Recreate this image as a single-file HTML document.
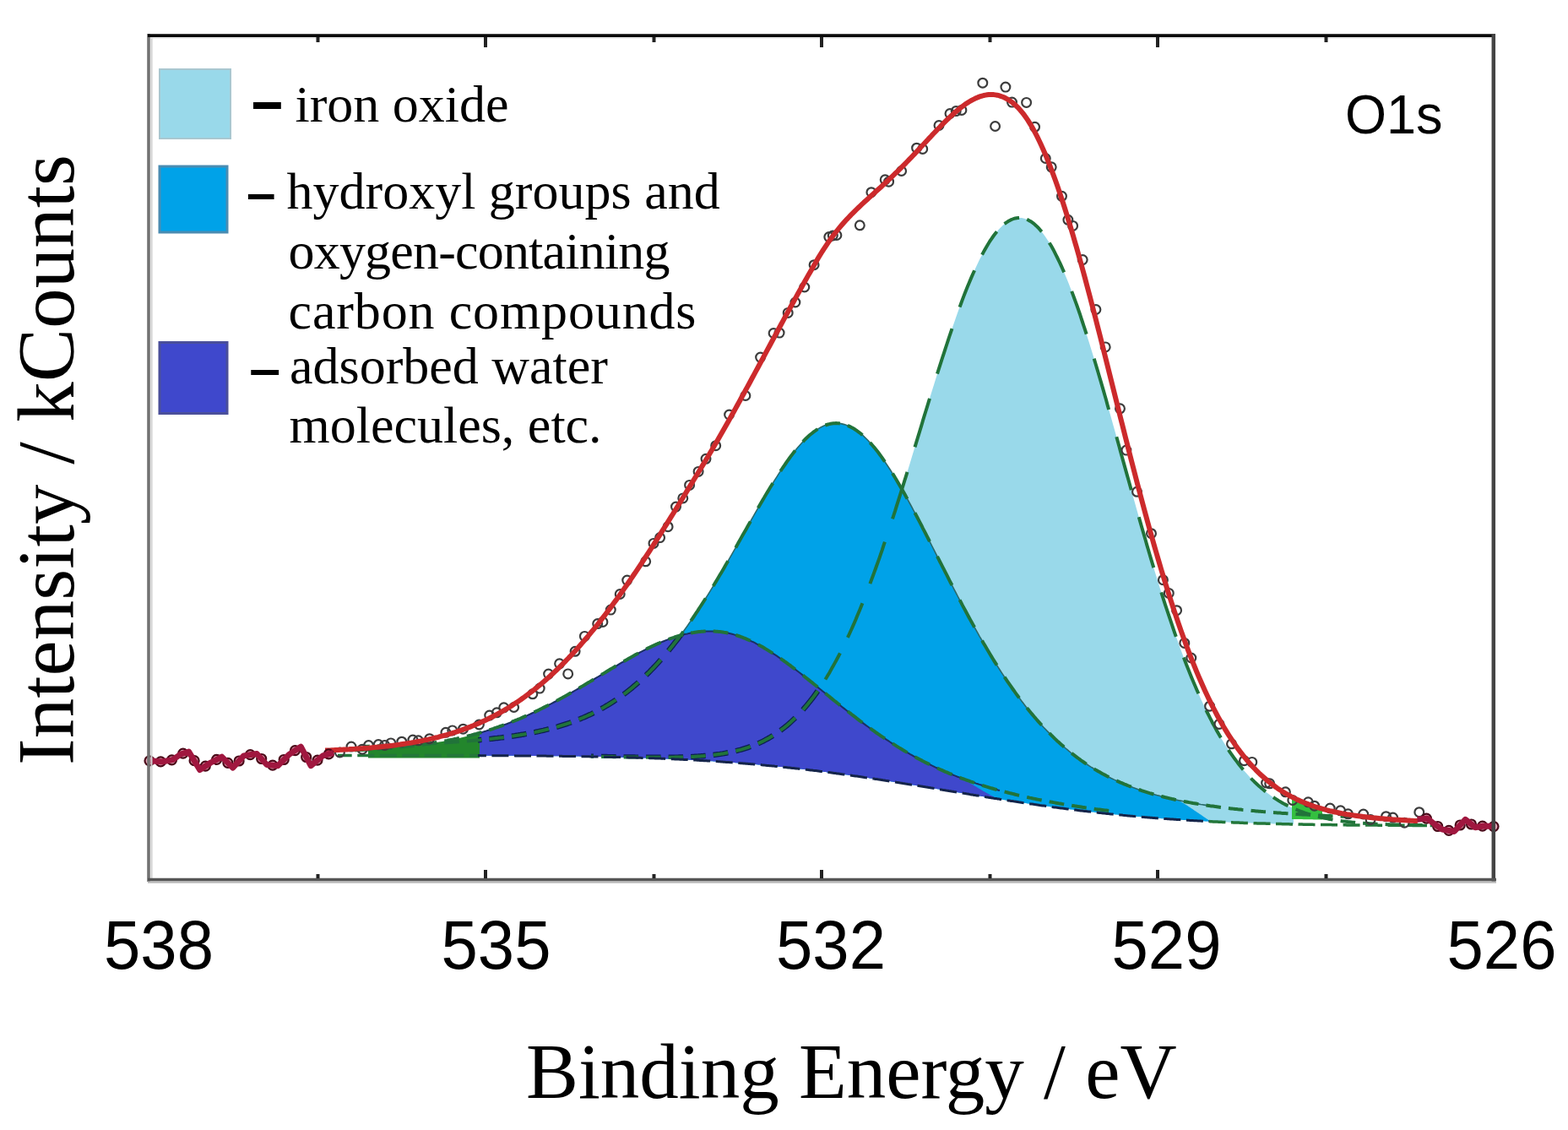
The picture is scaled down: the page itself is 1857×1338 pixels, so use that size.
<!DOCTYPE html>
<html><head><meta charset="utf-8"><title>O1s XPS spectrum</title>
<style>html,body{margin:0;padding:0;background:#fff;overflow:hidden}svg{display:block}</style>
</head><body>
<svg width="1857" height="1338" viewBox="0 0 1857 1338">
<rect width="1857" height="1338" fill="#fff"/>
<path d="M700.0,895.8 L702.0,895.8 L704.0,895.8 L706.0,895.9 L708.0,895.9 L710.0,895.9 L712.0,896.0 L714.0,896.0 L716.0,896.0 L718.0,896.0 L720.0,896.1 L722.0,896.1 L724.0,896.1 L726.0,896.2 L728.0,896.2 L730.0,896.2 L732.0,896.3 L734.0,896.3 L736.0,896.3 L738.0,896.4 L740.0,896.4 L742.0,896.4 L744.0,896.4 L746.0,896.5 L748.0,896.5 L750.0,896.5 L752.0,896.5 L754.0,896.6 L756.0,896.6 L758.0,896.6 L760.0,896.6 L762.0,896.7 L764.0,896.7 L766.0,896.7 L768.0,896.7 L770.0,896.7 L772.0,896.7 L774.0,896.8 L776.0,896.8 L778.0,896.8 L780.0,896.8 L782.0,896.8 L784.0,896.8 L786.0,896.8 L788.0,896.8 L790.0,896.7 L792.0,896.7 L794.0,896.7 L796.0,896.7 L798.0,896.7 L800.0,896.6 L802.0,896.6 L804.0,896.5 L806.0,896.5 L808.0,896.4 L810.0,896.4 L812.0,896.3 L814.0,896.2 L816.0,896.2 L818.0,896.1 L820.0,896.0 L822.0,895.9 L824.0,895.8 L826.0,895.6 L828.0,895.5 L830.0,895.4 L832.0,895.2 L834.0,895.0 L836.0,894.9 L838.0,894.7 L840.0,894.5 L842.0,894.3 L844.0,894.0 L846.0,893.8 L848.0,893.5 L850.0,893.3 L852.0,893.0 L854.0,892.7 L856.0,892.3 L858.0,892.0 L860.0,891.6 L862.0,891.3 L864.0,890.9 L866.0,890.5 L868.0,890.0 L870.0,889.5 L872.0,889.1 L874.0,888.5 L876.0,888.0 L878.0,887.4 L880.0,886.9 L882.0,886.2 L884.0,885.6 L886.0,884.9 L888.0,884.2 L890.0,883.5 L892.0,882.7 L894.0,881.9 L896.0,881.1 L898.0,880.2 L900.0,879.3 L902.0,878.3 L904.0,877.4 L906.0,876.3 L908.0,875.3 L910.0,874.2 L912.0,873.0 L914.0,871.8 L916.0,870.6 L918.0,869.3 L920.0,868.0 L922.0,866.6 L924.0,865.1 L926.0,863.7 L928.0,862.1 L930.0,860.5 L932.0,858.9 L934.0,857.2 L936.0,855.4 L938.0,853.6 L940.0,851.8 L942.0,849.8 L944.0,847.8 L946.0,845.8 L948.0,843.7 L950.0,841.5 L952.0,839.2 L954.0,836.9 L956.0,834.5 L958.0,832.1 L960.0,829.5 L962.0,826.9 L964.0,824.3 L966.0,821.5 L968.0,818.7 L970.0,815.8 L972.0,812.9 L974.0,809.8 L976.0,806.7 L978.0,803.5 L980.0,800.3 L982.0,796.9 L984.0,793.5 L986.0,790.0 L988.0,786.4 L990.0,782.7 L992.0,779.0 L994.0,775.1 L996.0,771.2 L998.0,767.2 L1000.0,763.1 L1002.0,759.0 L1004.0,754.7 L1006.0,750.4 L1008.0,746.0 L1010.0,741.5 L1012.0,736.9 L1014.0,732.3 L1016.0,727.5 L1018.0,722.7 L1020.0,717.8 L1022.0,712.9 L1024.0,707.8 L1026.0,702.7 L1028.0,697.5 L1030.0,692.2 L1032.0,686.9 L1034.0,681.4 L1036.0,676.0 L1038.0,670.4 L1040.0,664.8 L1042.0,659.1 L1044.0,653.3 L1046.0,647.5 L1048.0,641.6 L1050.0,635.6 L1052.0,629.6 L1054.0,623.5 L1056.0,617.4 L1058.0,611.3 L1060.0,605.1 L1062.0,598.8 L1064.0,592.5 L1066.0,586.1 L1068.0,579.8 L1070.0,573.3 L1072.0,566.9 L1074.0,560.4 L1076.0,553.9 L1078.0,547.4 L1080.0,540.8 L1082.0,534.3 L1084.0,527.7 L1086.0,521.1 L1088.0,514.5 L1090.0,508.0 L1092.0,501.4 L1094.0,494.8 L1096.0,488.2 L1098.0,481.7 L1100.0,475.1 L1102.0,468.6 L1104.0,462.1 L1106.0,455.7 L1108.0,449.2 L1110.0,442.8 L1112.0,436.5 L1114.0,430.2 L1116.0,423.9 L1118.0,417.7 L1120.0,411.6 L1122.0,405.5 L1124.0,399.5 L1126.0,393.6 L1128.0,387.7 L1130.0,381.9 L1132.0,376.2 L1134.0,370.6 L1136.0,365.1 L1138.0,359.7 L1140.0,354.4 L1142.0,349.2 L1144.0,344.1 L1146.0,339.1 L1148.0,334.2 L1150.0,329.5 L1152.0,324.8 L1154.0,320.3 L1156.0,316.0 L1158.0,311.7 L1160.0,307.6 L1162.0,303.7 L1164.0,299.9 L1166.0,296.2 L1168.0,292.7 L1170.0,289.3 L1172.0,286.1 L1174.0,283.1 L1176.0,280.2 L1178.0,277.5 L1180.0,275.0 L1182.0,272.6 L1184.0,270.4 L1186.0,268.4 L1188.0,266.5 L1190.0,264.8 L1192.0,263.3 L1194.0,262.0 L1196.0,260.9 L1198.0,259.9 L1200.0,259.2 L1202.0,258.6 L1204.0,258.2 L1206.0,258.0 L1208.0,258.0 L1210.0,258.1 L1212.0,258.5 L1214.0,259.0 L1216.0,259.7 L1218.0,260.7 L1220.0,261.8 L1222.0,263.1 L1224.0,264.6 L1226.0,266.2 L1228.0,268.1 L1230.0,270.2 L1232.0,272.4 L1234.0,274.8 L1236.0,277.4 L1238.0,280.2 L1240.0,283.2 L1242.0,286.3 L1244.0,289.6 L1246.0,293.1 L1248.0,296.7 L1250.0,300.5 L1252.0,304.5 L1254.0,308.6 L1256.0,312.9 L1258.0,317.4 L1260.0,321.9 L1262.0,326.7 L1264.0,331.5 L1266.0,336.6 L1268.0,341.7 L1270.0,347.0 L1272.0,352.4 L1274.0,357.9 L1276.0,363.6 L1278.0,369.3 L1280.0,375.2 L1282.0,381.2 L1284.0,387.2 L1286.0,393.4 L1288.0,399.7 L1290.0,406.0 L1292.0,412.5 L1294.0,419.0 L1296.0,425.6 L1298.0,432.3 L1300.0,439.0 L1302.0,445.8 L1304.0,452.7 L1306.0,459.6 L1308.0,466.5 L1310.0,473.6 L1312.0,480.6 L1314.0,487.7 L1316.0,494.8 L1318.0,501.9 L1320.0,509.1 L1322.0,516.3 L1324.0,523.5 L1326.0,530.7 L1328.0,537.9 L1330.0,545.1 L1332.0,552.3 L1334.0,559.5 L1336.0,566.7 L1338.0,573.9 L1340.0,581.1 L1342.0,588.2 L1344.0,595.3 L1346.0,602.4 L1348.0,609.5 L1350.0,616.5 L1352.0,623.5 L1354.0,630.5 L1356.0,637.4 L1358.0,644.2 L1360.0,651.1 L1362.0,657.8 L1364.0,664.5 L1366.0,671.2 L1368.0,677.8 L1370.0,684.3 L1372.0,690.8 L1374.0,697.2 L1376.0,703.5 L1378.0,709.7 L1380.0,715.9 L1382.0,722.1 L1384.0,728.1 L1386.0,734.1 L1388.0,739.9 L1390.0,745.8 L1392.0,751.5 L1394.0,757.1 L1396.0,762.7 L1398.0,768.2 L1400.0,773.6 L1402.0,778.9 L1404.0,784.1 L1406.0,789.2 L1408.0,794.3 L1410.0,799.3 L1412.0,804.1 L1414.0,808.9 L1416.0,813.6 L1418.0,818.2 L1420.0,822.8 L1422.0,827.2 L1424.0,831.5 L1426.0,835.8 L1428.0,840.0 L1430.0,844.1 L1432.0,848.1 L1434.0,852.0 L1436.0,855.8 L1438.0,859.5 L1440.0,863.2 L1442.0,866.8 L1444.0,870.3 L1446.0,873.7 L1448.0,877.0 L1450.0,880.3 L1452.0,883.4 L1454.0,886.5 L1456.0,889.5 L1458.0,892.5 L1460.0,895.3 L1462.0,898.1 L1464.0,900.8 L1466.0,903.4 L1468.0,906.0 L1470.0,908.5 L1472.0,910.9 L1474.0,913.3 L1476.0,915.6 L1478.0,917.8 L1480.0,919.9 L1482.0,922.0 L1484.0,924.1 L1486.0,926.0 L1488.0,927.9 L1490.0,929.8 L1492.0,931.6 L1494.0,933.3 L1496.0,935.0 L1498.0,936.6 L1500.0,938.2 L1502.0,939.7 L1504.0,941.2 L1506.0,942.7 L1508.0,944.0 L1510.0,945.4 L1512.0,946.7 L1514.0,947.9 L1516.0,949.1 L1518.0,950.3 L1520.0,951.4 L1522.0,952.4 L1524.0,953.5 L1526.0,954.5 L1528.0,955.5 L1530.0,956.4 L1532.0,957.3 L1532.0,975.9 L1530.0,975.9 L1528.0,975.9 L1526.0,975.8 L1524.0,975.8 L1522.0,975.7 L1520.0,975.7 L1518.0,975.6 L1516.0,975.6 L1514.0,975.5 L1512.0,975.5 L1510.0,975.4 L1508.0,975.4 L1506.0,975.3 L1504.0,975.3 L1502.0,975.2 L1500.0,975.2 L1498.0,975.1 L1496.0,975.1 L1494.0,975.0 L1492.0,975.0 L1490.0,974.9 L1488.0,974.8 L1486.0,974.8 L1484.0,974.7 L1482.0,974.6 L1480.0,974.6 L1478.0,974.5 L1476.0,974.4 L1474.0,974.4 L1472.0,974.3 L1470.0,974.2 L1468.0,974.2 L1466.0,974.1 L1464.0,974.0 L1462.0,973.9 L1460.0,973.9 L1458.0,973.8 L1456.0,973.7 L1454.0,973.6 L1452.0,973.5 L1450.0,973.4 L1448.0,973.4 L1446.0,973.3 L1444.0,973.2 L1442.0,973.1 L1440.0,973.0 L1438.0,972.9 L1436.0,972.8 L1434.0,972.7 L1432.0,972.6 L1430.0,972.5 L1428.0,972.4 L1426.0,972.3 L1424.0,972.2 L1422.0,972.1 L1420.0,972.0 L1418.0,971.9 L1416.0,971.8 L1414.0,971.7 L1412.0,971.6 L1410.0,971.4 L1408.0,971.3 L1406.0,971.2 L1404.0,971.1 L1402.0,971.0 L1400.0,970.8 L1398.0,970.7 L1396.0,970.6 L1394.0,970.4 L1392.0,970.3 L1390.0,970.2 L1388.0,970.0 L1386.0,969.9 L1384.0,969.8 L1382.0,969.6 L1380.0,969.5 L1378.0,969.3 L1376.0,969.2 L1374.0,969.1 L1372.0,968.9 L1370.0,968.8 L1368.0,968.6 L1366.0,968.4 L1364.0,968.3 L1362.0,968.1 L1360.0,968.0 L1358.0,967.8 L1356.0,967.6 L1354.0,967.5 L1352.0,967.3 L1350.0,967.1 L1348.0,967.0 L1346.0,966.8 L1344.0,966.6 L1342.0,966.4 L1340.0,966.2 L1338.0,966.1 L1336.0,965.9 L1334.0,965.7 L1332.0,965.5 L1330.0,965.3 L1328.0,965.1 L1326.0,964.9 L1324.0,964.7 L1322.0,964.5 L1320.0,964.3 L1318.0,964.1 L1316.0,963.9 L1314.0,963.7 L1312.0,963.5 L1310.0,963.3 L1308.0,963.1 L1306.0,962.9 L1304.0,962.6 L1302.0,962.4 L1300.0,962.2 L1298.0,962.0 L1296.0,961.7 L1294.0,961.5 L1292.0,961.3 L1290.0,961.1 L1288.0,960.8 L1286.0,960.6 L1284.0,960.4 L1282.0,960.1 L1280.0,959.9 L1278.0,959.6 L1276.0,959.4 L1274.0,959.1 L1272.0,958.9 L1270.0,958.6 L1268.0,958.4 L1266.0,958.1 L1264.0,957.9 L1262.0,957.6 L1260.0,957.4 L1258.0,957.1 L1256.0,956.8 L1254.0,956.6 L1252.0,956.3 L1250.0,956.0 L1248.0,955.8 L1246.0,955.5 L1244.0,955.2 L1242.0,954.9 L1240.0,954.7 L1238.0,954.4 L1236.0,954.1 L1234.0,953.8 L1232.0,953.5 L1230.0,953.2 L1228.0,953.0 L1226.0,952.7 L1224.0,952.4 L1222.0,952.1 L1220.0,951.8 L1218.0,951.5 L1216.0,951.2 L1214.0,950.9 L1212.0,950.6 L1210.0,950.3 L1208.0,950.0 L1206.0,949.7 L1204.0,949.4 L1202.0,949.1 L1200.0,948.8 L1198.0,948.5 L1196.0,948.2 L1194.0,947.9 L1192.0,947.6 L1190.0,947.2 L1188.0,946.9 L1186.0,946.6 L1184.0,946.3 L1182.0,946.0 L1180.0,945.7 L1178.0,945.3 L1176.0,945.0 L1174.0,944.7 L1172.0,944.4 L1170.0,944.1 L1168.0,943.7 L1166.0,943.4 L1164.0,943.1 L1162.0,942.8 L1160.0,942.4 L1158.0,942.1 L1156.0,941.8 L1154.0,941.5 L1152.0,941.1 L1150.0,940.8 L1148.0,940.5 L1146.0,940.1 L1144.0,939.8 L1142.0,939.5 L1140.0,939.1 L1138.0,938.8 L1136.0,938.5 L1134.0,938.2 L1132.0,937.8 L1130.0,937.5 L1128.0,937.2 L1126.0,936.8 L1124.0,936.5 L1122.0,936.2 L1120.0,935.8 L1118.0,935.5 L1116.0,935.2 L1114.0,934.8 L1112.0,934.5 L1110.0,934.2 L1108.0,933.8 L1106.0,933.5 L1104.0,933.2 L1102.0,932.8 L1100.0,932.5 L1098.0,932.2 L1096.0,931.9 L1094.0,931.5 L1092.0,931.2 L1090.0,930.9 L1088.0,930.5 L1086.0,930.2 L1084.0,929.9 L1082.0,929.6 L1080.0,929.2 L1078.0,928.9 L1076.0,928.6 L1074.0,928.3 L1072.0,927.9 L1070.0,927.6 L1068.0,927.3 L1066.0,927.0 L1064.0,926.7 L1062.0,926.3 L1060.0,926.0 L1058.0,925.7 L1056.0,925.4 L1054.0,925.1 L1052.0,924.8 L1050.0,924.4 L1048.0,924.1 L1046.0,923.8 L1044.0,923.5 L1042.0,923.2 L1040.0,922.9 L1038.0,922.6 L1036.0,922.3 L1034.0,922.0 L1032.0,921.7 L1030.0,921.4 L1028.0,921.1 L1026.0,920.8 L1024.0,920.5 L1022.0,920.2 L1020.0,919.9 L1018.0,919.6 L1016.0,919.3 L1014.0,919.0 L1012.0,918.7 L1010.0,918.5 L1008.0,918.2 L1006.0,917.9 L1004.0,917.6 L1002.0,917.3 L1000.0,917.1 L998.0,916.8 L996.0,916.5 L994.0,916.2 L992.0,916.0 L990.0,915.7 L988.0,915.4 L986.0,915.2 L984.0,914.9 L982.0,914.6 L980.0,914.4 L978.0,914.1 L976.0,913.9 L974.0,913.6 L972.0,913.4 L970.0,913.1 L968.0,912.9 L966.0,912.6 L964.0,912.4 L962.0,912.1 L960.0,911.9 L958.0,911.6 L956.0,911.4 L954.0,911.2 L952.0,910.9 L950.0,910.7 L948.0,910.5 L946.0,910.3 L944.0,910.0 L942.0,909.8 L940.0,909.6 L938.0,909.4 L936.0,909.1 L934.0,908.9 L932.0,908.7 L930.0,908.5 L928.0,908.3 L926.0,908.1 L924.0,907.9 L922.0,907.7 L920.0,907.5 L918.0,907.3 L916.0,907.1 L914.0,906.9 L912.0,906.7 L910.0,906.5 L908.0,906.3 L906.0,906.1 L904.0,905.9 L902.0,905.8 L900.0,905.6 L898.0,905.4 L896.0,905.2 L894.0,905.0 L892.0,904.9 L890.0,904.7 L888.0,904.5 L886.0,904.4 L884.0,904.2 L882.0,904.0 L880.0,903.9 L878.0,903.7 L876.0,903.6 L874.0,903.4 L872.0,903.2 L870.0,903.1 L868.0,902.9 L866.0,902.8 L864.0,902.7 L862.0,902.5 L860.0,902.4 L858.0,902.2 L856.0,902.1 L854.0,901.9 L852.0,901.8 L850.0,901.7 L848.0,901.6 L846.0,901.4 L844.0,901.3 L842.0,901.2 L840.0,901.0 L838.0,900.9 L836.0,900.8 L834.0,900.7 L832.0,900.6 L830.0,900.4 L828.0,900.3 L826.0,900.2 L824.0,900.1 L822.0,900.0 L820.0,899.9 L818.0,899.8 L816.0,899.7 L814.0,899.6 L812.0,899.5 L810.0,899.4 L808.0,899.3 L806.0,899.2 L804.0,899.1 L802.0,899.0 L800.0,898.9 L798.0,898.8 L796.0,898.7 L794.0,898.6 L792.0,898.6 L790.0,898.5 L788.0,898.4 L786.0,898.3 L784.0,898.2 L782.0,898.1 L780.0,898.1 L778.0,898.0 L776.0,897.9 L774.0,897.8 L772.0,897.8 L770.0,897.7 L768.0,897.6 L766.0,897.6 L764.0,897.5 L762.0,897.4 L760.0,897.4 L758.0,897.3 L756.0,897.2 L754.0,897.2 L752.0,897.1 L750.0,897.0 L748.0,897.0 L746.0,896.9 L744.0,896.9 L742.0,896.8 L740.0,896.8 L738.0,896.7 L736.0,896.7 L734.0,896.6 L732.0,896.6 L730.0,896.5 L728.0,896.5 L726.0,896.4 L724.0,896.4 L722.0,896.3 L720.0,896.3 L718.0,896.2 L716.0,896.2 L714.0,896.1 L712.0,896.1 L710.0,896.1 L708.0,896.0 L706.0,896.0 L704.0,895.9 L702.0,895.9 L700.0,895.9 Z" fill="#99d9ea"/>
<path d="M560.0,876.9 L561.0,876.8 L562.0,876.7 L563.0,876.6 L564.0,876.5 L565.0,876.4 L566.0,876.4 L567.0,876.3 L568.0,876.2 L569.0,876.1 L570.0,876.0 L571.0,875.9 L572.0,875.8 L573.0,875.7 L574.0,875.6 L575.0,875.5 L576.0,875.4 L577.0,875.3 L578.0,875.2 L579.0,875.1 L580.0,875.0 L581.0,874.9 L582.0,874.7 L583.0,874.6 L584.0,874.5 L585.0,874.4 L586.0,874.3 L587.0,874.2 L588.0,874.1 L589.0,873.9 L590.0,873.8 L591.0,873.7 L592.0,873.6 L593.0,873.5 L594.0,873.3 L595.0,873.2 L596.0,873.1 L597.0,873.0 L598.0,872.8 L599.0,872.7 L600.0,872.6 L601.0,872.4 L602.0,872.3 L603.0,872.1 L604.0,872.0 L605.0,871.9 L606.0,871.7 L607.0,871.6 L608.0,871.4 L609.0,871.3 L610.0,871.1 L611.0,871.0 L612.0,870.8 L613.0,870.7 L614.0,870.5 L615.0,870.3 L616.0,870.2 L617.0,870.0 L618.0,869.9 L619.0,869.7 L620.0,869.5 L621.0,869.3 L622.0,869.2 L623.0,869.0 L624.0,868.8 L625.0,868.6 L626.0,868.4 L627.0,868.3 L628.0,868.1 L629.0,867.9 L630.0,867.7 L631.0,867.5 L632.0,867.3 L633.0,867.1 L634.0,866.9 L635.0,866.7 L636.0,866.5 L637.0,866.2 L638.0,866.0 L639.0,865.8 L640.0,865.6 L641.0,865.4 L642.0,865.1 L643.0,864.9 L644.0,864.7 L645.0,864.4 L646.0,864.2 L647.0,864.0 L648.0,863.7 L649.0,863.5 L650.0,863.2 L651.0,863.0 L652.0,862.7 L653.0,862.5 L654.0,862.2 L655.0,861.9 L656.0,861.6 L657.0,861.4 L658.0,861.1 L659.0,860.8 L660.0,860.5 L661.0,860.2 L662.0,859.9 L663.0,859.6 L664.0,859.3 L665.0,859.0 L666.0,858.7 L667.0,858.4 L668.0,858.1 L669.0,857.8 L670.0,857.5 L671.0,857.1 L672.0,856.8 L673.0,856.5 L674.0,856.1 L675.0,855.8 L676.0,855.4 L677.0,855.1 L678.0,854.7 L679.0,854.3 L680.0,854.0 L681.0,853.6 L682.0,853.2 L683.0,852.8 L684.0,852.4 L685.0,852.0 L686.0,851.6 L687.0,851.2 L688.0,850.8 L689.0,850.4 L690.0,850.0 L691.0,849.6 L692.0,849.1 L693.0,848.7 L694.0,848.3 L695.0,847.8 L696.0,847.4 L697.0,846.9 L698.0,846.4 L699.0,846.0 L700.0,845.5 L701.0,845.0 L702.0,844.5 L703.0,844.0 L704.0,843.5 L705.0,843.0 L706.0,842.5 L707.0,842.0 L708.0,841.5 L709.0,841.0 L710.0,840.4 L711.0,839.9 L712.0,839.3 L713.0,838.8 L714.0,838.2 L715.0,837.6 L716.0,837.1 L717.0,836.5 L718.0,835.9 L719.0,835.3 L720.0,834.7 L721.0,834.1 L722.0,833.5 L723.0,832.9 L724.0,832.2 L725.0,831.6 L726.0,830.9 L727.0,830.3 L728.0,829.6 L729.0,829.0 L730.0,828.3 L731.0,827.6 L732.0,826.9 L733.0,826.2 L734.0,825.5 L735.0,824.8 L736.0,824.1 L737.0,823.4 L738.0,822.6 L739.0,821.9 L740.0,821.1 L741.0,820.4 L742.0,819.6 L743.0,818.8 L744.0,818.0 L745.0,817.2 L746.0,816.4 L747.0,815.6 L748.0,814.8 L749.0,814.0 L750.0,813.2 L751.0,812.3 L752.0,811.5 L753.0,810.6 L754.0,809.7 L755.0,808.9 L756.0,808.0 L757.0,807.1 L758.0,806.2 L759.0,805.3 L760.0,804.4 L761.0,803.4 L762.0,802.5 L763.0,801.6 L764.0,800.6 L765.0,799.6 L766.0,798.7 L767.0,797.7 L768.0,796.7 L769.0,795.7 L770.0,794.7 L771.0,793.7 L772.0,792.6 L773.0,791.6 L774.0,790.6 L775.0,789.5 L776.0,788.4 L777.0,787.4 L778.0,786.3 L779.0,785.2 L780.0,784.1 L781.0,783.0 L782.0,781.9 L783.0,780.7 L784.0,779.6 L785.0,778.4 L786.0,777.3 L787.0,776.1 L788.0,774.9 L789.0,773.8 L790.0,772.6 L791.0,771.4 L792.0,770.2 L793.0,768.9 L794.0,767.7 L795.0,766.5 L796.0,765.2 L797.0,764.0 L798.0,762.7 L799.0,761.4 L800.0,760.1 L801.0,758.8 L802.0,757.5 L803.0,756.2 L804.0,754.9 L805.0,753.6 L806.0,752.2 L807.0,750.9 L808.0,749.5 L809.0,748.1 L810.0,746.8 L811.0,745.4 L812.0,744.0 L813.0,742.6 L814.0,741.2 L815.0,739.8 L816.0,738.3 L817.0,736.9 L818.0,735.4 L819.0,734.0 L820.0,732.5 L821.0,731.1 L822.0,729.6 L823.0,728.1 L824.0,726.6 L825.0,725.1 L826.0,723.6 L827.0,722.1 L828.0,720.5 L829.0,719.0 L830.0,717.4 L831.0,715.9 L832.0,714.3 L833.0,712.8 L834.0,711.2 L835.0,709.6 L836.0,708.0 L837.0,706.4 L838.0,704.8 L839.0,703.2 L840.0,701.6 L841.0,700.0 L842.0,698.4 L843.0,696.7 L844.0,695.1 L845.0,693.4 L846.0,691.8 L847.0,690.1 L848.0,688.5 L849.0,686.8 L850.0,685.1 L851.0,683.4 L852.0,681.7 L853.0,680.0 L854.0,678.3 L855.0,676.6 L856.0,674.9 L857.0,673.2 L858.0,671.5 L859.0,669.8 L860.0,668.1 L861.0,666.3 L862.0,664.6 L863.0,662.9 L864.0,661.1 L865.0,659.4 L866.0,657.6 L867.0,655.9 L868.0,654.1 L869.0,652.4 L870.0,650.6 L871.0,648.8 L872.0,647.1 L873.0,645.3 L874.0,643.6 L875.0,641.8 L876.0,640.0 L877.0,638.2 L878.0,636.5 L879.0,634.7 L880.0,632.9 L881.0,631.2 L882.0,629.4 L883.0,627.6 L884.0,625.8 L885.0,624.1 L886.0,622.3 L887.0,620.5 L888.0,618.8 L889.0,617.0 L890.0,615.2 L891.0,613.5 L892.0,611.7 L893.0,610.0 L894.0,608.2 L895.0,606.5 L896.0,604.7 L897.0,603.0 L898.0,601.2 L899.0,599.5 L900.0,597.8 L901.0,596.0 L902.0,594.3 L903.0,592.6 L904.0,590.9 L905.0,589.2 L906.0,587.5 L907.0,585.8 L908.0,584.1 L909.0,582.4 L910.0,580.8 L911.0,579.1 L912.0,577.4 L913.0,575.8 L914.0,574.2 L915.0,572.5 L916.0,570.9 L917.0,569.3 L918.0,567.7 L919.0,566.1 L920.0,564.6 L921.0,563.0 L922.0,561.4 L923.0,559.9 L924.0,558.4 L925.0,556.8 L926.0,555.3 L927.0,553.8 L928.0,552.4 L929.0,550.9 L930.0,549.5 L931.0,548.0 L932.0,546.6 L933.0,545.2 L934.0,543.8 L935.0,542.4 L936.0,541.1 L937.0,539.7 L938.0,538.4 L939.0,537.1 L940.0,535.8 L941.0,534.5 L942.0,533.3 L943.0,532.1 L944.0,530.8 L945.0,529.7 L946.0,528.5 L947.0,527.3 L948.0,526.2 L949.0,525.1 L950.0,524.0 L951.0,522.9 L952.0,521.9 L953.0,520.8 L954.0,519.8 L955.0,518.9 L956.0,517.9 L957.0,517.0 L958.0,516.1 L959.0,515.2 L960.0,514.3 L961.0,513.5 L962.0,512.7 L963.0,511.9 L964.0,511.1 L965.0,510.4 L966.0,509.7 L967.0,509.0 L968.0,508.3 L969.0,507.7 L970.0,507.1 L971.0,506.5 L972.0,506.0 L973.0,505.5 L974.0,505.0 L975.0,504.5 L976.0,504.1 L977.0,503.7 L978.0,503.3 L979.0,503.0 L980.0,502.7 L981.0,502.4 L982.0,502.1 L983.0,501.9 L984.0,501.7 L985.0,501.5 L986.0,501.4 L987.0,501.3 L988.0,501.2 L989.0,501.1 L990.0,501.1 L991.0,501.1 L992.0,501.2 L993.0,501.2 L994.0,501.3 L995.0,501.5 L996.0,501.6 L997.0,501.8 L998.0,502.1 L999.0,502.3 L1000.0,502.6 L1001.0,502.9 L1002.0,503.2 L1003.0,503.6 L1004.0,504.0 L1005.0,504.4 L1006.0,504.8 L1007.0,505.3 L1008.0,505.8 L1009.0,506.4 L1010.0,506.9 L1011.0,507.5 L1012.0,508.1 L1013.0,508.8 L1014.0,509.4 L1015.0,510.1 L1016.0,510.8 L1017.0,511.6 L1018.0,512.4 L1019.0,513.2 L1020.0,514.0 L1021.0,514.9 L1022.0,515.7 L1023.0,516.6 L1024.0,517.6 L1025.0,518.5 L1026.0,519.5 L1027.0,520.5 L1028.0,521.5 L1029.0,522.6 L1030.0,523.7 L1031.0,524.8 L1032.0,525.9 L1033.0,527.0 L1034.0,528.2 L1035.0,529.4 L1036.0,530.6 L1037.0,531.8 L1038.0,533.1 L1039.0,534.4 L1040.0,535.6 L1041.0,537.0 L1042.0,538.3 L1043.0,539.7 L1044.0,541.0 L1045.0,542.4 L1046.0,543.8 L1047.0,545.3 L1048.0,546.7 L1049.0,548.2 L1050.0,549.7 L1051.0,551.2 L1052.0,552.7 L1053.0,554.2 L1054.0,555.8 L1055.0,557.4 L1056.0,558.9 L1057.0,560.5 L1058.0,562.1 L1059.0,563.8 L1060.0,565.4 L1061.0,567.1 L1062.0,568.7 L1063.0,570.4 L1064.0,572.1 L1065.0,573.8 L1066.0,575.5 L1067.0,577.3 L1068.0,579.0 L1069.0,580.8 L1070.0,582.5 L1071.0,584.3 L1072.0,586.1 L1073.0,587.9 L1074.0,589.7 L1075.0,591.5 L1076.0,593.4 L1077.0,595.2 L1078.0,597.0 L1079.0,598.9 L1080.0,600.7 L1081.0,602.6 L1082.0,604.5 L1083.0,606.4 L1084.0,608.2 L1085.0,610.1 L1086.0,612.0 L1087.0,613.9 L1088.0,615.9 L1089.0,617.8 L1090.0,619.7 L1091.0,621.6 L1092.0,623.5 L1093.0,625.5 L1094.0,627.4 L1095.0,629.4 L1096.0,631.3 L1097.0,633.3 L1098.0,635.2 L1099.0,637.2 L1100.0,639.1 L1101.0,641.1 L1102.0,643.0 L1103.0,645.0 L1104.0,647.0 L1105.0,648.9 L1106.0,650.9 L1107.0,652.9 L1108.0,654.8 L1109.0,656.8 L1110.0,658.8 L1111.0,660.7 L1112.0,662.7 L1113.0,664.7 L1114.0,666.6 L1115.0,668.6 L1116.0,670.6 L1117.0,672.5 L1118.0,674.5 L1119.0,676.4 L1120.0,678.4 L1121.0,680.3 L1122.0,682.3 L1123.0,684.2 L1124.0,686.2 L1125.0,688.1 L1126.0,690.1 L1127.0,692.0 L1128.0,694.0 L1129.0,695.9 L1130.0,697.8 L1131.0,699.7 L1132.0,701.7 L1133.0,703.6 L1134.0,705.5 L1135.0,707.4 L1136.0,709.3 L1137.0,711.2 L1138.0,713.1 L1139.0,715.0 L1140.0,716.9 L1141.0,718.7 L1142.0,720.6 L1143.0,722.5 L1144.0,724.3 L1145.0,726.2 L1146.0,728.0 L1147.0,729.9 L1148.0,731.7 L1149.0,733.6 L1150.0,735.4 L1151.0,737.2 L1152.0,739.0 L1153.0,740.8 L1154.0,742.6 L1155.0,744.4 L1156.0,746.2 L1157.0,748.0 L1158.0,749.7 L1159.0,751.5 L1160.0,753.3 L1161.0,755.0 L1162.0,756.7 L1163.0,758.5 L1164.0,760.2 L1165.0,761.9 L1166.0,763.6 L1167.0,765.3 L1168.0,767.0 L1169.0,768.7 L1170.0,770.4 L1171.0,772.1 L1172.0,773.7 L1173.0,775.4 L1174.0,777.0 L1175.0,778.7 L1176.0,780.3 L1177.0,781.9 L1178.0,783.5 L1179.0,785.1 L1180.0,786.7 L1181.0,788.3 L1182.0,789.9 L1183.0,791.4 L1184.0,793.0 L1185.0,794.5 L1186.0,796.1 L1187.0,797.6 L1188.0,799.1 L1189.0,800.6 L1190.0,802.1 L1191.0,803.6 L1192.0,805.1 L1193.0,806.6 L1194.0,808.1 L1195.0,809.5 L1196.0,811.0 L1197.0,812.4 L1198.0,813.8 L1199.0,815.2 L1200.0,816.7 L1201.0,818.1 L1202.0,819.4 L1203.0,820.8 L1204.0,822.2 L1205.0,823.6 L1206.0,824.9 L1207.0,826.3 L1208.0,827.6 L1209.0,828.9 L1210.0,830.2 L1211.0,831.5 L1212.0,832.8 L1213.0,834.1 L1214.0,835.4 L1215.0,836.7 L1216.0,837.9 L1217.0,839.2 L1218.0,840.4 L1219.0,841.6 L1220.0,842.9 L1221.0,844.1 L1222.0,845.3 L1223.0,846.5 L1224.0,847.7 L1225.0,848.8 L1226.0,850.0 L1227.0,851.2 L1228.0,852.3 L1229.0,853.4 L1230.0,854.6 L1231.0,855.7 L1232.0,856.8 L1233.0,857.9 L1234.0,859.0 L1235.0,860.1 L1236.0,861.2 L1237.0,862.2 L1238.0,863.3 L1239.0,864.3 L1240.0,865.4 L1241.0,866.4 L1242.0,867.4 L1243.0,868.4 L1244.0,869.4 L1245.0,870.4 L1246.0,871.4 L1247.0,872.4 L1248.0,873.4 L1249.0,874.3 L1250.0,875.3 L1251.0,876.2 L1252.0,877.1 L1253.0,878.1 L1254.0,879.0 L1255.0,879.9 L1256.0,880.8 L1257.0,881.7 L1258.0,882.6 L1259.0,883.4 L1260.0,884.3 L1261.0,885.2 L1262.0,886.0 L1263.0,886.9 L1264.0,887.7 L1265.0,888.5 L1266.0,889.4 L1267.0,890.2 L1268.0,891.0 L1269.0,891.8 L1270.0,892.6 L1271.0,893.3 L1272.0,894.1 L1273.0,894.9 L1274.0,895.6 L1275.0,896.4 L1276.0,897.1 L1277.0,897.9 L1278.0,898.6 L1279.0,899.3 L1280.0,900.0 L1281.0,900.7 L1282.0,901.5 L1283.0,902.1 L1284.0,902.8 L1285.0,903.5 L1286.0,904.2 L1287.0,904.9 L1288.0,905.5 L1289.0,906.2 L1290.0,906.8 L1291.0,907.5 L1292.0,908.1 L1293.0,908.7 L1294.0,909.3 L1295.0,909.9 L1296.0,910.6 L1297.0,911.2 L1298.0,911.8 L1299.0,912.3 L1300.0,912.9 L1301.0,913.5 L1302.0,914.1 L1303.0,914.6 L1304.0,915.2 L1305.0,915.7 L1306.0,916.3 L1307.0,916.8 L1308.0,917.4 L1309.0,917.9 L1310.0,918.4 L1311.0,918.9 L1312.0,919.5 L1313.0,920.0 L1314.0,920.5 L1315.0,921.0 L1316.0,921.5 L1317.0,921.9 L1318.0,922.4 L1319.0,922.9 L1320.0,923.4 L1321.0,923.8 L1322.0,924.3 L1323.0,924.8 L1324.0,925.2 L1325.0,925.7 L1326.0,926.1 L1327.0,926.5 L1328.0,927.0 L1329.0,927.4 L1330.0,927.8 L1331.0,928.2 L1332.0,928.7 L1333.0,929.1 L1334.0,929.5 L1335.0,929.9 L1336.0,930.3 L1337.0,930.7 L1338.0,931.1 L1339.0,931.4 L1340.0,931.8 L1341.0,932.2 L1342.0,932.6 L1343.0,932.9 L1344.0,933.3 L1345.0,933.7 L1346.0,934.0 L1347.0,934.4 L1348.0,934.7 L1349.0,935.1 L1350.0,935.4 L1351.0,935.7 L1352.0,936.1 L1353.0,936.4 L1354.0,936.7 L1355.0,937.0 L1356.0,937.4 L1357.0,937.7 L1358.0,938.0 L1359.0,938.3 L1360.0,938.6 L1361.0,938.9 L1362.0,939.2 L1363.0,939.5 L1364.0,939.8 L1365.0,940.1 L1366.0,940.4 L1367.0,940.7 L1368.0,940.9 L1369.0,941.2 L1370.0,941.5 L1371.0,941.8 L1372.0,942.0 L1373.0,942.3 L1374.0,942.6 L1375.0,942.8 L1376.0,943.1 L1377.0,943.3 L1378.0,943.6 L1379.0,943.8 L1380.0,944.1 L1381.0,944.3 L1382.0,944.6 L1383.0,944.8 L1384.0,945.0 L1385.0,945.3 L1386.0,945.5 L1387.0,945.7 L1388.0,946.0 L1389.0,946.2 L1390.0,946.4 L1391.0,946.6 L1392.0,946.9 L1393.0,947.1 L1394.0,947.3 L1395.0,947.5 L1396.0,947.9 L1397.0,948.4 L1398.0,948.9 L1399.0,949.5 L1400.0,950.1 L1401.0,950.7 L1402.0,951.3 L1403.0,951.9 L1404.0,952.5 L1405.0,953.2 L1406.0,953.8 L1407.0,954.5 L1408.0,955.2 L1409.0,955.8 L1410.0,956.5 L1411.0,957.2 L1412.0,957.8 L1413.0,958.5 L1414.0,959.2 L1415.0,959.9 L1416.0,960.6 L1417.0,961.2 L1418.0,961.9 L1419.0,962.6 L1420.0,963.3 L1421.0,964.0 L1422.0,964.6 L1423.0,965.3 L1424.0,966.0 L1425.0,966.7 L1426.0,967.4 L1427.0,968.0 L1428.0,968.7 L1429.0,969.4 L1430.0,970.1 L1431.0,970.7 L1432.0,971.4 L1433.0,972.1 L1434.0,972.7 L1434.0,972.7 L1433.0,972.7 L1432.0,972.6 L1431.0,972.6 L1430.0,972.5 L1429.0,972.5 L1428.0,972.4 L1427.0,972.4 L1426.0,972.3 L1425.0,972.3 L1424.0,972.2 L1423.0,972.2 L1422.0,972.1 L1421.0,972.1 L1420.0,972.0 L1419.0,971.9 L1418.0,971.9 L1417.0,971.8 L1416.0,971.8 L1415.0,971.7 L1414.0,971.7 L1413.0,971.6 L1412.0,971.6 L1411.0,971.5 L1410.0,971.4 L1409.0,971.4 L1408.0,971.3 L1407.0,971.3 L1406.0,971.2 L1405.0,971.1 L1404.0,971.1 L1403.0,971.0 L1402.0,971.0 L1401.0,970.9 L1400.0,970.8 L1399.0,970.8 L1398.0,970.7 L1397.0,970.6 L1396.0,970.6 L1395.0,970.5 L1394.0,970.4 L1393.0,970.4 L1392.0,970.3 L1391.0,970.3 L1390.0,970.2 L1389.0,970.1 L1388.0,970.0 L1387.0,970.0 L1386.0,969.9 L1385.0,969.8 L1384.0,969.8 L1383.0,969.7 L1382.0,969.6 L1381.0,969.6 L1380.0,969.5 L1379.0,969.4 L1378.0,969.3 L1377.0,969.3 L1376.0,969.2 L1375.0,969.1 L1374.0,969.1 L1373.0,969.0 L1372.0,968.9 L1371.0,968.8 L1370.0,968.8 L1369.0,968.7 L1368.0,968.6 L1367.0,968.5 L1366.0,968.4 L1365.0,968.4 L1364.0,968.3 L1363.0,968.2 L1362.0,968.1 L1361.0,968.0 L1360.0,968.0 L1359.0,967.9 L1358.0,967.8 L1357.0,967.7 L1356.0,967.6 L1355.0,967.6 L1354.0,967.5 L1353.0,967.4 L1352.0,967.3 L1351.0,967.2 L1350.0,967.1 L1349.0,967.0 L1348.0,967.0 L1347.0,966.9 L1346.0,966.8 L1345.0,966.7 L1344.0,966.6 L1343.0,966.5 L1342.0,966.4 L1341.0,966.3 L1340.0,966.2 L1339.0,966.1 L1338.0,966.1 L1337.0,966.0 L1336.0,965.9 L1335.0,965.8 L1334.0,965.7 L1333.0,965.6 L1332.0,965.5 L1331.0,965.4 L1330.0,965.3 L1329.0,965.2 L1328.0,965.1 L1327.0,965.0 L1326.0,964.9 L1325.0,964.8 L1324.0,964.7 L1323.0,964.6 L1322.0,964.5 L1321.0,964.4 L1320.0,964.3 L1319.0,964.2 L1318.0,964.1 L1317.0,964.0 L1316.0,963.9 L1315.0,963.8 L1314.0,963.7 L1313.0,963.6 L1312.0,963.5 L1311.0,963.4 L1310.0,963.3 L1309.0,963.2 L1308.0,963.1 L1307.0,963.0 L1306.0,962.9 L1305.0,962.7 L1304.0,962.6 L1303.0,962.5 L1302.0,962.4 L1301.0,962.3 L1300.0,962.2 L1299.0,962.1 L1298.0,962.0 L1297.0,961.9 L1296.0,961.7 L1295.0,961.6 L1294.0,961.5 L1293.0,961.4 L1292.0,961.3 L1291.0,961.2 L1290.0,961.1 L1289.0,960.9 L1288.0,960.8 L1287.0,960.7 L1286.0,960.6 L1285.0,960.5 L1284.0,960.4 L1283.0,960.2 L1282.0,960.1 L1281.0,960.0 L1280.0,959.9 L1279.0,959.8 L1278.0,959.6 L1277.0,959.5 L1276.0,959.4 L1275.0,959.3 L1274.0,959.1 L1273.0,959.0 L1272.0,958.9 L1271.0,958.8 L1270.0,958.6 L1269.0,958.5 L1268.0,958.4 L1267.0,958.3 L1266.0,958.1 L1265.0,958.0 L1264.0,957.9 L1263.0,957.7 L1262.0,957.6 L1261.0,957.5 L1260.0,957.4 L1259.0,957.2 L1258.0,957.1 L1257.0,957.0 L1256.0,956.8 L1255.0,956.7 L1254.0,956.6 L1253.0,956.4 L1252.0,956.3 L1251.0,956.2 L1250.0,956.0 L1249.0,955.9 L1248.0,955.8 L1247.0,955.6 L1246.0,955.5 L1245.0,955.4 L1244.0,955.2 L1243.0,955.1 L1242.0,954.9 L1241.0,954.8 L1240.0,954.7 L1239.0,954.5 L1238.0,954.4 L1237.0,954.2 L1236.0,954.1 L1235.0,954.0 L1234.0,953.8 L1233.0,953.7 L1232.0,953.5 L1231.0,953.4 L1230.0,953.2 L1229.0,953.1 L1228.0,953.0 L1227.0,952.8 L1226.0,952.7 L1225.0,952.5 L1224.0,952.4 L1223.0,952.2 L1222.0,952.1 L1221.0,951.9 L1220.0,951.8 L1219.0,951.7 L1218.0,951.5 L1217.0,951.4 L1216.0,951.2 L1215.0,951.1 L1214.0,950.9 L1213.0,950.8 L1212.0,950.6 L1211.0,950.5 L1210.0,950.3 L1209.0,950.2 L1208.0,950.0 L1207.0,949.9 L1206.0,949.7 L1205.0,949.6 L1204.0,949.4 L1203.0,949.2 L1202.0,949.1 L1201.0,948.9 L1200.0,948.8 L1199.0,948.6 L1198.0,948.5 L1197.0,948.3 L1196.0,948.2 L1195.0,948.0 L1194.0,947.9 L1193.0,947.7 L1192.0,947.6 L1191.0,947.4 L1190.0,947.2 L1189.0,947.1 L1188.0,946.9 L1187.0,946.8 L1186.0,946.6 L1185.0,946.5 L1184.0,946.3 L1183.0,946.1 L1182.0,946.0 L1181.0,945.8 L1180.0,945.7 L1179.0,945.5 L1178.0,945.3 L1177.0,945.2 L1176.0,945.0 L1175.0,944.9 L1174.0,944.7 L1173.0,944.5 L1172.0,944.4 L1171.0,944.2 L1170.0,944.1 L1169.0,943.9 L1168.0,943.7 L1167.0,943.6 L1166.0,943.4 L1165.0,943.2 L1164.0,943.1 L1163.0,942.9 L1162.0,942.8 L1161.0,942.6 L1160.0,942.4 L1159.0,942.3 L1158.0,942.1 L1157.0,941.9 L1156.0,941.8 L1155.0,941.6 L1154.0,941.5 L1153.0,941.3 L1152.0,941.1 L1151.0,941.0 L1150.0,940.8 L1149.0,940.6 L1148.0,940.5 L1147.0,940.3 L1146.0,940.1 L1145.0,940.0 L1144.0,939.8 L1143.0,939.6 L1142.0,939.5 L1141.0,939.3 L1140.0,939.1 L1139.0,939.0 L1138.0,938.8 L1137.0,938.7 L1136.0,938.5 L1135.0,938.3 L1134.0,938.2 L1133.0,938.0 L1132.0,937.8 L1131.0,937.7 L1130.0,937.5 L1129.0,937.3 L1128.0,937.2 L1127.0,937.0 L1126.0,936.8 L1125.0,936.7 L1124.0,936.5 L1123.0,936.3 L1122.0,936.2 L1121.0,936.0 L1120.0,935.8 L1119.0,935.7 L1118.0,935.5 L1117.0,935.3 L1116.0,935.2 L1115.0,935.0 L1114.0,934.8 L1113.0,934.7 L1112.0,934.5 L1111.0,934.3 L1110.0,934.2 L1109.0,934.0 L1108.0,933.8 L1107.0,933.7 L1106.0,933.5 L1105.0,933.3 L1104.0,933.2 L1103.0,933.0 L1102.0,932.8 L1101.0,932.7 L1100.0,932.5 L1099.0,932.3 L1098.0,932.2 L1097.0,932.0 L1096.0,931.9 L1095.0,931.7 L1094.0,931.5 L1093.0,931.4 L1092.0,931.2 L1091.0,931.0 L1090.0,930.9 L1089.0,930.7 L1088.0,930.5 L1087.0,930.4 L1086.0,930.2 L1085.0,930.0 L1084.0,929.9 L1083.0,929.7 L1082.0,929.6 L1081.0,929.4 L1080.0,929.2 L1079.0,929.1 L1078.0,928.9 L1077.0,928.7 L1076.0,928.6 L1075.0,928.4 L1074.0,928.3 L1073.0,928.1 L1072.0,927.9 L1071.0,927.8 L1070.0,927.6 L1069.0,927.5 L1068.0,927.3 L1067.0,927.1 L1066.0,927.0 L1065.0,926.8 L1064.0,926.7 L1063.0,926.5 L1062.0,926.3 L1061.0,926.2 L1060.0,926.0 L1059.0,925.9 L1058.0,925.7 L1057.0,925.5 L1056.0,925.4 L1055.0,925.2 L1054.0,925.1 L1053.0,924.9 L1052.0,924.8 L1051.0,924.6 L1050.0,924.4 L1049.0,924.3 L1048.0,924.1 L1047.0,924.0 L1046.0,923.8 L1045.0,923.7 L1044.0,923.5 L1043.0,923.4 L1042.0,923.2 L1041.0,923.1 L1040.0,922.9 L1039.0,922.7 L1038.0,922.6 L1037.0,922.4 L1036.0,922.3 L1035.0,922.1 L1034.0,922.0 L1033.0,921.8 L1032.0,921.7 L1031.0,921.5 L1030.0,921.4 L1029.0,921.2 L1028.0,921.1 L1027.0,920.9 L1026.0,920.8 L1025.0,920.6 L1024.0,920.5 L1023.0,920.3 L1022.0,920.2 L1021.0,920.1 L1020.0,919.9 L1019.0,919.8 L1018.0,919.6 L1017.0,919.5 L1016.0,919.3 L1015.0,919.2 L1014.0,919.0 L1013.0,918.9 L1012.0,918.7 L1011.0,918.6 L1010.0,918.5 L1009.0,918.3 L1008.0,918.2 L1007.0,918.0 L1006.0,917.9 L1005.0,917.8 L1004.0,917.6 L1003.0,917.5 L1002.0,917.3 L1001.0,917.2 L1000.0,917.1 L999.0,916.9 L998.0,916.8 L997.0,916.6 L996.0,916.5 L995.0,916.4 L994.0,916.2 L993.0,916.1 L992.0,916.0 L991.0,915.8 L990.0,915.7 L989.0,915.6 L988.0,915.4 L987.0,915.3 L986.0,915.2 L985.0,915.0 L984.0,914.9 L983.0,914.8 L982.0,914.6 L981.0,914.5 L980.0,914.4 L979.0,914.3 L978.0,914.1 L977.0,914.0 L976.0,913.9 L975.0,913.7 L974.0,913.6 L973.0,913.5 L972.0,913.4 L971.0,913.2 L970.0,913.1 L969.0,913.0 L968.0,912.9 L967.0,912.7 L966.0,912.6 L965.0,912.5 L964.0,912.4 L963.0,912.2 L962.0,912.1 L961.0,912.0 L960.0,911.9 L959.0,911.8 L958.0,911.6 L957.0,911.5 L956.0,911.4 L955.0,911.3 L954.0,911.2 L953.0,911.1 L952.0,910.9 L951.0,910.8 L950.0,910.7 L949.0,910.6 L948.0,910.5 L947.0,910.4 L946.0,910.3 L945.0,910.1 L944.0,910.0 L943.0,909.9 L942.0,909.8 L941.0,909.7 L940.0,909.6 L939.0,909.5 L938.0,909.4 L937.0,909.3 L936.0,909.1 L935.0,909.0 L934.0,908.9 L933.0,908.8 L932.0,908.7 L931.0,908.6 L930.0,908.5 L929.0,908.4 L928.0,908.3 L927.0,908.2 L926.0,908.1 L925.0,908.0 L924.0,907.9 L923.0,907.8 L922.0,907.7 L921.0,907.6 L920.0,907.5 L919.0,907.4 L918.0,907.3 L917.0,907.2 L916.0,907.1 L915.0,907.0 L914.0,906.9 L913.0,906.8 L912.0,906.7 L911.0,906.6 L910.0,906.5 L909.0,906.4 L908.0,906.3 L907.0,906.2 L906.0,906.1 L905.0,906.0 L904.0,905.9 L903.0,905.8 L902.0,905.8 L901.0,905.7 L900.0,905.6 L899.0,905.5 L898.0,905.4 L897.0,905.3 L896.0,905.2 L895.0,905.1 L894.0,905.0 L893.0,905.0 L892.0,904.9 L891.0,904.8 L890.0,904.7 L889.0,904.6 L888.0,904.5 L887.0,904.4 L886.0,904.4 L885.0,904.3 L884.0,904.2 L883.0,904.1 L882.0,904.0 L881.0,904.0 L880.0,903.9 L879.0,903.8 L878.0,903.7 L877.0,903.6 L876.0,903.6 L875.0,903.5 L874.0,903.4 L873.0,903.3 L872.0,903.2 L871.0,903.2 L870.0,903.1 L869.0,903.0 L868.0,902.9 L867.0,902.9 L866.0,902.8 L865.0,902.7 L864.0,902.7 L863.0,902.6 L862.0,902.5 L861.0,902.4 L860.0,902.4 L859.0,902.3 L858.0,902.2 L857.0,902.2 L856.0,902.1 L855.0,902.0 L854.0,901.9 L853.0,901.9 L852.0,901.8 L851.0,901.7 L850.0,901.7 L849.0,901.6 L848.0,901.6 L847.0,901.5 L846.0,901.4 L845.0,901.4 L844.0,901.3 L843.0,901.2 L842.0,901.2 L841.0,901.1 L840.0,901.0 L839.0,901.0 L838.0,900.9 L837.0,900.9 L836.0,900.8 L835.0,900.7 L834.0,900.7 L833.0,900.6 L832.0,900.6 L831.0,900.5 L830.0,900.4 L829.0,900.4 L828.0,900.3 L827.0,900.3 L826.0,900.2 L825.0,900.2 L824.0,900.1 L823.0,900.1 L822.0,900.0 L821.0,899.9 L820.0,899.9 L819.0,899.8 L818.0,899.8 L817.0,899.7 L816.0,899.7 L815.0,899.6 L814.0,899.6 L813.0,899.5 L812.0,899.5 L811.0,899.4 L810.0,899.4 L809.0,899.3 L808.0,899.3 L807.0,899.2 L806.0,899.2 L805.0,899.1 L804.0,899.1 L803.0,899.0 L802.0,899.0 L801.0,898.9 L800.0,898.9 L799.0,898.9 L798.0,898.8 L797.0,898.8 L796.0,898.7 L795.0,898.7 L794.0,898.6 L793.0,898.6 L792.0,898.6 L791.0,898.5 L790.0,898.5 L789.0,898.4 L788.0,898.4 L787.0,898.3 L786.0,898.3 L785.0,898.3 L784.0,898.2 L783.0,898.2 L782.0,898.1 L781.0,898.1 L780.0,898.1 L779.0,898.0 L778.0,898.0 L777.0,897.9 L776.0,897.9 L775.0,897.9 L774.0,897.8 L773.0,897.8 L772.0,897.8 L771.0,897.7 L770.0,897.7 L769.0,897.7 L768.0,897.6 L767.0,897.6 L766.0,897.6 L765.0,897.5 L764.0,897.5 L763.0,897.5 L762.0,897.4 L761.0,897.4 L760.0,897.4 L759.0,897.3 L758.0,897.3 L757.0,897.3 L756.0,897.2 L755.0,897.2 L754.0,897.2 L753.0,897.1 L752.0,897.1 L751.0,897.1 L750.0,897.0 L749.0,897.0 L748.0,897.0 L747.0,897.0 L746.0,896.9 L745.0,896.9 L744.0,896.9 L743.0,896.8 L742.0,896.8 L741.0,896.8 L740.0,896.8 L739.0,896.7 L738.0,896.7 L737.0,896.7 L736.0,896.7 L735.0,896.6 L734.0,896.6 L733.0,896.6 L732.0,896.6 L731.0,896.5 L730.0,896.5 L729.0,896.5 L728.0,896.5 L727.0,896.4 L726.0,896.4 L725.0,896.4 L724.0,896.4 L723.0,896.3 L722.0,896.3 L721.0,896.3 L720.0,896.3 L719.0,896.2 L718.0,896.2 L717.0,896.2 L716.0,896.2 L715.0,896.2 L714.0,896.1 L713.0,896.1 L712.0,896.1 L711.0,896.1 L710.0,896.1 L709.0,896.0 L708.0,896.0 L707.0,896.0 L706.0,896.0 L705.0,896.0 L704.0,895.9 L703.0,895.9 L702.0,895.9 L701.0,895.9 L700.0,895.9 L699.0,895.9 L698.0,895.8 L697.0,895.8 L696.0,895.8 L695.0,895.8 L694.0,895.8 L693.0,895.7 L692.0,895.7 L691.0,895.7 L690.0,895.7 L689.0,895.7 L688.0,895.7 L687.0,895.7 L686.0,895.6 L685.0,895.6 L684.0,895.6 L683.0,895.6 L682.0,895.6 L681.0,895.6 L680.0,895.5 L679.0,895.5 L678.0,895.5 L677.0,895.5 L676.0,895.5 L675.0,895.5 L674.0,895.5 L673.0,895.4 L672.0,895.4 L671.0,895.4 L670.0,895.4 L669.0,895.4 L668.0,895.4 L667.0,895.4 L666.0,895.4 L665.0,895.3 L664.0,895.3 L663.0,895.3 L662.0,895.3 L661.0,895.3 L660.0,895.3 L659.0,895.3 L658.0,895.3 L657.0,895.3 L656.0,895.2 L655.0,895.2 L654.0,895.2 L653.0,895.2 L652.0,895.2 L651.0,895.2 L650.0,895.2 L649.0,895.2 L648.0,895.2 L647.0,895.1 L646.0,895.1 L645.0,895.1 L644.0,895.1 L643.0,895.1 L642.0,895.1 L641.0,895.1 L640.0,895.1 L639.0,895.1 L638.0,895.1 L637.0,895.1 L636.0,895.0 L635.0,895.0 L634.0,895.0 L633.0,895.0 L632.0,895.0 L631.0,895.0 L630.0,895.0 L629.0,895.0 L628.0,895.0 L627.0,895.0 L626.0,895.0 L625.0,895.0 L624.0,894.9 L623.0,894.9 L622.0,894.9 L621.0,894.9 L620.0,894.9 L619.0,894.9 L618.0,894.9 L617.0,894.9 L616.0,894.9 L615.0,894.9 L614.0,894.9 L613.0,894.9 L612.0,894.9 L611.0,894.9 L610.0,894.9 L609.0,894.8 L608.0,894.8 L607.0,894.8 L606.0,894.8 L605.0,894.8 L604.0,894.8 L603.0,894.8 L602.0,894.8 L601.0,894.8 L600.0,894.8 L599.0,894.8 L598.0,894.8 L597.0,894.8 L596.0,894.8 L595.0,894.8 L594.0,894.8 L593.0,894.8 L592.0,894.8 L591.0,894.7 L590.0,894.7 L589.0,894.7 L588.0,894.7 L587.0,894.7 L586.0,894.7 L585.0,894.7 L584.0,894.7 L583.0,894.7 L582.0,894.7 L581.0,894.7 L580.0,894.7 L579.0,894.7 L578.0,894.7 L577.0,894.7 L576.0,894.7 L575.0,894.7 L574.0,894.7 L573.0,894.7 L572.0,894.7 L571.0,894.7 L570.0,894.7 L569.0,894.7 L568.0,894.6 L567.0,894.6 L566.0,894.6 L565.0,894.6 L564.0,894.6 L563.0,894.6 L562.0,894.6 L561.0,894.6 L560.0,894.6 Z" fill="#00a2e8"/>
<path d="M566.0,868.3 L567.0,868.0 L568.0,867.7 L569.0,867.5 L570.0,867.2 L571.0,866.9 L572.0,866.6 L573.0,866.3 L574.0,866.0 L575.0,865.7 L576.0,865.4 L577.0,865.1 L578.0,864.7 L579.0,864.4 L580.0,864.1 L581.0,863.8 L582.0,863.5 L583.0,863.1 L584.0,862.8 L585.0,862.5 L586.0,862.2 L587.0,861.8 L588.0,861.5 L589.0,861.1 L590.0,860.8 L591.0,860.4 L592.0,860.1 L593.0,859.7 L594.0,859.4 L595.0,859.0 L596.0,858.6 L597.0,858.3 L598.0,857.9 L599.0,857.5 L600.0,857.2 L601.0,856.8 L602.0,856.4 L603.0,856.0 L604.0,855.6 L605.0,855.2 L606.0,854.8 L607.0,854.4 L608.0,854.0 L609.0,853.6 L610.0,853.2 L611.0,852.8 L612.0,852.4 L613.0,852.0 L614.0,851.6 L615.0,851.2 L616.0,850.7 L617.0,850.3 L618.0,849.9 L619.0,849.5 L620.0,849.0 L621.0,848.6 L622.0,848.2 L623.0,847.7 L624.0,847.3 L625.0,846.8 L626.0,846.4 L627.0,845.9 L628.0,845.5 L629.0,845.0 L630.0,844.5 L631.0,844.1 L632.0,843.6 L633.0,843.1 L634.0,842.6 L635.0,842.2 L636.0,841.7 L637.0,841.2 L638.0,840.7 L639.0,840.2 L640.0,839.7 L641.0,839.3 L642.0,838.8 L643.0,838.3 L644.0,837.8 L645.0,837.3 L646.0,836.7 L647.0,836.2 L648.0,835.7 L649.0,835.2 L650.0,834.7 L651.0,834.2 L652.0,833.7 L653.0,833.1 L654.0,832.6 L655.0,832.1 L656.0,831.5 L657.0,831.0 L658.0,830.5 L659.0,829.9 L660.0,829.4 L661.0,828.9 L662.0,828.3 L663.0,827.8 L664.0,827.2 L665.0,826.7 L666.0,826.1 L667.0,825.6 L668.0,825.0 L669.0,824.4 L670.0,823.9 L671.0,823.3 L672.0,822.8 L673.0,822.2 L674.0,821.6 L675.0,821.0 L676.0,820.5 L677.0,819.9 L678.0,819.3 L679.0,818.7 L680.0,818.2 L681.0,817.6 L682.0,817.0 L683.0,816.4 L684.0,815.8 L685.0,815.3 L686.0,814.7 L687.0,814.1 L688.0,813.5 L689.0,812.9 L690.0,812.3 L691.0,811.7 L692.0,811.1 L693.0,810.5 L694.0,809.9 L695.0,809.3 L696.0,808.7 L697.0,808.1 L698.0,807.5 L699.0,806.9 L700.0,806.3 L701.0,805.7 L702.0,805.1 L703.0,804.5 L704.0,803.9 L705.0,803.3 L706.0,802.7 L707.0,802.1 L708.0,801.5 L709.0,800.9 L710.0,800.3 L711.0,799.7 L712.0,799.1 L713.0,798.5 L714.0,797.9 L715.0,797.3 L716.0,796.7 L717.0,796.1 L718.0,795.5 L719.0,794.9 L720.0,794.3 L721.0,793.7 L722.0,793.1 L723.0,792.5 L724.0,791.9 L725.0,791.3 L726.0,790.7 L727.0,790.1 L728.0,789.5 L729.0,788.9 L730.0,788.3 L731.0,787.7 L732.0,787.1 L733.0,786.5 L734.0,785.9 L735.0,785.3 L736.0,784.7 L737.0,784.2 L738.0,783.6 L739.0,783.0 L740.0,782.4 L741.0,781.8 L742.0,781.3 L743.0,780.7 L744.0,780.1 L745.0,779.6 L746.0,779.0 L747.0,778.4 L748.0,777.9 L749.0,777.3 L750.0,776.8 L751.0,776.2 L752.0,775.6 L753.0,775.1 L754.0,774.6 L755.0,774.0 L756.0,773.5 L757.0,772.9 L758.0,772.4 L759.0,771.9 L760.0,771.4 L761.0,770.8 L762.0,770.3 L763.0,769.8 L764.0,769.3 L765.0,768.8 L766.0,768.3 L767.0,767.8 L768.0,767.3 L769.0,766.8 L770.0,766.3 L771.0,765.8 L772.0,765.4 L773.0,764.9 L774.0,764.4 L775.0,764.0 L776.0,763.5 L777.0,763.0 L778.0,762.6 L779.0,762.1 L780.0,761.7 L781.0,761.3 L782.0,760.8 L783.0,760.4 L784.0,760.0 L785.0,759.6 L786.0,759.2 L787.0,758.8 L788.0,758.4 L789.0,758.0 L790.0,757.6 L791.0,757.2 L792.0,756.9 L793.0,756.5 L794.0,756.1 L795.0,755.8 L796.0,755.4 L797.0,755.1 L798.0,754.8 L799.0,754.4 L800.0,754.1 L801.0,753.8 L802.0,753.5 L803.0,753.2 L804.0,752.9 L805.0,752.6 L806.0,752.3 L807.0,752.1 L808.0,751.8 L809.0,751.5 L810.0,751.3 L811.0,751.0 L812.0,750.8 L813.0,750.6 L814.0,750.4 L815.0,750.1 L816.0,749.9 L817.0,749.7 L818.0,749.5 L819.0,749.4 L820.0,749.2 L821.0,749.0 L822.0,748.9 L823.0,748.7 L824.0,748.6 L825.0,748.4 L826.0,748.3 L827.0,748.2 L828.0,748.1 L829.0,748.0 L830.0,747.9 L831.0,747.8 L832.0,747.7 L833.0,747.7 L834.0,747.6 L835.0,747.6 L836.0,747.5 L837.0,747.5 L838.0,747.4 L839.0,747.4 L840.0,747.4 L841.0,747.4 L842.0,747.4 L843.0,747.5 L844.0,747.5 L845.0,747.5 L846.0,747.6 L847.0,747.6 L848.0,747.7 L849.0,747.7 L850.0,747.8 L851.0,747.9 L852.0,748.0 L853.0,748.1 L854.0,748.3 L855.0,748.4 L856.0,748.5 L857.0,748.7 L858.0,748.8 L859.0,749.0 L860.0,749.2 L861.0,749.4 L862.0,749.6 L863.0,749.8 L864.0,750.0 L865.0,750.3 L866.0,750.5 L867.0,750.8 L868.0,751.0 L869.0,751.3 L870.0,751.6 L871.0,751.9 L872.0,752.2 L873.0,752.5 L874.0,752.8 L875.0,753.2 L876.0,753.5 L877.0,753.9 L878.0,754.2 L879.0,754.6 L880.0,755.0 L881.0,755.4 L882.0,755.8 L883.0,756.2 L884.0,756.6 L885.0,757.0 L886.0,757.5 L887.0,757.9 L888.0,758.3 L889.0,758.8 L890.0,759.3 L891.0,759.7 L892.0,760.2 L893.0,760.7 L894.0,761.2 L895.0,761.7 L896.0,762.3 L897.0,762.8 L898.0,763.3 L899.0,763.8 L900.0,764.4 L901.0,764.9 L902.0,765.5 L903.0,766.1 L904.0,766.6 L905.0,767.2 L906.0,767.8 L907.0,768.4 L908.0,769.0 L909.0,769.6 L910.0,770.2 L911.0,770.9 L912.0,771.5 L913.0,772.1 L914.0,772.8 L915.0,773.4 L916.0,774.1 L917.0,774.7 L918.0,775.4 L919.0,776.0 L920.0,776.7 L921.0,777.4 L922.0,778.1 L923.0,778.8 L924.0,779.5 L925.0,780.2 L926.0,780.9 L927.0,781.6 L928.0,782.3 L929.0,783.0 L930.0,783.7 L931.0,784.5 L932.0,785.2 L933.0,785.9 L934.0,786.7 L935.0,787.4 L936.0,788.1 L937.0,788.9 L938.0,789.6 L939.0,790.4 L940.0,791.2 L941.0,791.9 L942.0,792.7 L943.0,793.4 L944.0,794.2 L945.0,795.0 L946.0,795.8 L947.0,796.5 L948.0,797.3 L949.0,798.1 L950.0,798.9 L951.0,799.7 L952.0,800.5 L953.0,801.3 L954.0,802.1 L955.0,802.8 L956.0,803.6 L957.0,804.4 L958.0,805.2 L959.0,806.0 L960.0,806.8 L961.0,807.7 L962.0,808.5 L963.0,809.3 L964.0,810.1 L965.0,810.9 L966.0,811.7 L967.0,812.5 L968.0,813.3 L969.0,814.1 L970.0,814.9 L971.0,815.7 L972.0,816.6 L973.0,817.4 L974.0,818.2 L975.0,819.0 L976.0,819.8 L977.0,820.6 L978.0,821.4 L979.0,822.2 L980.0,823.1 L981.0,823.9 L982.0,824.7 L983.0,825.5 L984.0,826.3 L985.0,827.1 L986.0,827.9 L987.0,828.7 L988.0,829.5 L989.0,830.3 L990.0,831.2 L991.0,832.0 L992.0,832.8 L993.0,833.6 L994.0,834.4 L995.0,835.2 L996.0,836.0 L997.0,836.8 L998.0,837.6 L999.0,838.4 L1000.0,839.1 L1001.0,839.9 L1002.0,840.7 L1003.0,841.5 L1004.0,842.3 L1005.0,843.1 L1006.0,843.9 L1007.0,844.7 L1008.0,845.4 L1009.0,846.2 L1010.0,847.0 L1011.0,847.8 L1012.0,848.5 L1013.0,849.3 L1014.0,850.1 L1015.0,850.8 L1016.0,851.6 L1017.0,852.4 L1018.0,853.1 L1019.0,853.9 L1020.0,854.6 L1021.0,855.4 L1022.0,856.1 L1023.0,856.9 L1024.0,857.6 L1025.0,858.3 L1026.0,859.1 L1027.0,859.8 L1028.0,860.5 L1029.0,861.3 L1030.0,862.0 L1031.0,862.7 L1032.0,863.4 L1033.0,864.2 L1034.0,864.9 L1035.0,865.6 L1036.0,866.3 L1037.0,867.0 L1038.0,867.7 L1039.0,868.4 L1040.0,869.1 L1041.0,869.8 L1042.0,870.5 L1043.0,871.2 L1044.0,871.8 L1045.0,872.5 L1046.0,873.2 L1047.0,873.9 L1048.0,874.5 L1049.0,875.2 L1050.0,875.9 L1051.0,876.5 L1052.0,877.2 L1053.0,877.8 L1054.0,878.5 L1055.0,879.1 L1056.0,879.8 L1057.0,880.4 L1058.0,881.1 L1059.0,881.7 L1060.0,882.3 L1061.0,883.0 L1062.0,883.6 L1063.0,884.2 L1064.0,884.8 L1065.0,885.4 L1066.0,886.0 L1067.0,886.6 L1068.0,887.2 L1069.0,887.8 L1070.0,888.4 L1071.0,889.0 L1072.0,889.6 L1073.0,890.2 L1074.0,890.8 L1075.0,891.4 L1076.0,891.9 L1077.0,892.5 L1078.0,893.1 L1079.0,893.7 L1080.0,894.2 L1081.0,894.8 L1082.0,895.3 L1083.0,895.9 L1084.0,896.4 L1085.0,897.0 L1086.0,897.5 L1087.0,898.0 L1088.0,898.6 L1089.0,899.1 L1090.0,899.6 L1091.0,900.2 L1092.0,900.7 L1093.0,901.2 L1094.0,901.7 L1095.0,902.2 L1096.0,902.7 L1097.0,903.2 L1098.0,903.7 L1099.0,904.2 L1100.0,904.7 L1101.0,905.2 L1102.0,905.7 L1103.0,906.2 L1104.0,906.7 L1105.0,907.2 L1106.0,907.6 L1107.0,908.1 L1108.0,908.6 L1109.0,909.0 L1110.0,909.5 L1111.0,910.0 L1112.0,910.4 L1113.0,910.9 L1114.0,911.3 L1115.0,911.8 L1116.0,912.2 L1117.0,912.6 L1118.0,913.1 L1119.0,913.5 L1120.0,913.9 L1121.0,914.4 L1122.0,914.8 L1123.0,915.2 L1124.0,915.6 L1125.0,916.0 L1126.0,916.5 L1127.0,916.9 L1128.0,917.3 L1129.0,917.7 L1130.0,918.1 L1131.0,918.5 L1132.0,918.9 L1133.0,919.3 L1134.0,919.7 L1135.0,920.0 L1136.0,920.4 L1137.0,920.8 L1138.0,921.2 L1139.0,921.6 L1140.0,921.9 L1141.0,922.4 L1142.0,923.0 L1143.0,923.6 L1144.0,924.2 L1145.0,924.8 L1146.0,925.4 L1147.0,926.0 L1148.0,926.6 L1149.0,927.3 L1150.0,927.9 L1151.0,928.5 L1152.0,929.1 L1153.0,929.8 L1154.0,930.4 L1155.0,931.0 L1156.0,931.6 L1157.0,932.2 L1158.0,932.8 L1159.0,933.4 L1160.0,934.0 L1161.0,934.6 L1162.0,935.2 L1163.0,935.8 L1164.0,936.4 L1165.0,937.0 L1166.0,937.6 L1167.0,938.1 L1168.0,938.7 L1169.0,939.2 L1170.0,939.8 L1171.0,940.3 L1172.0,940.9 L1173.0,941.4 L1174.0,941.9 L1175.0,942.5 L1176.0,943.0 L1177.0,943.5 L1178.0,944.0 L1179.0,944.5 L1180.0,945.0 L1181.0,945.5 L1182.0,946.0 L1182.0,946.0 L1181.0,945.8 L1180.0,945.7 L1179.0,945.5 L1178.0,945.3 L1177.0,945.2 L1176.0,945.0 L1175.0,944.9 L1174.0,944.7 L1173.0,944.5 L1172.0,944.4 L1171.0,944.2 L1170.0,944.1 L1169.0,943.9 L1168.0,943.7 L1167.0,943.6 L1166.0,943.4 L1165.0,943.2 L1164.0,943.1 L1163.0,942.9 L1162.0,942.8 L1161.0,942.6 L1160.0,942.4 L1159.0,942.3 L1158.0,942.1 L1157.0,941.9 L1156.0,941.8 L1155.0,941.6 L1154.0,941.5 L1153.0,941.3 L1152.0,941.1 L1151.0,941.0 L1150.0,940.8 L1149.0,940.6 L1148.0,940.5 L1147.0,940.3 L1146.0,940.1 L1145.0,940.0 L1144.0,939.8 L1143.0,939.6 L1142.0,939.5 L1141.0,939.3 L1140.0,939.1 L1139.0,939.0 L1138.0,938.8 L1137.0,938.7 L1136.0,938.5 L1135.0,938.3 L1134.0,938.2 L1133.0,938.0 L1132.0,937.8 L1131.0,937.7 L1130.0,937.5 L1129.0,937.3 L1128.0,937.2 L1127.0,937.0 L1126.0,936.8 L1125.0,936.7 L1124.0,936.5 L1123.0,936.3 L1122.0,936.2 L1121.0,936.0 L1120.0,935.8 L1119.0,935.7 L1118.0,935.5 L1117.0,935.3 L1116.0,935.2 L1115.0,935.0 L1114.0,934.8 L1113.0,934.7 L1112.0,934.5 L1111.0,934.3 L1110.0,934.2 L1109.0,934.0 L1108.0,933.8 L1107.0,933.7 L1106.0,933.5 L1105.0,933.3 L1104.0,933.2 L1103.0,933.0 L1102.0,932.8 L1101.0,932.7 L1100.0,932.5 L1099.0,932.3 L1098.0,932.2 L1097.0,932.0 L1096.0,931.9 L1095.0,931.7 L1094.0,931.5 L1093.0,931.4 L1092.0,931.2 L1091.0,931.0 L1090.0,930.9 L1089.0,930.7 L1088.0,930.5 L1087.0,930.4 L1086.0,930.2 L1085.0,930.0 L1084.0,929.9 L1083.0,929.7 L1082.0,929.6 L1081.0,929.4 L1080.0,929.2 L1079.0,929.1 L1078.0,928.9 L1077.0,928.7 L1076.0,928.6 L1075.0,928.4 L1074.0,928.3 L1073.0,928.1 L1072.0,927.9 L1071.0,927.8 L1070.0,927.6 L1069.0,927.5 L1068.0,927.3 L1067.0,927.1 L1066.0,927.0 L1065.0,926.8 L1064.0,926.7 L1063.0,926.5 L1062.0,926.3 L1061.0,926.2 L1060.0,926.0 L1059.0,925.9 L1058.0,925.7 L1057.0,925.5 L1056.0,925.4 L1055.0,925.2 L1054.0,925.1 L1053.0,924.9 L1052.0,924.8 L1051.0,924.6 L1050.0,924.4 L1049.0,924.3 L1048.0,924.1 L1047.0,924.0 L1046.0,923.8 L1045.0,923.7 L1044.0,923.5 L1043.0,923.4 L1042.0,923.2 L1041.0,923.1 L1040.0,922.9 L1039.0,922.7 L1038.0,922.6 L1037.0,922.4 L1036.0,922.3 L1035.0,922.1 L1034.0,922.0 L1033.0,921.8 L1032.0,921.7 L1031.0,921.5 L1030.0,921.4 L1029.0,921.2 L1028.0,921.1 L1027.0,920.9 L1026.0,920.8 L1025.0,920.6 L1024.0,920.5 L1023.0,920.3 L1022.0,920.2 L1021.0,920.1 L1020.0,919.9 L1019.0,919.8 L1018.0,919.6 L1017.0,919.5 L1016.0,919.3 L1015.0,919.2 L1014.0,919.0 L1013.0,918.9 L1012.0,918.7 L1011.0,918.6 L1010.0,918.5 L1009.0,918.3 L1008.0,918.2 L1007.0,918.0 L1006.0,917.9 L1005.0,917.8 L1004.0,917.6 L1003.0,917.5 L1002.0,917.3 L1001.0,917.2 L1000.0,917.1 L999.0,916.9 L998.0,916.8 L997.0,916.6 L996.0,916.5 L995.0,916.4 L994.0,916.2 L993.0,916.1 L992.0,916.0 L991.0,915.8 L990.0,915.7 L989.0,915.6 L988.0,915.4 L987.0,915.3 L986.0,915.2 L985.0,915.0 L984.0,914.9 L983.0,914.8 L982.0,914.6 L981.0,914.5 L980.0,914.4 L979.0,914.3 L978.0,914.1 L977.0,914.0 L976.0,913.9 L975.0,913.7 L974.0,913.6 L973.0,913.5 L972.0,913.4 L971.0,913.2 L970.0,913.1 L969.0,913.0 L968.0,912.9 L967.0,912.7 L966.0,912.6 L965.0,912.5 L964.0,912.4 L963.0,912.2 L962.0,912.1 L961.0,912.0 L960.0,911.9 L959.0,911.8 L958.0,911.6 L957.0,911.5 L956.0,911.4 L955.0,911.3 L954.0,911.2 L953.0,911.1 L952.0,910.9 L951.0,910.8 L950.0,910.7 L949.0,910.6 L948.0,910.5 L947.0,910.4 L946.0,910.3 L945.0,910.1 L944.0,910.0 L943.0,909.9 L942.0,909.8 L941.0,909.7 L940.0,909.6 L939.0,909.5 L938.0,909.4 L937.0,909.3 L936.0,909.1 L935.0,909.0 L934.0,908.9 L933.0,908.8 L932.0,908.7 L931.0,908.6 L930.0,908.5 L929.0,908.4 L928.0,908.3 L927.0,908.2 L926.0,908.1 L925.0,908.0 L924.0,907.9 L923.0,907.8 L922.0,907.7 L921.0,907.6 L920.0,907.5 L919.0,907.4 L918.0,907.3 L917.0,907.2 L916.0,907.1 L915.0,907.0 L914.0,906.9 L913.0,906.8 L912.0,906.7 L911.0,906.6 L910.0,906.5 L909.0,906.4 L908.0,906.3 L907.0,906.2 L906.0,906.1 L905.0,906.0 L904.0,905.9 L903.0,905.8 L902.0,905.8 L901.0,905.7 L900.0,905.6 L899.0,905.5 L898.0,905.4 L897.0,905.3 L896.0,905.2 L895.0,905.1 L894.0,905.0 L893.0,905.0 L892.0,904.9 L891.0,904.8 L890.0,904.7 L889.0,904.6 L888.0,904.5 L887.0,904.4 L886.0,904.4 L885.0,904.3 L884.0,904.2 L883.0,904.1 L882.0,904.0 L881.0,904.0 L880.0,903.9 L879.0,903.8 L878.0,903.7 L877.0,903.6 L876.0,903.6 L875.0,903.5 L874.0,903.4 L873.0,903.3 L872.0,903.2 L871.0,903.2 L870.0,903.1 L869.0,903.0 L868.0,902.9 L867.0,902.9 L866.0,902.8 L865.0,902.7 L864.0,902.7 L863.0,902.6 L862.0,902.5 L861.0,902.4 L860.0,902.4 L859.0,902.3 L858.0,902.2 L857.0,902.2 L856.0,902.1 L855.0,902.0 L854.0,901.9 L853.0,901.9 L852.0,901.8 L851.0,901.7 L850.0,901.7 L849.0,901.6 L848.0,901.6 L847.0,901.5 L846.0,901.4 L845.0,901.4 L844.0,901.3 L843.0,901.2 L842.0,901.2 L841.0,901.1 L840.0,901.0 L839.0,901.0 L838.0,900.9 L837.0,900.9 L836.0,900.8 L835.0,900.7 L834.0,900.7 L833.0,900.6 L832.0,900.6 L831.0,900.5 L830.0,900.4 L829.0,900.4 L828.0,900.3 L827.0,900.3 L826.0,900.2 L825.0,900.2 L824.0,900.1 L823.0,900.1 L822.0,900.0 L821.0,899.9 L820.0,899.9 L819.0,899.8 L818.0,899.8 L817.0,899.7 L816.0,899.7 L815.0,899.6 L814.0,899.6 L813.0,899.5 L812.0,899.5 L811.0,899.4 L810.0,899.4 L809.0,899.3 L808.0,899.3 L807.0,899.2 L806.0,899.2 L805.0,899.1 L804.0,899.1 L803.0,899.0 L802.0,899.0 L801.0,898.9 L800.0,898.9 L799.0,898.9 L798.0,898.8 L797.0,898.8 L796.0,898.7 L795.0,898.7 L794.0,898.6 L793.0,898.6 L792.0,898.6 L791.0,898.5 L790.0,898.5 L789.0,898.4 L788.0,898.4 L787.0,898.3 L786.0,898.3 L785.0,898.3 L784.0,898.2 L783.0,898.2 L782.0,898.1 L781.0,898.1 L780.0,898.1 L779.0,898.0 L778.0,898.0 L777.0,897.9 L776.0,897.9 L775.0,897.9 L774.0,897.8 L773.0,897.8 L772.0,897.8 L771.0,897.7 L770.0,897.7 L769.0,897.7 L768.0,897.6 L767.0,897.6 L766.0,897.6 L765.0,897.5 L764.0,897.5 L763.0,897.5 L762.0,897.4 L761.0,897.4 L760.0,897.4 L759.0,897.3 L758.0,897.3 L757.0,897.3 L756.0,897.2 L755.0,897.2 L754.0,897.2 L753.0,897.1 L752.0,897.1 L751.0,897.1 L750.0,897.0 L749.0,897.0 L748.0,897.0 L747.0,897.0 L746.0,896.9 L745.0,896.9 L744.0,896.9 L743.0,896.8 L742.0,896.8 L741.0,896.8 L740.0,896.8 L739.0,896.7 L738.0,896.7 L737.0,896.7 L736.0,896.7 L735.0,896.6 L734.0,896.6 L733.0,896.6 L732.0,896.6 L731.0,896.5 L730.0,896.5 L729.0,896.5 L728.0,896.5 L727.0,896.4 L726.0,896.4 L725.0,896.4 L724.0,896.4 L723.0,896.3 L722.0,896.3 L721.0,896.3 L720.0,896.3 L719.0,896.2 L718.0,896.2 L717.0,896.2 L716.0,896.2 L715.0,896.2 L714.0,896.1 L713.0,896.1 L712.0,896.1 L711.0,896.1 L710.0,896.1 L709.0,896.0 L708.0,896.0 L707.0,896.0 L706.0,896.0 L705.0,896.0 L704.0,895.9 L703.0,895.9 L702.0,895.9 L701.0,895.9 L700.0,895.9 L699.0,895.9 L698.0,895.8 L697.0,895.8 L696.0,895.8 L695.0,895.8 L694.0,895.8 L693.0,895.7 L692.0,895.7 L691.0,895.7 L690.0,895.7 L689.0,895.7 L688.0,895.7 L687.0,895.7 L686.0,895.6 L685.0,895.6 L684.0,895.6 L683.0,895.6 L682.0,895.6 L681.0,895.6 L680.0,895.5 L679.0,895.5 L678.0,895.5 L677.0,895.5 L676.0,895.5 L675.0,895.5 L674.0,895.5 L673.0,895.4 L672.0,895.4 L671.0,895.4 L670.0,895.4 L669.0,895.4 L668.0,895.4 L667.0,895.4 L666.0,895.4 L665.0,895.3 L664.0,895.3 L663.0,895.3 L662.0,895.3 L661.0,895.3 L660.0,895.3 L659.0,895.3 L658.0,895.3 L657.0,895.3 L656.0,895.2 L655.0,895.2 L654.0,895.2 L653.0,895.2 L652.0,895.2 L651.0,895.2 L650.0,895.2 L649.0,895.2 L648.0,895.2 L647.0,895.1 L646.0,895.1 L645.0,895.1 L644.0,895.1 L643.0,895.1 L642.0,895.1 L641.0,895.1 L640.0,895.1 L639.0,895.1 L638.0,895.1 L637.0,895.1 L636.0,895.0 L635.0,895.0 L634.0,895.0 L633.0,895.0 L632.0,895.0 L631.0,895.0 L630.0,895.0 L629.0,895.0 L628.0,895.0 L627.0,895.0 L626.0,895.0 L625.0,895.0 L624.0,894.9 L623.0,894.9 L622.0,894.9 L621.0,894.9 L620.0,894.9 L619.0,894.9 L618.0,894.9 L617.0,894.9 L616.0,894.9 L615.0,894.9 L614.0,894.9 L613.0,894.9 L612.0,894.9 L611.0,894.9 L610.0,894.9 L609.0,894.8 L608.0,894.8 L607.0,894.8 L606.0,894.8 L605.0,894.8 L604.0,894.8 L603.0,894.8 L602.0,894.8 L601.0,894.8 L600.0,894.8 L599.0,894.8 L598.0,894.8 L597.0,894.8 L596.0,894.8 L595.0,894.8 L594.0,894.8 L593.0,894.8 L592.0,894.8 L591.0,894.7 L590.0,894.7 L589.0,894.7 L588.0,894.7 L587.0,894.7 L586.0,894.7 L585.0,894.7 L584.0,894.7 L583.0,894.7 L582.0,894.7 L581.0,894.7 L580.0,894.7 L579.0,894.7 L578.0,894.7 L577.0,894.7 L576.0,894.7 L575.0,894.7 L574.0,894.7 L573.0,894.7 L572.0,894.7 L571.0,894.7 L570.0,894.7 L569.0,894.7 L568.0,894.6 L567.0,894.6 L566.0,894.6 Z" fill="#3f48cc"/>
<path d="M436.0,887.1 L438.0,887.0 L440.0,886.8 L442.0,886.6 L444.0,886.4 L446.0,886.3 L448.0,886.1 L450.0,885.9 L452.0,885.7 L454.0,885.4 L456.0,885.2 L458.0,885.0 L460.0,884.8 L462.0,884.5 L464.0,884.3 L466.0,884.0 L468.0,883.8 L470.0,883.5 L472.0,883.2 L474.0,883.0 L476.0,882.7 L478.0,882.4 L480.0,882.1 L482.0,881.8 L484.0,881.7 L486.0,881.6 L488.0,881.5 L490.0,881.4 L492.0,881.3 L494.0,881.2 L496.0,881.1 L498.0,881.0 L500.0,880.9 L502.0,880.8 L504.0,880.7 L506.0,880.6 L508.0,880.5 L510.0,880.2 L512.0,879.9 L514.0,879.6 L516.0,879.3 L518.0,878.9 L520.0,878.6 L522.0,878.2 L524.0,877.9 L526.0,877.5 L528.0,877.2 L530.0,876.8 L532.0,876.4 L534.0,876.0 L536.0,875.6 L538.0,875.2 L540.0,874.7 L542.0,874.3 L544.0,873.9 L546.0,873.4 L548.0,872.9 L550.0,872.5 L552.0,872.0 L554.0,871.5 L556.0,871.0 L558.0,870.5 L560.0,869.9 L562.0,869.4 L564.0,868.9 L566.0,868.3 L568.0,867.7 L568.0,897.6 L566.0,897.6 L564.0,897.6 L562.0,897.6 L560.0,897.6 L558.0,897.6 L556.0,897.6 L554.0,897.6 L552.0,897.6 L550.0,897.6 L548.0,897.6 L546.0,897.6 L544.0,897.6 L542.0,897.6 L540.0,897.6 L538.0,897.6 L536.0,897.6 L534.0,897.6 L532.0,897.5 L530.0,897.5 L528.0,897.5 L526.0,897.5 L524.0,897.5 L522.0,897.5 L520.0,897.5 L518.0,897.5 L516.0,897.5 L514.0,897.5 L512.0,897.5 L510.0,897.5 L508.0,897.5 L506.0,897.5 L504.0,897.5 L502.0,897.5 L500.0,897.5 L498.0,897.5 L496.0,897.5 L494.0,897.5 L492.0,897.5 L490.0,897.5 L488.0,897.5 L486.0,897.5 L484.0,897.5 L482.0,897.5 L480.0,897.5 L478.0,897.5 L476.0,897.5 L474.0,897.5 L472.0,897.5 L470.0,897.5 L468.0,897.5 L466.0,897.5 L464.0,897.5 L462.0,897.5 L460.0,897.5 L458.0,897.5 L456.0,897.5 L454.0,897.4 L452.0,897.4 L450.0,897.4 L448.0,897.4 L446.0,897.4 L444.0,897.4 L442.0,897.4 L440.0,897.4 L438.0,897.4 L436.0,897.4 Z" fill="#23862c"/>
<path d="M1530.0,945.1 L1532.0,946.1 L1534.0,947.1 L1536.0,948.1 L1538.0,949.0 L1540.0,949.9 L1542.0,950.8 L1544.0,951.6 L1546.0,952.5 L1548.0,953.2 L1550.0,954.0 L1552.0,954.7 L1554.0,955.4 L1556.0,956.1 L1558.0,956.8 L1560.0,957.4 L1562.0,958.0 L1564.0,958.6 L1566.0,959.2 L1566.0,970.5 L1564.0,970.5 L1562.0,970.5 L1560.0,970.4 L1558.0,970.4 L1556.0,970.4 L1554.0,970.3 L1552.0,970.3 L1550.0,970.3 L1548.0,970.2 L1546.0,970.2 L1544.0,970.2 L1542.0,970.1 L1540.0,970.1 L1538.0,970.1 L1536.0,970.0 L1534.0,970.0 L1532.0,969.9 L1530.0,969.9 Z" fill="#34c040"/>
<path d="M566.0,868.3 L568.0,867.7 L570.0,867.2 L572.0,866.6 L574.0,866.0 L576.0,865.4 L578.0,864.7 L580.0,864.1 L582.0,863.5 L584.0,862.8 L586.0,862.2 L588.0,861.5 L590.0,860.8 L592.0,860.1 L594.0,859.4 L596.0,858.6 L598.0,857.9 L600.0,857.2 L602.0,856.4 L604.0,855.6 L606.0,854.8 L608.0,854.0 L610.0,853.2 L612.0,852.4 L614.0,851.6 L616.0,850.7 L618.0,849.9 L620.0,849.0 L622.0,848.2 L624.0,847.3 L626.0,846.4 L628.0,845.5 L630.0,844.5 L632.0,843.6 L634.0,842.6 L636.0,841.7 L638.0,840.7 L640.0,839.7 L642.0,838.8 L644.0,837.8 L646.0,836.7 L648.0,835.7 L650.0,834.7 L652.0,833.7 L654.0,832.6 L656.0,831.5 L658.0,830.5 L660.0,829.4 L662.0,828.3 L664.0,827.2 L666.0,826.1 L668.0,825.0 L670.0,823.9 L672.0,822.8 L674.0,821.6 L676.0,820.5 L678.0,819.3 L680.0,818.2 L682.0,817.0 L684.0,815.8 L686.0,814.7 L688.0,813.5 L690.0,812.3 L692.0,811.1 L694.0,809.9 L696.0,808.7 L698.0,807.5 L700.0,806.3 L702.0,805.1 L704.0,803.9 L706.0,802.7 L708.0,801.5 L710.0,800.3 L712.0,799.1 L714.0,797.9 L716.0,796.7 L718.0,795.5 L720.0,794.3 L722.0,793.1 L724.0,791.9 L726.0,790.7 L728.0,789.5 L730.0,788.3 L732.0,787.1 L734.0,785.9 L736.0,784.7 L738.0,783.6 L740.0,782.4 L742.0,781.3 L744.0,780.1 L746.0,779.0 L748.0,777.9 L750.0,776.8 L752.0,775.6 L754.0,774.6 L756.0,773.5 L758.0,772.4 L760.0,771.4 L762.0,770.3 L764.0,769.3 L766.0,768.3 L768.0,767.3 L770.0,766.3 L772.0,765.4 L774.0,764.4 L776.0,763.5 L778.0,762.6 L780.0,761.7 L782.0,760.8 L784.0,760.0 L786.0,759.2 L788.0,758.4 L790.0,757.6 L792.0,756.9 L794.0,756.1 L796.0,755.4 L798.0,754.8 L800.0,754.1 L802.0,753.5 L804.0,752.9 L806.0,752.3 L808.0,751.8 L810.0,751.3 L812.0,750.8 L814.0,750.4 L816.0,749.9 L818.0,749.5 L820.0,749.2 L822.0,748.9 L824.0,748.6 L826.0,748.3 L828.0,748.1 L830.0,747.9 L832.0,747.7 L834.0,747.6 L836.0,747.5 L838.0,747.4 L840.0,747.4 L842.0,747.4 L844.0,747.5 L846.0,747.6 L848.0,747.7 L850.0,747.8 L852.0,748.0 L854.0,748.3 L856.0,748.5 L858.0,748.8 L860.0,749.2 L862.0,749.6 L864.0,750.0 L866.0,750.5 L868.0,751.0 L870.0,751.6 L872.0,752.2 L874.0,752.8 L876.0,753.5 L878.0,754.2 L880.0,755.0 L882.0,755.8 L884.0,756.6 L886.0,757.5 L888.0,758.3 L890.0,759.3 L892.0,760.2 L894.0,761.2 L896.0,762.3 L898.0,763.3 L900.0,764.4 L902.0,765.5 L904.0,766.6 L906.0,767.8 L908.0,769.0 L910.0,770.2 L912.0,771.5 L914.0,772.8 L916.0,774.1 L918.0,775.4 L920.0,776.7 L922.0,778.1 L924.0,779.5 L926.0,780.9 L928.0,782.3 L930.0,783.7 L932.0,785.2 L934.0,786.7 L936.0,788.1 L938.0,789.6 L940.0,791.2 L942.0,792.7 L944.0,794.2 L946.0,795.8 L948.0,797.3 L950.0,798.9 L952.0,800.5 L954.0,802.1 L956.0,803.6 L958.0,805.2 L960.0,806.8 L962.0,808.5 L964.0,810.1 L966.0,811.7 L968.0,813.3 L970.0,814.9 L972.0,816.6 L974.0,818.2 L976.0,819.8 L978.0,821.4 L980.0,823.1 L982.0,824.7 L984.0,826.3 L986.0,827.9 L988.0,829.5 L990.0,831.2 L992.0,832.8 L994.0,834.4 L996.0,836.0 L998.0,837.6 L1000.0,839.1 L1002.0,840.7 L1004.0,842.3 L1006.0,843.9 L1008.0,845.4 L1010.0,847.0 L1012.0,848.5 L1014.0,850.1 L1016.0,851.6 L1018.0,853.1 L1020.0,854.6 L1022.0,856.1 L1024.0,857.6 L1026.0,859.1 L1028.0,860.5 L1030.0,862.0 L1032.0,863.4 L1034.0,864.9 L1036.0,866.3 L1038.0,867.7 L1040.0,869.1 L1042.0,870.5 L1044.0,871.8 L1046.0,873.2 L1048.0,874.5 L1050.0,875.9 L1052.0,877.2 L1054.0,878.5 L1056.0,879.8 L1058.0,881.1 L1060.0,882.3 L1062.0,883.6 L1064.0,884.8 L1066.0,886.0 L1068.0,887.2 L1070.0,888.4 L1072.0,889.6 L1074.0,890.8 L1076.0,891.9 L1078.0,893.1 L1080.0,894.2 L1082.0,895.3 L1084.0,896.4 L1086.0,897.5 L1088.0,898.6 L1090.0,899.6 L1092.0,900.7 L1094.0,901.7 L1096.0,902.7 L1098.0,903.7 L1100.0,904.7 L1102.0,905.7 L1104.0,906.7 L1106.0,907.6 L1108.0,908.6 L1110.0,909.5 L1112.0,910.4 L1114.0,911.3 L1116.0,912.2 L1118.0,913.1 L1120.0,913.9 L1122.0,914.8 L1124.0,915.6 L1126.0,916.5 L1128.0,917.3 L1130.0,918.1 L1132.0,918.9 L1134.0,919.7 L1136.0,920.4 L1138.0,921.2 L1140.0,921.9 L1142.0,922.7 L1144.0,923.4 L1146.0,924.1 L1148.0,924.8 L1150.0,925.5 L1152.0,926.2 L1154.0,926.9 L1156.0,927.6 L1158.0,928.2 L1160.0,928.9 L1162.0,929.5 L1164.0,930.2 L1166.0,930.8 L1168.0,931.4 L1170.0,932.0 L1172.0,932.6 L1174.0,933.2 L1176.0,933.8 L1178.0,934.3 L1180.0,934.9 L1182.0,935.5 L1184.0,936.0" fill="none" stroke="#1a3060" stroke-width="2"/>
<path d="M808.0,749.5 L810.0,746.8 L812.0,744.0 L814.0,741.2 L816.0,738.3 L818.0,735.4 L820.0,732.5 L822.0,729.6 L824.0,726.6 L826.0,723.6 L828.0,720.5 L830.0,717.4 L832.0,714.3 L834.0,711.2 L836.0,708.0 L838.0,704.8 L840.0,701.6 L842.0,698.4 L844.0,695.1 L846.0,691.8 L848.0,688.5 L850.0,685.1 L852.0,681.7 L854.0,678.3 L856.0,674.9 L858.0,671.5 L860.0,668.1 L862.0,664.6 L864.0,661.1 L866.0,657.6 L868.0,654.1 L870.0,650.6 L872.0,647.1 L874.0,643.6 L876.0,640.0 L878.0,636.5 L880.0,632.9 L882.0,629.4 L884.0,625.8 L886.0,622.3 L888.0,618.8 L890.0,615.2 L892.0,611.7 L894.0,608.2 L896.0,604.7 L898.0,601.2 L900.0,597.8 L902.0,594.3 L904.0,590.9 L906.0,587.5 L908.0,584.1 L910.0,580.8 L912.0,577.4 L914.0,574.2 L916.0,570.9 L918.0,567.7 L920.0,564.6 L922.0,561.4 L924.0,558.4 L926.0,555.3 L928.0,552.4 L930.0,549.5 L932.0,546.6 L934.0,543.8 L936.0,541.1 L938.0,538.4 L940.0,535.8 L942.0,533.3 L944.0,530.8 L946.0,528.5 L948.0,526.2 L950.0,524.0 L952.0,521.9 L954.0,519.8 L956.0,517.9 L958.0,516.1 L960.0,514.3 L962.0,512.7 L964.0,511.1 L966.0,509.7 L968.0,508.3 L970.0,507.1 L972.0,506.0 L974.0,505.0 L976.0,504.1 L978.0,503.3 L980.0,502.7 L982.0,502.1 L984.0,501.7 L986.0,501.4 L988.0,501.2 L990.0,501.1 L992.0,501.2 L994.0,501.3 L996.0,501.6 L998.0,502.1 L1000.0,502.6 L1002.0,503.2 L1004.0,504.0 L1006.0,504.8 L1008.0,505.8 L1010.0,506.9 L1012.0,508.1 L1014.0,509.4 L1016.0,510.8 L1018.0,512.4 L1020.0,514.0 L1022.0,515.7 L1024.0,517.6 L1026.0,519.5 L1028.0,521.5 L1030.0,523.7 L1032.0,525.9 L1034.0,528.2 L1036.0,530.6 L1038.0,533.1 L1040.0,535.6 L1042.0,538.3 L1044.0,541.0 L1046.0,543.8 L1048.0,546.7 L1050.0,549.7 L1052.0,552.7 L1054.0,555.8 L1056.0,558.9 L1058.0,562.1 L1060.0,565.4 L1062.0,568.7 L1064.0,572.1 L1066.0,575.5 L1068.0,579.0 L1070.0,582.5 L1072.0,586.1 L1074.0,589.7 L1076.0,593.4 L1078.0,597.0 L1080.0,600.7 L1082.0,604.5 L1084.0,608.2 L1086.0,612.0 L1088.0,615.9 L1090.0,619.7 L1092.0,623.5 L1094.0,627.4 L1096.0,631.3 L1098.0,635.2 L1100.0,639.1 L1102.0,643.0 L1104.0,647.0 L1106.0,650.9 L1108.0,654.8 L1110.0,658.8 L1112.0,662.7 L1114.0,666.6 L1116.0,670.6 L1118.0,674.5 L1120.0,678.4 L1122.0,682.3 L1124.0,686.2 L1126.0,690.1 L1128.0,694.0 L1130.0,697.8 L1132.0,701.7 L1134.0,705.5 L1136.0,709.3 L1138.0,713.1 L1140.0,716.9 L1142.0,720.6 L1144.0,724.3 L1146.0,728.0 L1148.0,731.7 L1150.0,735.4 L1152.0,739.0 L1154.0,742.6 L1156.0,746.2 L1158.0,749.7 L1160.0,753.3 L1162.0,756.7 L1164.0,760.2 L1166.0,763.6 L1168.0,767.0 L1170.0,770.4 L1172.0,773.7 L1174.0,777.0 L1176.0,780.3 L1178.0,783.5 L1180.0,786.7 L1182.0,789.9 L1184.0,793.0 L1186.0,796.1 L1188.0,799.1 L1190.0,802.1 L1192.0,805.1 L1194.0,808.1 L1196.0,811.0 L1198.0,813.8 L1200.0,816.7 L1202.0,819.4 L1204.0,822.2 L1206.0,824.9 L1208.0,827.6 L1210.0,830.2 L1212.0,832.8 L1214.0,835.4 L1216.0,837.9 L1218.0,840.4 L1220.0,842.9 L1222.0,845.3 L1224.0,847.7 L1226.0,850.0 L1228.0,852.3 L1230.0,854.6 L1232.0,856.8 L1234.0,859.0 L1236.0,861.2 L1238.0,863.3 L1240.0,865.4 L1242.0,867.4 L1244.0,869.4 L1246.0,871.4 L1248.0,873.4 L1250.0,875.3 L1252.0,877.1 L1254.0,879.0 L1256.0,880.8 L1258.0,882.6 L1260.0,884.3 L1262.0,886.0 L1264.0,887.7 L1266.0,889.4 L1268.0,891.0 L1270.0,892.6 L1272.0,894.1 L1274.0,895.6 L1276.0,897.1 L1278.0,898.6 L1280.0,900.0 L1282.0,901.5 L1284.0,902.8 L1286.0,904.2 L1288.0,905.5 L1290.0,906.8 L1292.0,908.1 L1294.0,909.3 L1296.0,910.6 L1298.0,911.8 L1300.0,912.9 L1302.0,914.1 L1304.0,915.2 L1306.0,916.3 L1308.0,917.4 L1310.0,918.4 L1312.0,919.5 L1314.0,920.5 L1316.0,921.5 L1318.0,922.4 L1320.0,923.4 L1322.0,924.3 L1324.0,925.2 L1326.0,926.1 L1328.0,927.0 L1330.0,927.8 L1332.0,928.7 L1334.0,929.5 L1336.0,930.3 L1338.0,931.1 L1340.0,931.8 L1342.0,932.6 L1344.0,933.3 L1346.0,934.0 L1348.0,934.7 L1350.0,935.4 L1352.0,936.1 L1354.0,936.7 L1356.0,937.4 L1358.0,938.0 L1360.0,938.6 L1362.0,939.2 L1364.0,939.8 L1366.0,940.4 L1368.0,940.9 L1370.0,941.5 L1372.0,942.0 L1374.0,942.6 L1376.0,943.1 L1378.0,943.6 L1380.0,944.1 L1382.0,944.6 L1384.0,945.0 L1386.0,945.5 L1388.0,946.0 L1390.0,946.4 L1392.0,946.9 L1394.0,947.3 L1396.0,947.7 L1398.0,948.1 L1400.0,948.5 L1402.0,948.9 L1404.0,949.3 L1406.0,949.7 L1408.0,950.1 L1410.0,950.4 L1412.0,950.8 L1414.0,951.1 L1416.0,951.5 L1418.0,951.8 L1420.0,952.1 L1422.0,952.5 L1424.0,952.8 L1426.0,953.1 L1428.0,953.4 L1430.0,953.7 L1432.0,954.0 L1434.0,954.3 L1436.0,954.6 L1438.0,954.8 L1440.0,955.1" fill="none" stroke="#2a6a6a" stroke-width="1.6"/>
<clipPath id="c3"><path d="M566.0,868.3 L567.0,868.0 L568.0,867.7 L569.0,867.5 L570.0,867.2 L571.0,866.9 L572.0,866.6 L573.0,866.3 L574.0,866.0 L575.0,865.7 L576.0,865.4 L577.0,865.1 L578.0,864.7 L579.0,864.4 L580.0,864.1 L581.0,863.8 L582.0,863.5 L583.0,863.1 L584.0,862.8 L585.0,862.5 L586.0,862.2 L587.0,861.8 L588.0,861.5 L589.0,861.1 L590.0,860.8 L591.0,860.4 L592.0,860.1 L593.0,859.7 L594.0,859.4 L595.0,859.0 L596.0,858.6 L597.0,858.3 L598.0,857.9 L599.0,857.5 L600.0,857.2 L601.0,856.8 L602.0,856.4 L603.0,856.0 L604.0,855.6 L605.0,855.2 L606.0,854.8 L607.0,854.4 L608.0,854.0 L609.0,853.6 L610.0,853.2 L611.0,852.8 L612.0,852.4 L613.0,852.0 L614.0,851.6 L615.0,851.2 L616.0,850.7 L617.0,850.3 L618.0,849.9 L619.0,849.5 L620.0,849.0 L621.0,848.6 L622.0,848.2 L623.0,847.7 L624.0,847.3 L625.0,846.8 L626.0,846.4 L627.0,845.9 L628.0,845.5 L629.0,845.0 L630.0,844.5 L631.0,844.1 L632.0,843.6 L633.0,843.1 L634.0,842.6 L635.0,842.2 L636.0,841.7 L637.0,841.2 L638.0,840.7 L639.0,840.2 L640.0,839.7 L641.0,839.3 L642.0,838.8 L643.0,838.3 L644.0,837.8 L645.0,837.3 L646.0,836.7 L647.0,836.2 L648.0,835.7 L649.0,835.2 L650.0,834.7 L651.0,834.2 L652.0,833.7 L653.0,833.1 L654.0,832.6 L655.0,832.1 L656.0,831.5 L657.0,831.0 L658.0,830.5 L659.0,829.9 L660.0,829.4 L661.0,828.9 L662.0,828.3 L663.0,827.8 L664.0,827.2 L665.0,826.7 L666.0,826.1 L667.0,825.6 L668.0,825.0 L669.0,824.4 L670.0,823.9 L671.0,823.3 L672.0,822.8 L673.0,822.2 L674.0,821.6 L675.0,821.0 L676.0,820.5 L677.0,819.9 L678.0,819.3 L679.0,818.7 L680.0,818.2 L681.0,817.6 L682.0,817.0 L683.0,816.4 L684.0,815.8 L685.0,815.3 L686.0,814.7 L687.0,814.1 L688.0,813.5 L689.0,812.9 L690.0,812.3 L691.0,811.7 L692.0,811.1 L693.0,810.5 L694.0,809.9 L695.0,809.3 L696.0,808.7 L697.0,808.1 L698.0,807.5 L699.0,806.9 L700.0,806.3 L701.0,805.7 L702.0,805.1 L703.0,804.5 L704.0,803.9 L705.0,803.3 L706.0,802.7 L707.0,802.1 L708.0,801.5 L709.0,800.9 L710.0,800.3 L711.0,799.7 L712.0,799.1 L713.0,798.5 L714.0,797.9 L715.0,797.3 L716.0,796.7 L717.0,796.1 L718.0,795.5 L719.0,794.9 L720.0,794.3 L721.0,793.7 L722.0,793.1 L723.0,792.5 L724.0,791.9 L725.0,791.3 L726.0,790.7 L727.0,790.1 L728.0,789.5 L729.0,788.9 L730.0,788.3 L731.0,787.7 L732.0,787.1 L733.0,786.5 L734.0,785.9 L735.0,785.3 L736.0,784.7 L737.0,784.2 L738.0,783.6 L739.0,783.0 L740.0,782.4 L741.0,781.8 L742.0,781.3 L743.0,780.7 L744.0,780.1 L745.0,779.6 L746.0,779.0 L747.0,778.4 L748.0,777.9 L749.0,777.3 L750.0,776.8 L751.0,776.2 L752.0,775.6 L753.0,775.1 L754.0,774.6 L755.0,774.0 L756.0,773.5 L757.0,772.9 L758.0,772.4 L759.0,771.9 L760.0,771.4 L761.0,770.8 L762.0,770.3 L763.0,769.8 L764.0,769.3 L765.0,768.8 L766.0,768.3 L767.0,767.8 L768.0,767.3 L769.0,766.8 L770.0,766.3 L771.0,765.8 L772.0,765.4 L773.0,764.9 L774.0,764.4 L775.0,764.0 L776.0,763.5 L777.0,763.0 L778.0,762.6 L779.0,762.1 L780.0,761.7 L781.0,761.3 L782.0,760.8 L783.0,760.4 L784.0,760.0 L785.0,759.6 L786.0,759.2 L787.0,758.8 L788.0,758.4 L789.0,758.0 L790.0,757.6 L791.0,757.2 L792.0,756.9 L793.0,756.5 L794.0,756.1 L795.0,755.8 L796.0,755.4 L797.0,755.1 L798.0,754.8 L799.0,754.4 L800.0,754.1 L801.0,753.8 L802.0,753.5 L803.0,753.2 L804.0,752.9 L805.0,752.6 L806.0,752.3 L807.0,752.1 L808.0,751.8 L809.0,751.5 L810.0,751.3 L811.0,751.0 L812.0,750.8 L813.0,750.6 L814.0,750.4 L815.0,750.1 L816.0,749.9 L817.0,749.7 L818.0,749.5 L819.0,749.4 L820.0,749.2 L821.0,749.0 L822.0,748.9 L823.0,748.7 L824.0,748.6 L825.0,748.4 L826.0,748.3 L827.0,748.2 L828.0,748.1 L829.0,748.0 L830.0,747.9 L831.0,747.8 L832.0,747.7 L833.0,747.7 L834.0,747.6 L835.0,747.6 L836.0,747.5 L837.0,747.5 L838.0,747.4 L839.0,747.4 L840.0,747.4 L841.0,747.4 L842.0,747.4 L843.0,747.5 L844.0,747.5 L845.0,747.5 L846.0,747.6 L847.0,747.6 L848.0,747.7 L849.0,747.7 L850.0,747.8 L851.0,747.9 L852.0,748.0 L853.0,748.1 L854.0,748.3 L855.0,748.4 L856.0,748.5 L857.0,748.7 L858.0,748.8 L859.0,749.0 L860.0,749.2 L861.0,749.4 L862.0,749.6 L863.0,749.8 L864.0,750.0 L865.0,750.3 L866.0,750.5 L867.0,750.8 L868.0,751.0 L869.0,751.3 L870.0,751.6 L871.0,751.9 L872.0,752.2 L873.0,752.5 L874.0,752.8 L875.0,753.2 L876.0,753.5 L877.0,753.9 L878.0,754.2 L879.0,754.6 L880.0,755.0 L881.0,755.4 L882.0,755.8 L883.0,756.2 L884.0,756.6 L885.0,757.0 L886.0,757.5 L887.0,757.9 L888.0,758.3 L889.0,758.8 L890.0,759.3 L891.0,759.7 L892.0,760.2 L893.0,760.7 L894.0,761.2 L895.0,761.7 L896.0,762.3 L897.0,762.8 L898.0,763.3 L899.0,763.8 L900.0,764.4 L901.0,764.9 L902.0,765.5 L903.0,766.1 L904.0,766.6 L905.0,767.2 L906.0,767.8 L907.0,768.4 L908.0,769.0 L909.0,769.6 L910.0,770.2 L911.0,770.9 L912.0,771.5 L913.0,772.1 L914.0,772.8 L915.0,773.4 L916.0,774.1 L917.0,774.7 L918.0,775.4 L919.0,776.0 L920.0,776.7 L921.0,777.4 L922.0,778.1 L923.0,778.8 L924.0,779.5 L925.0,780.2 L926.0,780.9 L927.0,781.6 L928.0,782.3 L929.0,783.0 L930.0,783.7 L931.0,784.5 L932.0,785.2 L933.0,785.9 L934.0,786.7 L935.0,787.4 L936.0,788.1 L937.0,788.9 L938.0,789.6 L939.0,790.4 L940.0,791.2 L941.0,791.9 L942.0,792.7 L943.0,793.4 L944.0,794.2 L945.0,795.0 L946.0,795.8 L947.0,796.5 L948.0,797.3 L949.0,798.1 L950.0,798.9 L951.0,799.7 L952.0,800.5 L953.0,801.3 L954.0,802.1 L955.0,802.8 L956.0,803.6 L957.0,804.4 L958.0,805.2 L959.0,806.0 L960.0,806.8 L961.0,807.7 L962.0,808.5 L963.0,809.3 L964.0,810.1 L965.0,810.9 L966.0,811.7 L967.0,812.5 L968.0,813.3 L969.0,814.1 L970.0,814.9 L971.0,815.7 L972.0,816.6 L973.0,817.4 L974.0,818.2 L975.0,819.0 L976.0,819.8 L977.0,820.6 L978.0,821.4 L979.0,822.2 L980.0,823.1 L981.0,823.9 L982.0,824.7 L983.0,825.5 L984.0,826.3 L985.0,827.1 L986.0,827.9 L987.0,828.7 L988.0,829.5 L989.0,830.3 L990.0,831.2 L991.0,832.0 L992.0,832.8 L993.0,833.6 L994.0,834.4 L995.0,835.2 L996.0,836.0 L997.0,836.8 L998.0,837.6 L999.0,838.4 L1000.0,839.1 L1001.0,839.9 L1002.0,840.7 L1003.0,841.5 L1004.0,842.3 L1005.0,843.1 L1006.0,843.9 L1007.0,844.7 L1008.0,845.4 L1009.0,846.2 L1010.0,847.0 L1011.0,847.8 L1012.0,848.5 L1013.0,849.3 L1014.0,850.1 L1015.0,850.8 L1016.0,851.6 L1017.0,852.4 L1018.0,853.1 L1019.0,853.9 L1020.0,854.6 L1021.0,855.4 L1022.0,856.1 L1023.0,856.9 L1024.0,857.6 L1025.0,858.3 L1026.0,859.1 L1027.0,859.8 L1028.0,860.5 L1029.0,861.3 L1030.0,862.0 L1031.0,862.7 L1032.0,863.4 L1033.0,864.2 L1034.0,864.9 L1035.0,865.6 L1036.0,866.3 L1037.0,867.0 L1038.0,867.7 L1039.0,868.4 L1040.0,869.1 L1041.0,869.8 L1042.0,870.5 L1043.0,871.2 L1044.0,871.8 L1045.0,872.5 L1046.0,873.2 L1047.0,873.9 L1048.0,874.5 L1049.0,875.2 L1050.0,875.9 L1051.0,876.5 L1052.0,877.2 L1053.0,877.8 L1054.0,878.5 L1055.0,879.1 L1056.0,879.8 L1057.0,880.4 L1058.0,881.1 L1059.0,881.7 L1060.0,882.3 L1061.0,883.0 L1062.0,883.6 L1063.0,884.2 L1064.0,884.8 L1065.0,885.4 L1066.0,886.0 L1067.0,886.6 L1068.0,887.2 L1069.0,887.8 L1070.0,888.4 L1071.0,889.0 L1072.0,889.6 L1073.0,890.2 L1074.0,890.8 L1075.0,891.4 L1076.0,891.9 L1077.0,892.5 L1078.0,893.1 L1079.0,893.7 L1080.0,894.2 L1081.0,894.8 L1082.0,895.3 L1083.0,895.9 L1084.0,896.4 L1085.0,897.0 L1086.0,897.5 L1087.0,898.0 L1088.0,898.6 L1089.0,899.1 L1090.0,899.6 L1091.0,900.2 L1092.0,900.7 L1093.0,901.2 L1094.0,901.7 L1095.0,902.2 L1096.0,902.7 L1097.0,903.2 L1098.0,903.7 L1099.0,904.2 L1100.0,904.7 L1101.0,905.2 L1102.0,905.7 L1103.0,906.2 L1104.0,906.7 L1105.0,907.2 L1106.0,907.6 L1107.0,908.1 L1108.0,908.6 L1109.0,909.0 L1110.0,909.5 L1111.0,910.0 L1112.0,910.4 L1113.0,910.9 L1114.0,911.3 L1115.0,911.8 L1116.0,912.2 L1117.0,912.6 L1118.0,913.1 L1119.0,913.5 L1120.0,913.9 L1121.0,914.4 L1122.0,914.8 L1123.0,915.2 L1124.0,915.6 L1125.0,916.0 L1126.0,916.5 L1127.0,916.9 L1128.0,917.3 L1129.0,917.7 L1130.0,918.1 L1131.0,918.5 L1132.0,918.9 L1133.0,919.3 L1134.0,919.7 L1135.0,920.0 L1136.0,920.4 L1137.0,920.8 L1138.0,921.2 L1139.0,921.6 L1140.0,921.9 L1141.0,922.4 L1142.0,923.0 L1143.0,923.6 L1144.0,924.2 L1145.0,924.8 L1146.0,925.4 L1147.0,926.0 L1148.0,926.6 L1149.0,927.3 L1150.0,927.9 L1151.0,928.5 L1152.0,929.1 L1153.0,929.8 L1154.0,930.4 L1155.0,931.0 L1156.0,931.6 L1157.0,932.2 L1158.0,932.8 L1159.0,933.4 L1160.0,934.0 L1161.0,934.6 L1162.0,935.2 L1163.0,935.8 L1164.0,936.4 L1165.0,937.0 L1166.0,937.6 L1167.0,938.1 L1168.0,938.7 L1169.0,939.2 L1170.0,939.8 L1171.0,940.3 L1172.0,940.9 L1173.0,941.4 L1174.0,941.9 L1175.0,942.5 L1176.0,943.0 L1177.0,943.5 L1178.0,944.0 L1179.0,944.5 L1180.0,945.0 L1181.0,945.5 L1182.0,946.0 L1182.0,946.0 L1181.0,945.8 L1180.0,945.7 L1179.0,945.5 L1178.0,945.3 L1177.0,945.2 L1176.0,945.0 L1175.0,944.9 L1174.0,944.7 L1173.0,944.5 L1172.0,944.4 L1171.0,944.2 L1170.0,944.1 L1169.0,943.9 L1168.0,943.7 L1167.0,943.6 L1166.0,943.4 L1165.0,943.2 L1164.0,943.1 L1163.0,942.9 L1162.0,942.8 L1161.0,942.6 L1160.0,942.4 L1159.0,942.3 L1158.0,942.1 L1157.0,941.9 L1156.0,941.8 L1155.0,941.6 L1154.0,941.5 L1153.0,941.3 L1152.0,941.1 L1151.0,941.0 L1150.0,940.8 L1149.0,940.6 L1148.0,940.5 L1147.0,940.3 L1146.0,940.1 L1145.0,940.0 L1144.0,939.8 L1143.0,939.6 L1142.0,939.5 L1141.0,939.3 L1140.0,939.1 L1139.0,939.0 L1138.0,938.8 L1137.0,938.7 L1136.0,938.5 L1135.0,938.3 L1134.0,938.2 L1133.0,938.0 L1132.0,937.8 L1131.0,937.7 L1130.0,937.5 L1129.0,937.3 L1128.0,937.2 L1127.0,937.0 L1126.0,936.8 L1125.0,936.7 L1124.0,936.5 L1123.0,936.3 L1122.0,936.2 L1121.0,936.0 L1120.0,935.8 L1119.0,935.7 L1118.0,935.5 L1117.0,935.3 L1116.0,935.2 L1115.0,935.0 L1114.0,934.8 L1113.0,934.7 L1112.0,934.5 L1111.0,934.3 L1110.0,934.2 L1109.0,934.0 L1108.0,933.8 L1107.0,933.7 L1106.0,933.5 L1105.0,933.3 L1104.0,933.2 L1103.0,933.0 L1102.0,932.8 L1101.0,932.7 L1100.0,932.5 L1099.0,932.3 L1098.0,932.2 L1097.0,932.0 L1096.0,931.9 L1095.0,931.7 L1094.0,931.5 L1093.0,931.4 L1092.0,931.2 L1091.0,931.0 L1090.0,930.9 L1089.0,930.7 L1088.0,930.5 L1087.0,930.4 L1086.0,930.2 L1085.0,930.0 L1084.0,929.9 L1083.0,929.7 L1082.0,929.6 L1081.0,929.4 L1080.0,929.2 L1079.0,929.1 L1078.0,928.9 L1077.0,928.7 L1076.0,928.6 L1075.0,928.4 L1074.0,928.3 L1073.0,928.1 L1072.0,927.9 L1071.0,927.8 L1070.0,927.6 L1069.0,927.5 L1068.0,927.3 L1067.0,927.1 L1066.0,927.0 L1065.0,926.8 L1064.0,926.7 L1063.0,926.5 L1062.0,926.3 L1061.0,926.2 L1060.0,926.0 L1059.0,925.9 L1058.0,925.7 L1057.0,925.5 L1056.0,925.4 L1055.0,925.2 L1054.0,925.1 L1053.0,924.9 L1052.0,924.8 L1051.0,924.6 L1050.0,924.4 L1049.0,924.3 L1048.0,924.1 L1047.0,924.0 L1046.0,923.8 L1045.0,923.7 L1044.0,923.5 L1043.0,923.4 L1042.0,923.2 L1041.0,923.1 L1040.0,922.9 L1039.0,922.7 L1038.0,922.6 L1037.0,922.4 L1036.0,922.3 L1035.0,922.1 L1034.0,922.0 L1033.0,921.8 L1032.0,921.7 L1031.0,921.5 L1030.0,921.4 L1029.0,921.2 L1028.0,921.1 L1027.0,920.9 L1026.0,920.8 L1025.0,920.6 L1024.0,920.5 L1023.0,920.3 L1022.0,920.2 L1021.0,920.1 L1020.0,919.9 L1019.0,919.8 L1018.0,919.6 L1017.0,919.5 L1016.0,919.3 L1015.0,919.2 L1014.0,919.0 L1013.0,918.9 L1012.0,918.7 L1011.0,918.6 L1010.0,918.5 L1009.0,918.3 L1008.0,918.2 L1007.0,918.0 L1006.0,917.9 L1005.0,917.8 L1004.0,917.6 L1003.0,917.5 L1002.0,917.3 L1001.0,917.2 L1000.0,917.1 L999.0,916.9 L998.0,916.8 L997.0,916.6 L996.0,916.5 L995.0,916.4 L994.0,916.2 L993.0,916.1 L992.0,916.0 L991.0,915.8 L990.0,915.7 L989.0,915.6 L988.0,915.4 L987.0,915.3 L986.0,915.2 L985.0,915.0 L984.0,914.9 L983.0,914.8 L982.0,914.6 L981.0,914.5 L980.0,914.4 L979.0,914.3 L978.0,914.1 L977.0,914.0 L976.0,913.9 L975.0,913.7 L974.0,913.6 L973.0,913.5 L972.0,913.4 L971.0,913.2 L970.0,913.1 L969.0,913.0 L968.0,912.9 L967.0,912.7 L966.0,912.6 L965.0,912.5 L964.0,912.4 L963.0,912.2 L962.0,912.1 L961.0,912.0 L960.0,911.9 L959.0,911.8 L958.0,911.6 L957.0,911.5 L956.0,911.4 L955.0,911.3 L954.0,911.2 L953.0,911.1 L952.0,910.9 L951.0,910.8 L950.0,910.7 L949.0,910.6 L948.0,910.5 L947.0,910.4 L946.0,910.3 L945.0,910.1 L944.0,910.0 L943.0,909.9 L942.0,909.8 L941.0,909.7 L940.0,909.6 L939.0,909.5 L938.0,909.4 L937.0,909.3 L936.0,909.1 L935.0,909.0 L934.0,908.9 L933.0,908.8 L932.0,908.7 L931.0,908.6 L930.0,908.5 L929.0,908.4 L928.0,908.3 L927.0,908.2 L926.0,908.1 L925.0,908.0 L924.0,907.9 L923.0,907.8 L922.0,907.7 L921.0,907.6 L920.0,907.5 L919.0,907.4 L918.0,907.3 L917.0,907.2 L916.0,907.1 L915.0,907.0 L914.0,906.9 L913.0,906.8 L912.0,906.7 L911.0,906.6 L910.0,906.5 L909.0,906.4 L908.0,906.3 L907.0,906.2 L906.0,906.1 L905.0,906.0 L904.0,905.9 L903.0,905.8 L902.0,905.8 L901.0,905.7 L900.0,905.6 L899.0,905.5 L898.0,905.4 L897.0,905.3 L896.0,905.2 L895.0,905.1 L894.0,905.0 L893.0,905.0 L892.0,904.9 L891.0,904.8 L890.0,904.7 L889.0,904.6 L888.0,904.5 L887.0,904.4 L886.0,904.4 L885.0,904.3 L884.0,904.2 L883.0,904.1 L882.0,904.0 L881.0,904.0 L880.0,903.9 L879.0,903.8 L878.0,903.7 L877.0,903.6 L876.0,903.6 L875.0,903.5 L874.0,903.4 L873.0,903.3 L872.0,903.2 L871.0,903.2 L870.0,903.1 L869.0,903.0 L868.0,902.9 L867.0,902.9 L866.0,902.8 L865.0,902.7 L864.0,902.7 L863.0,902.6 L862.0,902.5 L861.0,902.4 L860.0,902.4 L859.0,902.3 L858.0,902.2 L857.0,902.2 L856.0,902.1 L855.0,902.0 L854.0,901.9 L853.0,901.9 L852.0,901.8 L851.0,901.7 L850.0,901.7 L849.0,901.6 L848.0,901.6 L847.0,901.5 L846.0,901.4 L845.0,901.4 L844.0,901.3 L843.0,901.2 L842.0,901.2 L841.0,901.1 L840.0,901.0 L839.0,901.0 L838.0,900.9 L837.0,900.9 L836.0,900.8 L835.0,900.7 L834.0,900.7 L833.0,900.6 L832.0,900.6 L831.0,900.5 L830.0,900.4 L829.0,900.4 L828.0,900.3 L827.0,900.3 L826.0,900.2 L825.0,900.2 L824.0,900.1 L823.0,900.1 L822.0,900.0 L821.0,899.9 L820.0,899.9 L819.0,899.8 L818.0,899.8 L817.0,899.7 L816.0,899.7 L815.0,899.6 L814.0,899.6 L813.0,899.5 L812.0,899.5 L811.0,899.4 L810.0,899.4 L809.0,899.3 L808.0,899.3 L807.0,899.2 L806.0,899.2 L805.0,899.1 L804.0,899.1 L803.0,899.0 L802.0,899.0 L801.0,898.9 L800.0,898.9 L799.0,898.9 L798.0,898.8 L797.0,898.8 L796.0,898.7 L795.0,898.7 L794.0,898.6 L793.0,898.6 L792.0,898.6 L791.0,898.5 L790.0,898.5 L789.0,898.4 L788.0,898.4 L787.0,898.3 L786.0,898.3 L785.0,898.3 L784.0,898.2 L783.0,898.2 L782.0,898.1 L781.0,898.1 L780.0,898.1 L779.0,898.0 L778.0,898.0 L777.0,897.9 L776.0,897.9 L775.0,897.9 L774.0,897.8 L773.0,897.8 L772.0,897.8 L771.0,897.7 L770.0,897.7 L769.0,897.7 L768.0,897.6 L767.0,897.6 L766.0,897.6 L765.0,897.5 L764.0,897.5 L763.0,897.5 L762.0,897.4 L761.0,897.4 L760.0,897.4 L759.0,897.3 L758.0,897.3 L757.0,897.3 L756.0,897.2 L755.0,897.2 L754.0,897.2 L753.0,897.1 L752.0,897.1 L751.0,897.1 L750.0,897.0 L749.0,897.0 L748.0,897.0 L747.0,897.0 L746.0,896.9 L745.0,896.9 L744.0,896.9 L743.0,896.8 L742.0,896.8 L741.0,896.8 L740.0,896.8 L739.0,896.7 L738.0,896.7 L737.0,896.7 L736.0,896.7 L735.0,896.6 L734.0,896.6 L733.0,896.6 L732.0,896.6 L731.0,896.5 L730.0,896.5 L729.0,896.5 L728.0,896.5 L727.0,896.4 L726.0,896.4 L725.0,896.4 L724.0,896.4 L723.0,896.3 L722.0,896.3 L721.0,896.3 L720.0,896.3 L719.0,896.2 L718.0,896.2 L717.0,896.2 L716.0,896.2 L715.0,896.2 L714.0,896.1 L713.0,896.1 L712.0,896.1 L711.0,896.1 L710.0,896.1 L709.0,896.0 L708.0,896.0 L707.0,896.0 L706.0,896.0 L705.0,896.0 L704.0,895.9 L703.0,895.9 L702.0,895.9 L701.0,895.9 L700.0,895.9 L699.0,895.9 L698.0,895.8 L697.0,895.8 L696.0,895.8 L695.0,895.8 L694.0,895.8 L693.0,895.7 L692.0,895.7 L691.0,895.7 L690.0,895.7 L689.0,895.7 L688.0,895.7 L687.0,895.7 L686.0,895.6 L685.0,895.6 L684.0,895.6 L683.0,895.6 L682.0,895.6 L681.0,895.6 L680.0,895.5 L679.0,895.5 L678.0,895.5 L677.0,895.5 L676.0,895.5 L675.0,895.5 L674.0,895.5 L673.0,895.4 L672.0,895.4 L671.0,895.4 L670.0,895.4 L669.0,895.4 L668.0,895.4 L667.0,895.4 L666.0,895.4 L665.0,895.3 L664.0,895.3 L663.0,895.3 L662.0,895.3 L661.0,895.3 L660.0,895.3 L659.0,895.3 L658.0,895.3 L657.0,895.3 L656.0,895.2 L655.0,895.2 L654.0,895.2 L653.0,895.2 L652.0,895.2 L651.0,895.2 L650.0,895.2 L649.0,895.2 L648.0,895.2 L647.0,895.1 L646.0,895.1 L645.0,895.1 L644.0,895.1 L643.0,895.1 L642.0,895.1 L641.0,895.1 L640.0,895.1 L639.0,895.1 L638.0,895.1 L637.0,895.1 L636.0,895.0 L635.0,895.0 L634.0,895.0 L633.0,895.0 L632.0,895.0 L631.0,895.0 L630.0,895.0 L629.0,895.0 L628.0,895.0 L627.0,895.0 L626.0,895.0 L625.0,895.0 L624.0,894.9 L623.0,894.9 L622.0,894.9 L621.0,894.9 L620.0,894.9 L619.0,894.9 L618.0,894.9 L617.0,894.9 L616.0,894.9 L615.0,894.9 L614.0,894.9 L613.0,894.9 L612.0,894.9 L611.0,894.9 L610.0,894.9 L609.0,894.8 L608.0,894.8 L607.0,894.8 L606.0,894.8 L605.0,894.8 L604.0,894.8 L603.0,894.8 L602.0,894.8 L601.0,894.8 L600.0,894.8 L599.0,894.8 L598.0,894.8 L597.0,894.8 L596.0,894.8 L595.0,894.8 L594.0,894.8 L593.0,894.8 L592.0,894.8 L591.0,894.7 L590.0,894.7 L589.0,894.7 L588.0,894.7 L587.0,894.7 L586.0,894.7 L585.0,894.7 L584.0,894.7 L583.0,894.7 L582.0,894.7 L581.0,894.7 L580.0,894.7 L579.0,894.7 L578.0,894.7 L577.0,894.7 L576.0,894.7 L575.0,894.7 L574.0,894.7 L573.0,894.7 L572.0,894.7 L571.0,894.7 L570.0,894.7 L569.0,894.7 L568.0,894.6 L567.0,894.6 L566.0,894.6 Z"/></clipPath>
<g fill="none" stroke="#0c1d52" stroke-width="6.4" clip-path="url(#c3)">
<path d="M700.0,895.8 L701.5,895.8 L703.0,895.8 M712.1,896.0 L713.7,896.0 L715.3,896.0 L716.9,896.0 L718.4,896.0 L720.0,896.1 L721.6,896.1 L723.2,896.1 L724.8,896.1 L726.4,896.2 L728.0,896.2 L729.6,896.2 M738.6,896.4 L740.2,896.4 L741.8,896.4 L743.4,896.4 L745.0,896.5 L746.6,896.5 L748.2,896.5 L749.7,896.5 L751.3,896.5 L752.9,896.6 L754.5,896.6 L756.1,896.6 M765.1,896.7 L766.7,896.7 L768.3,896.7 L769.9,896.7 L771.5,896.7 L773.1,896.8 L774.7,896.8 L776.3,896.8 L777.9,896.8 L779.5,896.8 L781.0,896.8 L782.6,896.8 M791.7,896.7 L793.3,896.7 L794.9,896.7 L796.4,896.7 L798.0,896.7 L799.6,896.6 L801.2,896.6 L802.8,896.6 L804.4,896.5 L806.0,896.5 L807.6,896.5 L809.2,896.4 M818.2,896.1 L819.8,896.0 L821.4,895.9 L823.0,895.8 L824.6,895.7 L826.2,895.6 L827.7,895.5 L829.3,895.4 L830.9,895.3 L832.5,895.2 L834.1,895.0 L835.7,894.9 M844.7,893.9 L846.3,893.7 L847.9,893.5 L849.5,893.3 L851.1,893.1 L852.7,892.9 L854.3,892.6 L855.9,892.4 L857.5,892.1 L859.0,891.8 L860.6,891.5 L862.2,891.2 M871.3,889.2 L872.9,888.8 L874.4,888.4 L876.0,888.0 L877.6,887.6 L879.2,887.1 L880.8,886.6 L882.4,886.1 L884.0,885.6 L885.6,885.1 L887.2,884.5 L888.8,883.9 M897.8,880.3 L899.4,879.6 L901.0,878.8 L902.6,878.1 L904.2,877.3 L905.7,876.5 L907.3,875.6 L908.9,874.8 L910.5,873.9 L912.1,873.0 L913.7,872.0 L915.3,871.0 M924.3,864.9 L925.9,863.7 L927.5,862.5 L929.1,861.3 L930.7,860.0 L932.3,858.7 L933.9,857.3 L935.5,855.9 L937.0,854.5 L938.6,853.0 L940.2,851.5 L941.8,850.0 M950.9,840.5 L952.4,838.7 L954.0,836.9 L955.6,835.0 L957.2,833.0 L958.8,831.1 L960.4,829.0 L962.0,827.0 L963.6,824.9 L965.2,822.7 L966.8,820.5 L968.4,818.2 M977.4,804.5 L979.0,802.0 L980.6,799.3 L982.2,796.7 L983.7,793.9 L985.3,791.1 L986.9,788.3 L988.5,785.4 L990.1,782.5 L991.7,779.5 L993.3,776.5 L994.9,773.4 M1003.9,754.9 L1005.5,751.5 L1007.1,748.0 L1008.7,744.5 L1010.3,740.9 L1011.9,737.2 L1013.5,733.6 L1015.0,729.8 L1016.6,726.0 L1018.2,722.2 L1019.8,718.3 L1021.4,714.3 M1030.4,691.1 L1032.0,686.8 L1033.6,682.5 L1035.2,678.1 L1036.8,673.7 L1038.4,669.3 L1040.0,664.8 L1041.6,660.3 L1043.2,655.7 L1044.8,651.1 L1046.3,646.4 L1047.9,641.7 M1057.0,614.4 L1058.6,609.5 L1060.2,604.6 L1061.7,599.6 L1063.3,594.6 L1064.9,589.6 L1066.5,584.5 L1068.1,579.4 L1069.7,574.3 L1071.3,569.2 L1072.9,564.1 L1074.5,558.9 M1083.5,529.4 L1085.1,524.1 L1086.7,518.9 L1088.3,513.6 L1089.9,508.4 L1091.5,503.2 L1093.0,497.9 L1094.6,492.7 L1096.2,487.5 L1097.8,482.3 L1099.4,477.1 L1101.0,471.9 M1110.0,442.7 L1111.6,437.7 L1113.2,432.7 L1114.8,427.7 L1116.4,422.7 L1118.0,417.8 L1119.6,412.9 L1121.2,408.0 L1122.8,403.2 L1124.3,398.5 L1125.9,393.8 L1127.5,389.1 M1136.6,363.6 L1138.2,359.3 L1139.7,355.1 L1141.3,350.9 L1142.9,346.8 L1144.5,342.8 L1146.1,338.8 L1147.7,334.9 L1149.3,331.1 L1150.9,327.4 L1152.5,323.8 L1154.1,320.2 M1163.1,301.6 L1164.7,298.6 L1166.3,295.7 L1167.9,292.9 L1169.5,290.2 L1171.0,287.7 L1172.6,285.2 L1174.2,282.8 L1175.8,280.5 L1177.4,278.3 L1179.0,276.2 L1180.6,274.3 M1189.6,265.1 L1191.2,263.9 L1192.8,262.8 L1194.4,261.8 L1196.0,260.9 L1197.6,260.1 L1199.2,259.5 L1200.8,258.9 L1202.3,258.5 L1203.9,258.2 L1205.5,258.0 L1207.1,257.9 M1216.2,259.8 L1217.7,260.5 L1219.3,261.4 L1220.9,262.3 L1222.5,263.4 L1224.1,264.6 L1225.7,266.0 L1227.3,267.4 L1228.9,269.0 L1230.5,270.7 L1232.1,272.5 L1233.7,274.4 M1242.7,287.4 L1244.3,290.1 L1245.9,292.8 L1247.5,295.7 L1249.0,298.7 L1250.6,301.8 L1252.2,305.0 L1253.8,308.3 L1255.4,311.6 L1257.0,315.1 L1258.6,318.7 L1260.2,322.4 M1269.2,344.9 L1270.8,349.1 L1272.4,353.5 L1274.0,357.9 L1275.6,362.3 L1277.2,366.9 L1278.8,371.5 L1280.3,376.2 L1281.9,381.0 L1283.5,385.8 L1285.1,390.7 L1286.7,395.6 M1295.7,424.7 L1297.3,430.0 L1298.9,435.4 L1300.5,440.8 L1302.1,446.2 L1303.7,451.6 L1305.3,457.1 L1306.9,462.6 L1308.5,468.2 L1310.1,473.8 L1311.6,479.4 L1313.2,485.0 M1322.3,517.2 L1323.9,523.0 L1325.5,528.7 L1327.0,534.4 L1328.6,540.2 L1330.2,545.9 L1331.8,551.6 L1333.4,557.4 L1335.0,563.1 L1336.6,568.8 L1338.2,574.5 L1339.8,580.2 M1348.8,612.3 L1350.4,617.9 L1352.0,623.5 L1353.6,629.0 L1355.2,634.5 L1356.8,640.0 L1358.3,645.4 L1359.9,650.8 L1361.5,656.2 L1363.1,661.6 L1364.7,666.9 L1366.3,672.2 M1375.3,701.4 L1376.9,706.4 L1378.5,711.3 L1380.1,716.3 L1381.7,721.1 L1383.3,725.9 L1384.9,730.7 L1386.5,735.4 L1388.1,740.1 L1389.6,744.7 L1391.2,749.3 L1392.8,753.8 M1401.9,778.5 L1403.5,782.7 L1405.0,786.8 L1406.6,790.8 L1408.2,794.8 L1409.8,798.8 L1411.4,802.7 L1413.0,806.5 L1414.6,810.3 L1416.2,814.0 L1417.8,817.7 L1419.4,821.3 M1428.4,840.8 L1430.0,844.0 L1431.6,847.2 L1433.2,850.3 L1434.8,853.4 L1436.3,856.5 L1437.9,859.4 L1439.5,862.3 L1441.1,865.2 L1442.7,868.0 L1444.3,870.8 L1445.9,873.5 M1454.9,887.9 L1456.5,890.3 L1458.1,892.6 L1459.7,894.9 L1461.3,897.1 L1462.9,899.3 L1464.5,901.4 L1466.1,903.5 L1467.6,905.6 L1469.2,907.6 L1470.8,909.5 L1472.4,911.4 M1481.5,921.5 L1483.0,923.1 L1484.6,924.7 L1486.2,926.3 L1487.8,927.8 L1489.4,929.3 L1491.0,930.7 L1492.6,932.1 L1494.2,933.5 L1495.8,934.8 L1497.4,936.1 L1499.0,937.4 M1508.0,944.0 L1509.6,945.1 L1511.2,946.1 L1512.8,947.1 L1514.3,948.1 L1515.9,949.1 L1517.5,950.0 L1519.1,950.9 L1520.7,951.8 L1522.3,952.6 L1523.9,953.4 L1525.5,954.2 M1534.5,958.4 L1536.1,959.0 L1537.7,959.7 L1539.3,960.3 L1540.9,960.9 L1542.5,961.4 L1544.1,962.0 L1545.6,962.6 L1547.2,963.1 L1548.8,963.6 L1550.4,964.1 L1552.0,964.6 M1561.0,967.0 L1562.6,967.4 L1564.2,967.8 L1565.8,968.1 L1567.4,968.5 L1569.0,968.8 L1570.6,969.1 L1572.2,969.4 L1573.8,969.7 L1575.4,970.0 L1576.9,970.3 L1578.5,970.6 M1587.6,972.0 L1589.2,972.2 L1590.8,972.4 L1592.3,972.6 L1593.9,972.8 L1595.5,973.0 L1597.1,973.2 L1598.7,973.3 L1600.3,973.5 L1601.9,973.7 L1603.5,973.8 L1605.1,974.0 M1614.1,974.7 L1615.7,974.8 L1617.3,974.9 L1618.9,975.0 L1620.5,975.1 L1622.1,975.2 L1623.6,975.3 L1625.2,975.4 L1626.8,975.5 L1628.4,975.6 L1630.0,975.7 L1631.6,975.7 M1640.6,976.1 L1642.2,976.2 L1643.8,976.2 L1645.4,976.3 L1647.0,976.4 L1648.6,976.4 L1650.2,976.4 L1651.8,976.5 L1653.4,976.5 L1654.9,976.6 L1656.5,976.6 L1658.1,976.7 M1667.2,976.9 L1668.8,976.9 L1670.3,976.9 L1671.9,976.9 L1673.5,977.0 L1675.1,977.0 L1676.7,977.0 L1678.3,977.0 L1679.9,977.1 L1681.5,977.1 L1683.1,977.1 L1684.7,977.1 M1693.7,977.2 L1695.3,977.2 L1696.8,977.2 L1698.4,977.3 L1700.0,977.3"/><path d="M430.0,883.9 L431.6,883.9 L433.1,883.8 L434.7,883.7 L436.2,883.7 L437.8,883.6 M446.8,883.3 L448.4,883.2 L450.0,883.2 L451.6,883.1 L453.1,883.0 L454.7,883.0 L456.3,882.9 L457.9,882.9 L459.5,882.8 L461.1,882.7 L462.7,882.7 L464.3,882.6 M473.3,882.2 L474.9,882.1 L476.5,882.1 L478.1,882.0 L479.7,881.9 L481.3,881.8 L482.9,881.8 L484.4,881.7 L486.0,881.6 L487.6,881.5 L489.2,881.5 L490.8,881.4 M499.8,880.9 L501.4,880.8 L503.0,880.8 L504.6,880.7 L506.2,880.6 L507.8,880.5 L509.4,880.4 L511.0,880.3 L512.6,880.2 L514.2,880.1 L515.7,880.0 L517.3,879.9 M526.4,879.4 L528.0,879.3 L529.6,879.2 L531.1,879.1 L532.7,879.0 L534.3,878.9 L535.9,878.8 L537.5,878.6 L539.1,878.5 L540.7,878.4 L542.3,878.3 L543.9,878.2 M552.9,877.5 L554.5,877.4 L556.1,877.2 L557.7,877.1 L559.3,877.0 L560.9,876.8 L562.4,876.7 L564.0,876.5 L565.6,876.4 L567.2,876.2 L568.8,876.1 L570.4,875.9 M579.4,875.0 L581.0,874.9 L582.6,874.7 L584.2,874.5 L585.8,874.3 L587.4,874.1 L589.0,874.0 L590.6,873.8 L592.2,873.6 L593.7,873.4 L595.3,873.2 L596.9,873.0 M606.0,871.7 L607.6,871.5 L609.1,871.3 L610.7,871.0 L612.3,870.8 L613.9,870.5 L615.5,870.3 L617.1,870.0 L618.7,869.7 L620.3,869.5 L621.9,869.2 L623.5,868.9 M632.5,867.2 L634.1,866.9 L635.7,866.5 L637.3,866.2 L638.9,865.8 L640.4,865.5 L642.0,865.1 L643.6,864.8 L645.2,864.4 L646.8,864.0 L648.4,863.6 L650.0,863.2 M659.0,860.8 L660.6,860.4 L662.2,859.9 L663.8,859.4 L665.4,858.9 L667.0,858.4 L668.6,857.9 L670.2,857.4 L671.7,856.9 L673.3,856.3 L674.9,855.8 L676.5,855.2 M685.5,851.8 L687.1,851.2 L688.7,850.5 L690.3,849.9 L691.9,849.2 L693.5,848.5 L695.1,847.8 L696.7,847.0 L698.3,846.3 L699.9,845.6 L701.5,844.8 L703.0,844.0 M712.1,839.3 L713.7,838.4 L715.3,837.5 L716.9,836.6 L718.4,835.6 L720.0,834.7 L721.6,833.7 L723.2,832.7 L724.8,831.7 L726.4,830.7 L728.0,829.6 L729.6,828.6 M738.6,822.2 L740.2,821.0 L741.8,819.8 L743.4,818.5 L745.0,817.3 L746.6,816.0 L748.2,814.7 L749.7,813.4 L751.3,812.0 L752.9,810.7 L754.5,809.3 L756.1,807.9 M765.1,799.5 L766.7,797.9 L768.3,796.4 L769.9,794.8 L771.5,793.1 L773.1,791.5 L774.7,789.8 L776.3,788.1 L777.9,786.4 L779.5,784.7 L781.0,782.9 L782.6,781.1 M791.7,770.6 L793.3,768.6 L794.9,766.6 L796.4,764.7 L798.0,762.6 L799.6,760.6 L801.2,758.5 L802.8,756.5 L804.4,754.4 L806.0,752.2 L807.6,750.1 L809.2,747.9 M818.2,735.2 L819.8,732.8 L821.4,730.5 L823.0,728.1 L824.6,725.7 L826.2,723.3 L827.7,720.9 L829.3,718.5 L830.9,716.0 L832.5,713.5 L834.1,711.0 L835.7,708.5 M844.7,693.9 L846.3,691.2 L847.9,688.6 L849.5,685.9 L851.1,683.3 L852.7,680.6 L854.3,677.9 L855.9,675.2 L857.5,672.4 L859.0,669.7 L860.6,667.0 L862.2,664.2 M871.3,648.4 L872.9,645.6 L874.4,642.8 L876.0,640.0 L877.6,637.1 L879.2,634.3 L880.8,631.5 L882.4,628.7 L884.0,625.9 L885.6,623.0 L887.2,620.2 L888.8,617.4 M897.8,601.6 L899.4,598.8 L901.0,596.1 L902.6,593.3 L904.2,590.6 L905.7,587.9 L907.3,585.2 L908.9,582.6 L910.5,579.9 L912.1,577.3 L913.7,574.7 L915.3,572.1 M924.3,557.9 L925.9,555.5 L927.5,553.1 L929.1,550.8 L930.7,548.5 L932.3,546.2 L933.9,544.0 L935.5,541.8 L937.0,539.7 L938.6,537.6 L940.2,535.5 L941.8,533.5 M950.9,523.1 L952.4,521.4 L954.0,519.8 L955.6,518.3 L957.2,516.8 L958.8,515.3 L960.4,514.0 L962.0,512.7 L963.6,511.4 L965.2,510.3 L966.8,509.2 L968.4,508.1 M977.4,503.5 L979.0,503.0 L980.6,502.5 L982.2,502.1 L983.7,501.7 L985.3,501.5 L986.9,501.3 L988.5,501.2 L990.1,501.1 L991.7,501.2 L993.3,501.3 L994.9,501.5 M1003.9,503.9 L1005.5,504.6 L1007.1,505.4 L1008.7,506.2 L1010.3,507.1 L1011.9,508.0 L1013.5,509.1 L1015.0,510.2 L1016.6,511.3 L1018.2,512.5 L1019.8,513.8 L1021.4,515.2 M1030.4,524.1 L1032.0,525.9 L1033.6,527.7 L1035.2,529.6 L1036.8,531.6 L1038.4,533.6 L1040.0,535.6 L1041.6,537.7 L1043.2,539.9 L1044.8,542.1 L1046.3,544.3 L1047.9,546.6 M1057.0,560.5 L1058.6,563.1 L1060.2,565.7 L1061.7,568.3 L1063.3,571.0 L1064.9,573.7 L1066.5,576.4 L1068.1,579.2 L1069.7,582.0 L1071.3,584.8 L1072.9,587.7 L1074.5,590.6 M1083.5,607.3 L1085.1,610.3 L1086.7,613.3 L1088.3,616.4 L1089.9,619.4 L1091.5,622.5 L1093.0,625.6 L1094.6,628.7 L1096.2,631.7 L1097.8,634.8 L1099.4,638.0 L1101.0,641.1 M1110.0,658.8 L1111.6,661.9 L1113.2,665.1 L1114.8,668.2 L1116.4,671.3 L1118.0,674.4 L1119.6,677.6 L1121.2,680.7 L1122.8,683.8 L1124.3,686.9 L1125.9,690.0 L1127.5,693.0 M1136.6,710.4 L1138.2,713.4 L1139.7,716.4 L1141.3,719.4 L1142.9,722.3 L1144.5,725.3 L1146.1,728.2 L1147.7,731.2 L1149.3,734.1 L1150.9,737.0 L1152.5,739.9 L1154.1,742.7 M1163.1,758.6 L1164.7,761.4 L1166.3,764.1 L1167.9,766.8 L1169.5,769.5 L1171.0,772.1 L1172.6,774.8 L1174.2,777.4 L1175.8,780.0 L1177.4,782.6 L1179.0,785.1 L1180.6,787.6 M1189.6,801.6 L1191.2,803.9 L1192.8,806.3 L1194.4,808.6 L1196.0,810.9 L1197.6,813.2 L1199.2,815.5 L1200.8,817.7 L1202.3,819.9 L1203.9,822.1 L1205.5,824.3 L1207.1,826.4 M1216.2,838.1 L1217.7,840.1 L1219.3,842.1 L1220.9,844.0 L1222.5,845.9 L1224.1,847.8 L1225.7,849.7 L1227.3,851.5 L1228.9,853.3 L1230.5,855.1 L1232.1,856.9 L1233.7,858.6 M1242.7,868.1 L1244.3,869.7 L1245.9,871.3 L1247.5,872.8 L1249.0,874.4 L1250.6,875.9 L1252.2,877.4 L1253.8,878.8 L1255.4,880.3 L1257.0,881.7 L1258.6,883.1 L1260.2,884.5 M1269.2,891.9 L1270.8,893.2 L1272.4,894.4 L1274.0,895.6 L1275.6,896.8 L1277.2,898.0 L1278.8,899.2 L1280.3,900.3 L1281.9,901.4 L1283.5,902.5 L1285.1,903.6 L1286.7,904.7 M1295.7,910.4 L1297.3,911.4 L1298.9,912.3 L1300.5,913.2 L1302.1,914.1 L1303.7,915.0 L1305.3,915.9 L1306.9,916.8 L1308.5,917.6 L1310.1,918.5 L1311.6,919.3 L1313.2,920.1 M1322.3,924.4 L1323.9,925.2 L1325.5,925.9 L1327.0,926.6 L1328.6,927.2 L1330.2,927.9 L1331.8,928.6 L1333.4,929.2 L1335.0,929.9 L1336.6,930.5 L1338.2,931.1 L1339.8,931.7 M1348.8,935.0 L1350.4,935.5 L1352.0,936.1 L1353.6,936.6 L1355.2,937.1 L1356.8,937.6 L1358.3,938.1 L1359.9,938.6 L1361.5,939.1 L1363.1,939.5 L1364.7,940.0 L1366.3,940.5 M1375.3,942.9 L1376.9,943.3 L1378.5,943.7 L1380.1,944.1 L1381.7,944.5 L1383.3,944.9 L1384.9,945.3 L1386.5,945.6 L1388.1,946.0 L1389.6,946.3 L1391.2,946.7 L1392.8,947.0 M1401.9,948.9 L1403.5,949.2 L1405.0,949.5 L1406.6,949.8 L1408.2,950.1 L1409.8,950.4 L1411.4,950.7 L1413.0,951.0 L1414.6,951.2 L1416.2,951.5 L1417.8,951.8 L1419.4,952.0 M1428.4,953.5 L1430.0,953.7 L1431.6,953.9 L1433.2,954.2 L1434.8,954.4 L1436.3,954.6 L1437.9,954.8 L1439.5,955.1 L1441.1,955.3 L1442.7,955.5 L1444.3,955.7 L1445.9,955.9 M1454.9,957.0 L1456.5,957.2 L1458.1,957.4 L1459.7,957.6 L1461.3,957.7 L1462.9,957.9 L1464.5,958.1 L1466.1,958.3 L1467.6,958.4 L1469.2,958.6 L1470.8,958.8 L1472.4,958.9 M1481.5,959.8 L1483.0,960.0 L1484.6,960.1 L1486.2,960.2 L1487.8,960.4 L1489.4,960.5 L1491.0,960.7 L1492.6,960.8 L1494.2,960.9 L1495.8,961.1 L1497.4,961.2 L1499.0,961.3 M1508.0,962.1 L1509.6,962.2 L1511.2,962.3 L1512.8,962.4 L1514.3,962.5 L1515.9,962.6 L1517.5,962.8 L1519.1,962.9 L1520.7,963.0 L1522.3,963.1 L1523.9,963.2 L1525.5,963.3 M1534.5,963.9 L1536.1,964.0 L1537.7,964.1 L1539.3,964.2 L1540.9,964.3 L1542.5,964.4 L1544.1,964.5 L1545.6,964.6 L1547.2,964.6 L1548.8,964.7 L1550.4,964.8 L1552.0,964.9 M1561.0,965.4 L1562.6,965.5 L1564.2,965.6 L1565.8,965.6 L1567.4,965.7 L1569.0,965.8 L1570.6,965.9 L1572.2,965.9 L1573.8,966.0 L1575.4,966.1 L1576.9,966.2 L1578.5,966.2 M1587.6,966.6 L1589.1,966.7 L1590.7,966.8 L1592.2,966.8 L1593.8,966.9 L1595.3,967.0 L1596.9,967.0 L1598.4,967.1 L1600.0,967.2"/>
</g>
<g fill="none" stroke="#21733a" stroke-width="4" stroke-linecap="butt">
<path d="M700.0,895.8 L701.5,895.8 L703.0,895.8 M712.1,896.0 L713.7,896.0 L715.3,896.0 L716.9,896.0 L718.4,896.0 L720.0,896.1 L721.6,896.1 L723.2,896.1 L724.8,896.1 L726.4,896.2 L728.0,896.2 L729.6,896.2 M738.6,896.4 L740.2,896.4 L741.8,896.4 L743.4,896.4 L745.0,896.5 L746.6,896.5 L748.2,896.5 L749.7,896.5 L751.3,896.5 L752.9,896.6 L754.5,896.6 L756.1,896.6 M765.1,896.7 L766.7,896.7 L768.3,896.7 L769.9,896.7 L771.5,896.7 L773.1,896.8 L774.7,896.8 L776.3,896.8 L777.9,896.8 L779.5,896.8 L781.0,896.8 L782.6,896.8 M791.7,896.7 L793.3,896.7 L794.9,896.7 L796.4,896.7 L798.0,896.7 L799.6,896.6 L801.2,896.6 L802.8,896.6 L804.4,896.5 L806.0,896.5 L807.6,896.5 L809.2,896.4 M818.2,896.1 L819.8,896.0 L821.4,895.9 L823.0,895.8 L824.6,895.7 L826.2,895.6 L827.7,895.5 L829.3,895.4 L830.9,895.3 L832.5,895.2 L834.1,895.0 L835.7,894.9 M844.7,893.9 L846.3,893.7 L847.9,893.5 L849.5,893.3 L851.1,893.1 L852.7,892.9 L854.3,892.6 L855.9,892.4 L857.5,892.1 L859.0,891.8 L860.6,891.5 L862.2,891.2 M871.3,889.2 L872.9,888.8 L874.4,888.4 L876.0,888.0 L877.6,887.6 L879.2,887.1 L880.8,886.6 L882.4,886.1 L884.0,885.6 L885.6,885.1 L887.2,884.5 L888.8,883.9 M897.8,880.3 L899.4,879.6 L901.0,878.8 L902.6,878.1 L904.2,877.3 L905.7,876.5 L907.3,875.6 L908.9,874.8 L910.5,873.9 L912.1,873.0 L913.7,872.0 L915.3,871.0 M924.3,864.9 L925.9,863.7 L927.5,862.5 L929.1,861.3 L930.7,860.0 L932.3,858.7 L933.9,857.3 L935.5,855.9 L937.0,854.5 L938.6,853.0 L940.2,851.5 L941.8,850.0 M950.9,840.5 L952.4,838.7 L954.0,836.9 L955.6,835.0 L957.2,833.0 L958.8,831.1 L960.4,829.0 L962.0,827.0 L963.6,824.9 L965.2,822.7 L966.8,820.5 L968.4,818.2 M977.4,804.5 L979.0,802.0 L980.6,799.3 L982.2,796.7 L983.7,793.9 L985.3,791.1 L986.9,788.3 L988.5,785.4 L990.1,782.5 L991.7,779.5 L993.3,776.5 L994.9,773.4 M1003.9,754.9 L1005.5,751.5 L1007.1,748.0 L1008.7,744.5 L1010.3,740.9 L1011.9,737.2 L1013.5,733.6 L1015.0,729.8 L1016.6,726.0 L1018.2,722.2 L1019.8,718.3 L1021.4,714.3 M1030.4,691.1 L1032.0,686.8 L1033.6,682.5 L1035.2,678.1 L1036.8,673.7 L1038.4,669.3 L1040.0,664.8 L1041.6,660.3 L1043.2,655.7 L1044.8,651.1 L1046.3,646.4 L1047.9,641.7 M1057.0,614.4 L1058.6,609.5 L1060.2,604.6 L1061.7,599.6 L1063.3,594.6 L1064.9,589.6 L1066.5,584.5 L1068.1,579.4 L1069.7,574.3 L1071.3,569.2 L1072.9,564.1 L1074.5,558.9 M1083.5,529.4 L1085.1,524.1 L1086.7,518.9 L1088.3,513.6 L1089.9,508.4 L1091.5,503.2 L1093.0,497.9 L1094.6,492.7 L1096.2,487.5 L1097.8,482.3 L1099.4,477.1 L1101.0,471.9 M1110.0,442.7 L1111.6,437.7 L1113.2,432.7 L1114.8,427.7 L1116.4,422.7 L1118.0,417.8 L1119.6,412.9 L1121.2,408.0 L1122.8,403.2 L1124.3,398.5 L1125.9,393.8 L1127.5,389.1 M1136.6,363.6 L1138.2,359.3 L1139.7,355.1 L1141.3,350.9 L1142.9,346.8 L1144.5,342.8 L1146.1,338.8 L1147.7,334.9 L1149.3,331.1 L1150.9,327.4 L1152.5,323.8 L1154.1,320.2 M1163.1,301.6 L1164.7,298.6 L1166.3,295.7 L1167.9,292.9 L1169.5,290.2 L1171.0,287.7 L1172.6,285.2 L1174.2,282.8 L1175.8,280.5 L1177.4,278.3 L1179.0,276.2 L1180.6,274.3 M1189.6,265.1 L1191.2,263.9 L1192.8,262.8 L1194.4,261.8 L1196.0,260.9 L1197.6,260.1 L1199.2,259.5 L1200.8,258.9 L1202.3,258.5 L1203.9,258.2 L1205.5,258.0 L1207.1,257.9 M1216.2,259.8 L1217.7,260.5 L1219.3,261.4 L1220.9,262.3 L1222.5,263.4 L1224.1,264.6 L1225.7,266.0 L1227.3,267.4 L1228.9,269.0 L1230.5,270.7 L1232.1,272.5 L1233.7,274.4 M1242.7,287.4 L1244.3,290.1 L1245.9,292.8 L1247.5,295.7 L1249.0,298.7 L1250.6,301.8 L1252.2,305.0 L1253.8,308.3 L1255.4,311.6 L1257.0,315.1 L1258.6,318.7 L1260.2,322.4 M1269.2,344.9 L1270.8,349.1 L1272.4,353.5 L1274.0,357.9 L1275.6,362.3 L1277.2,366.9 L1278.8,371.5 L1280.3,376.2 L1281.9,381.0 L1283.5,385.8 L1285.1,390.7 L1286.7,395.6 M1295.7,424.7 L1297.3,430.0 L1298.9,435.4 L1300.5,440.8 L1302.1,446.2 L1303.7,451.6 L1305.3,457.1 L1306.9,462.6 L1308.5,468.2 L1310.1,473.8 L1311.6,479.4 L1313.2,485.0 M1322.3,517.2 L1323.9,523.0 L1325.5,528.7 L1327.0,534.4 L1328.6,540.2 L1330.2,545.9 L1331.8,551.6 L1333.4,557.4 L1335.0,563.1 L1336.6,568.8 L1338.2,574.5 L1339.8,580.2 M1348.8,612.3 L1350.4,617.9 L1352.0,623.5 L1353.6,629.0 L1355.2,634.5 L1356.8,640.0 L1358.3,645.4 L1359.9,650.8 L1361.5,656.2 L1363.1,661.6 L1364.7,666.9 L1366.3,672.2 M1375.3,701.4 L1376.9,706.4 L1378.5,711.3 L1380.1,716.3 L1381.7,721.1 L1383.3,725.9 L1384.9,730.7 L1386.5,735.4 L1388.1,740.1 L1389.6,744.7 L1391.2,749.3 L1392.8,753.8 M1401.9,778.5 L1403.5,782.7 L1405.0,786.8 L1406.6,790.8 L1408.2,794.8 L1409.8,798.8 L1411.4,802.7 L1413.0,806.5 L1414.6,810.3 L1416.2,814.0 L1417.8,817.7 L1419.4,821.3 M1428.4,840.8 L1430.0,844.0 L1431.6,847.2 L1433.2,850.3 L1434.8,853.4 L1436.3,856.5 L1437.9,859.4 L1439.5,862.3 L1441.1,865.2 L1442.7,868.0 L1444.3,870.8 L1445.9,873.5 M1454.9,887.9 L1456.5,890.3 L1458.1,892.6 L1459.7,894.9 L1461.3,897.1 L1462.9,899.3 L1464.5,901.4 L1466.1,903.5 L1467.6,905.6 L1469.2,907.6 L1470.8,909.5 L1472.4,911.4 M1481.5,921.5 L1483.0,923.1 L1484.6,924.7 L1486.2,926.3 L1487.8,927.8 L1489.4,929.3 L1491.0,930.7 L1492.6,932.1 L1494.2,933.5 L1495.8,934.8 L1497.4,936.1 L1499.0,937.4 M1508.0,944.0 L1509.6,945.1 L1511.2,946.1 L1512.8,947.1 L1514.3,948.1 L1515.9,949.1 L1517.5,950.0 L1519.1,950.9 L1520.7,951.8 L1522.3,952.6 L1523.9,953.4 L1525.5,954.2 M1534.5,958.4 L1536.1,959.0 L1537.7,959.7 L1539.3,960.3 L1540.9,960.9 L1542.5,961.4 L1544.1,962.0 L1545.6,962.6 L1547.2,963.1 L1548.8,963.6 L1550.4,964.1 L1552.0,964.6 M1561.0,967.0 L1562.6,967.4 L1564.2,967.8 L1565.8,968.1 L1567.4,968.5 L1569.0,968.8 L1570.6,969.1 L1572.2,969.4 L1573.8,969.7 L1575.4,970.0 L1576.9,970.3 L1578.5,970.6 M1587.6,972.0 L1589.2,972.2 L1590.8,972.4 L1592.3,972.6 L1593.9,972.8 L1595.5,973.0 L1597.1,973.2 L1598.7,973.3 L1600.3,973.5 L1601.9,973.7 L1603.5,973.8 L1605.1,974.0 M1614.1,974.7 L1615.7,974.8 L1617.3,974.9 L1618.9,975.0 L1620.5,975.1 L1622.1,975.2 L1623.6,975.3 L1625.2,975.4 L1626.8,975.5 L1628.4,975.6 L1630.0,975.7 L1631.6,975.7 M1640.6,976.1 L1642.2,976.2 L1643.8,976.2 L1645.4,976.3 L1647.0,976.4 L1648.6,976.4 L1650.2,976.4 L1651.8,976.5 L1653.4,976.5 L1654.9,976.6 L1656.5,976.6 L1658.1,976.7 M1667.2,976.9 L1668.8,976.9 L1670.3,976.9 L1671.9,976.9 L1673.5,977.0 L1675.1,977.0 L1676.7,977.0 L1678.3,977.0 L1679.9,977.1 L1681.5,977.1 L1683.1,977.1 L1684.7,977.1 M1693.7,977.2 L1695.3,977.2 L1696.8,977.2 L1698.4,977.3 L1700.0,977.3"/><path d="M430.0,883.9 L431.6,883.9 L433.1,883.8 L434.7,883.7 L436.2,883.7 L437.8,883.6 M446.8,883.3 L448.4,883.2 L450.0,883.2 L451.6,883.1 L453.1,883.0 L454.7,883.0 L456.3,882.9 L457.9,882.9 L459.5,882.8 L461.1,882.7 L462.7,882.7 L464.3,882.6 M473.3,882.2 L474.9,882.1 L476.5,882.1 L478.1,882.0 L479.7,881.9 L481.3,881.8 L482.9,881.8 L484.4,881.7 L486.0,881.6 L487.6,881.5 L489.2,881.5 L490.8,881.4 M499.8,880.9 L501.4,880.8 L503.0,880.8 L504.6,880.7 L506.2,880.6 L507.8,880.5 L509.4,880.4 L511.0,880.3 L512.6,880.2 L514.2,880.1 L515.7,880.0 L517.3,879.9 M526.4,879.4 L528.0,879.3 L529.6,879.2 L531.1,879.1 L532.7,879.0 L534.3,878.9 L535.9,878.8 L537.5,878.6 L539.1,878.5 L540.7,878.4 L542.3,878.3 L543.9,878.2 M552.9,877.5 L554.5,877.4 L556.1,877.2 L557.7,877.1 L559.3,877.0 L560.9,876.8 L562.4,876.7 L564.0,876.5 L565.6,876.4 L567.2,876.2 L568.8,876.1 L570.4,875.9 M579.4,875.0 L581.0,874.9 L582.6,874.7 L584.2,874.5 L585.8,874.3 L587.4,874.1 L589.0,874.0 L590.6,873.8 L592.2,873.6 L593.7,873.4 L595.3,873.2 L596.9,873.0 M606.0,871.7 L607.6,871.5 L609.1,871.3 L610.7,871.0 L612.3,870.8 L613.9,870.5 L615.5,870.3 L617.1,870.0 L618.7,869.7 L620.3,869.5 L621.9,869.2 L623.5,868.9 M632.5,867.2 L634.1,866.9 L635.7,866.5 L637.3,866.2 L638.9,865.8 L640.4,865.5 L642.0,865.1 L643.6,864.8 L645.2,864.4 L646.8,864.0 L648.4,863.6 L650.0,863.2 M659.0,860.8 L660.6,860.4 L662.2,859.9 L663.8,859.4 L665.4,858.9 L667.0,858.4 L668.6,857.9 L670.2,857.4 L671.7,856.9 L673.3,856.3 L674.9,855.8 L676.5,855.2 M685.5,851.8 L687.1,851.2 L688.7,850.5 L690.3,849.9 L691.9,849.2 L693.5,848.5 L695.1,847.8 L696.7,847.0 L698.3,846.3 L699.9,845.6 L701.5,844.8 L703.0,844.0 M712.1,839.3 L713.7,838.4 L715.3,837.5 L716.9,836.6 L718.4,835.6 L720.0,834.7 L721.6,833.7 L723.2,832.7 L724.8,831.7 L726.4,830.7 L728.0,829.6 L729.6,828.6 M738.6,822.2 L740.2,821.0 L741.8,819.8 L743.4,818.5 L745.0,817.3 L746.6,816.0 L748.2,814.7 L749.7,813.4 L751.3,812.0 L752.9,810.7 L754.5,809.3 L756.1,807.9 M765.1,799.5 L766.7,797.9 L768.3,796.4 L769.9,794.8 L771.5,793.1 L773.1,791.5 L774.7,789.8 L776.3,788.1 L777.9,786.4 L779.5,784.7 L781.0,782.9 L782.6,781.1 M791.7,770.6 L793.3,768.6 L794.9,766.6 L796.4,764.7 L798.0,762.6 L799.6,760.6 L801.2,758.5 L802.8,756.5 L804.4,754.4 L806.0,752.2 L807.6,750.1 L809.2,747.9 M818.2,735.2 L819.8,732.8 L821.4,730.5 L823.0,728.1 L824.6,725.7 L826.2,723.3 L827.7,720.9 L829.3,718.5 L830.9,716.0 L832.5,713.5 L834.1,711.0 L835.7,708.5 M844.7,693.9 L846.3,691.2 L847.9,688.6 L849.5,685.9 L851.1,683.3 L852.7,680.6 L854.3,677.9 L855.9,675.2 L857.5,672.4 L859.0,669.7 L860.6,667.0 L862.2,664.2 M871.3,648.4 L872.9,645.6 L874.4,642.8 L876.0,640.0 L877.6,637.1 L879.2,634.3 L880.8,631.5 L882.4,628.7 L884.0,625.9 L885.6,623.0 L887.2,620.2 L888.8,617.4 M897.8,601.6 L899.4,598.8 L901.0,596.1 L902.6,593.3 L904.2,590.6 L905.7,587.9 L907.3,585.2 L908.9,582.6 L910.5,579.9 L912.1,577.3 L913.7,574.7 L915.3,572.1 M924.3,557.9 L925.9,555.5 L927.5,553.1 L929.1,550.8 L930.7,548.5 L932.3,546.2 L933.9,544.0 L935.5,541.8 L937.0,539.7 L938.6,537.6 L940.2,535.5 L941.8,533.5 M950.9,523.1 L952.4,521.4 L954.0,519.8 L955.6,518.3 L957.2,516.8 L958.8,515.3 L960.4,514.0 L962.0,512.7 L963.6,511.4 L965.2,510.3 L966.8,509.2 L968.4,508.1 M977.4,503.5 L979.0,503.0 L980.6,502.5 L982.2,502.1 L983.7,501.7 L985.3,501.5 L986.9,501.3 L988.5,501.2 L990.1,501.1 L991.7,501.2 L993.3,501.3 L994.9,501.5 M1003.9,503.9 L1005.5,504.6 L1007.1,505.4 L1008.7,506.2 L1010.3,507.1 L1011.9,508.0 L1013.5,509.1 L1015.0,510.2 L1016.6,511.3 L1018.2,512.5 L1019.8,513.8 L1021.4,515.2 M1030.4,524.1 L1032.0,525.9 L1033.6,527.7 L1035.2,529.6 L1036.8,531.6 L1038.4,533.6 L1040.0,535.6 L1041.6,537.7 L1043.2,539.9 L1044.8,542.1 L1046.3,544.3 L1047.9,546.6 M1057.0,560.5 L1058.6,563.1 L1060.2,565.7 L1061.7,568.3 L1063.3,571.0 L1064.9,573.7 L1066.5,576.4 L1068.1,579.2 L1069.7,582.0 L1071.3,584.8 L1072.9,587.7 L1074.5,590.6 M1083.5,607.3 L1085.1,610.3 L1086.7,613.3 L1088.3,616.4 L1089.9,619.4 L1091.5,622.5 L1093.0,625.6 L1094.6,628.7 L1096.2,631.7 L1097.8,634.8 L1099.4,638.0 L1101.0,641.1 M1110.0,658.8 L1111.6,661.9 L1113.2,665.1 L1114.8,668.2 L1116.4,671.3 L1118.0,674.4 L1119.6,677.6 L1121.2,680.7 L1122.8,683.8 L1124.3,686.9 L1125.9,690.0 L1127.5,693.0 M1136.6,710.4 L1138.2,713.4 L1139.7,716.4 L1141.3,719.4 L1142.9,722.3 L1144.5,725.3 L1146.1,728.2 L1147.7,731.2 L1149.3,734.1 L1150.9,737.0 L1152.5,739.9 L1154.1,742.7 M1163.1,758.6 L1164.7,761.4 L1166.3,764.1 L1167.9,766.8 L1169.5,769.5 L1171.0,772.1 L1172.6,774.8 L1174.2,777.4 L1175.8,780.0 L1177.4,782.6 L1179.0,785.1 L1180.6,787.6 M1189.6,801.6 L1191.2,803.9 L1192.8,806.3 L1194.4,808.6 L1196.0,810.9 L1197.6,813.2 L1199.2,815.5 L1200.8,817.7 L1202.3,819.9 L1203.9,822.1 L1205.5,824.3 L1207.1,826.4 M1216.2,838.1 L1217.7,840.1 L1219.3,842.1 L1220.9,844.0 L1222.5,845.9 L1224.1,847.8 L1225.7,849.7 L1227.3,851.5 L1228.9,853.3 L1230.5,855.1 L1232.1,856.9 L1233.7,858.6 M1242.7,868.1 L1244.3,869.7 L1245.9,871.3 L1247.5,872.8 L1249.0,874.4 L1250.6,875.9 L1252.2,877.4 L1253.8,878.8 L1255.4,880.3 L1257.0,881.7 L1258.6,883.1 L1260.2,884.5 M1269.2,891.9 L1270.8,893.2 L1272.4,894.4 L1274.0,895.6 L1275.6,896.8 L1277.2,898.0 L1278.8,899.2 L1280.3,900.3 L1281.9,901.4 L1283.5,902.5 L1285.1,903.6 L1286.7,904.7 M1295.7,910.4 L1297.3,911.4 L1298.9,912.3 L1300.5,913.2 L1302.1,914.1 L1303.7,915.0 L1305.3,915.9 L1306.9,916.8 L1308.5,917.6 L1310.1,918.5 L1311.6,919.3 L1313.2,920.1 M1322.3,924.4 L1323.9,925.2 L1325.5,925.9 L1327.0,926.6 L1328.6,927.2 L1330.2,927.9 L1331.8,928.6 L1333.4,929.2 L1335.0,929.9 L1336.6,930.5 L1338.2,931.1 L1339.8,931.7 M1348.8,935.0 L1350.4,935.5 L1352.0,936.1 L1353.6,936.6 L1355.2,937.1 L1356.8,937.6 L1358.3,938.1 L1359.9,938.6 L1361.5,939.1 L1363.1,939.5 L1364.7,940.0 L1366.3,940.5 M1375.3,942.9 L1376.9,943.3 L1378.5,943.7 L1380.1,944.1 L1381.7,944.5 L1383.3,944.9 L1384.9,945.3 L1386.5,945.6 L1388.1,946.0 L1389.6,946.3 L1391.2,946.7 L1392.8,947.0 M1401.9,948.9 L1403.5,949.2 L1405.0,949.5 L1406.6,949.8 L1408.2,950.1 L1409.8,950.4 L1411.4,950.7 L1413.0,951.0 L1414.6,951.2 L1416.2,951.5 L1417.8,951.8 L1419.4,952.0 M1428.4,953.5 L1430.0,953.7 L1431.6,953.9 L1433.2,954.2 L1434.8,954.4 L1436.3,954.6 L1437.9,954.8 L1439.5,955.1 L1441.1,955.3 L1442.7,955.5 L1444.3,955.7 L1445.9,955.9 M1454.9,957.0 L1456.5,957.2 L1458.1,957.4 L1459.7,957.6 L1461.3,957.7 L1462.9,957.9 L1464.5,958.1 L1466.1,958.3 L1467.6,958.4 L1469.2,958.6 L1470.8,958.8 L1472.4,958.9 M1481.5,959.8 L1483.0,960.0 L1484.6,960.1 L1486.2,960.2 L1487.8,960.4 L1489.4,960.5 L1491.0,960.7 L1492.6,960.8 L1494.2,960.9 L1495.8,961.1 L1497.4,961.2 L1499.0,961.3 M1508.0,962.1 L1509.6,962.2 L1511.2,962.3 L1512.8,962.4 L1514.3,962.5 L1515.9,962.6 L1517.5,962.8 L1519.1,962.9 L1520.7,963.0 L1522.3,963.1 L1523.9,963.2 L1525.5,963.3 M1534.5,963.9 L1536.1,964.0 L1537.7,964.1 L1539.3,964.2 L1540.9,964.3 L1542.5,964.4 L1544.1,964.5 L1545.6,964.6 L1547.2,964.6 L1548.8,964.7 L1550.4,964.8 L1552.0,964.9 M1561.0,965.4 L1562.6,965.5 L1564.2,965.6 L1565.8,965.6 L1567.4,965.7 L1569.0,965.8 L1570.6,965.9 L1572.2,965.9 L1573.8,966.0 L1575.4,966.1 L1576.9,966.2 L1578.5,966.2 M1587.6,966.6 L1589.1,966.7 L1590.7,966.8 L1592.2,966.8 L1593.8,966.9 L1595.3,967.0 L1596.9,967.0 L1598.4,967.1 L1600.0,967.2"/><path d="M420.3,888.4 L421.8,888.3 L423.4,888.2 L425.0,888.2 L426.6,888.1 L428.2,888.0 L429.8,887.9 L431.4,887.8 L433.0,887.7 L434.6,887.6 L436.2,887.5 L437.8,887.5 M446.8,886.9 L448.4,886.8 L450.0,886.7 L451.6,886.5 L453.1,886.4 L454.7,886.3 L456.3,886.2 L457.9,886.1 L459.5,885.9 L461.1,885.8 L462.7,885.7 L464.3,885.5 M473.3,884.7 L474.9,884.6 L476.5,884.4 L478.1,884.2 L479.7,884.1 L481.3,883.9 L482.9,883.7 L484.4,883.6 L486.0,883.4 L487.6,883.2 L489.2,883.0 L490.8,882.8 M499.8,881.7 L501.4,881.5 L503.0,881.2 L504.6,881.0 L506.2,880.8 L507.8,880.5 L509.4,880.3 L511.0,880.1 L512.6,879.8 L514.2,879.6 L515.7,879.3 L517.3,879.0 M526.4,877.5 L528.0,877.2 L529.6,876.9 L531.1,876.5 L532.7,876.2 L534.3,875.9 L535.9,875.6 L537.5,875.3 L539.1,874.9 L540.7,874.6 L542.3,874.2 L543.9,873.9 M552.9,871.8 L554.5,871.4 L556.1,871.0 L557.7,870.6 L559.3,870.1 L560.9,869.7 L562.4,869.3 L564.0,868.9 L565.6,868.4 L567.2,868.0 L568.8,867.5 L570.4,867.1 M579.4,864.3 L581.0,863.8 L582.6,863.3 L584.2,862.8 L585.8,862.2 L587.4,861.7 L589.0,861.1 L590.6,860.6 L592.2,860.0 L593.7,859.5 L595.3,858.9 L596.9,858.3 M606.0,854.9 L607.6,854.2 L609.1,853.6 L610.7,852.9 L612.3,852.3 L613.9,851.6 L615.5,851.0 L617.1,850.3 L618.7,849.6 L620.3,848.9 L621.9,848.2 L623.5,847.5 M632.5,843.4 L634.1,842.6 L635.7,841.8 L637.3,841.1 L638.9,840.3 L640.4,839.5 L642.0,838.7 L643.6,837.9 L645.2,837.1 L646.8,836.3 L648.4,835.5 L650.0,834.7 M659.0,829.9 L660.6,829.1 L662.2,828.2 L663.8,827.3 L665.4,826.5 L667.0,825.6 L668.6,824.7 L670.2,823.8 L671.7,822.9 L673.3,822.0 L674.9,821.1 L676.5,820.2 M685.5,814.9 L687.1,814.0 L688.7,813.1 L690.3,812.1 L691.9,811.2 L693.5,810.2 L695.1,809.3 L696.7,808.3 L698.3,807.4 L699.9,806.4 L701.5,805.5 L703.0,804.5 M712.1,799.0 L713.7,798.1 L715.3,797.1 L716.9,796.2 L718.4,795.2 L720.0,794.2 L721.6,793.3 L723.2,792.3 L724.8,791.4 L726.4,790.4 L728.0,789.5 L729.6,788.5 M738.6,783.2 L740.2,782.3 L741.8,781.4 L743.4,780.5 L745.0,779.6 L746.6,778.7 L748.2,777.8 L749.7,776.9 L751.3,776.0 L752.9,775.1 L754.5,774.3 L756.1,773.4 M765.1,768.7 L766.7,767.9 L768.3,767.1 L769.9,766.4 L771.5,765.6 L773.1,764.8 L774.7,764.1 L776.3,763.4 L777.9,762.7 L779.5,761.9 L781.0,761.3 L782.6,760.6 M791.7,757.0 L793.3,756.4 L794.9,755.8 L796.4,755.3 L798.0,754.8 L799.6,754.2 L801.2,753.7 L802.8,753.2 L804.4,752.8 L806.0,752.3 L807.6,751.9 L809.2,751.5 M818.2,749.5 L819.8,749.2 L821.4,749.0 L823.0,748.7 L824.6,748.5 L826.2,748.3 L827.7,748.1 L829.3,748.0 L830.9,747.8 L832.5,747.7 L834.1,747.6 L835.7,747.5 M844.7,747.5 L846.3,747.6 L847.9,747.7 L849.5,747.8 L851.1,747.9 L852.7,748.1 L854.3,748.3 L855.9,748.5 L857.5,748.8 L859.0,749.0 L860.6,749.3 L862.2,749.7 M871.3,752.0 L872.9,752.5 L874.4,753.0 L876.0,753.5 L877.6,754.1 L879.2,754.7 L880.8,755.3 L882.4,755.9 L884.0,756.6 L885.6,757.3 L887.2,758.0 L888.8,758.7 M897.8,763.2 L899.4,764.1 L901.0,764.9 L902.6,765.8 L904.2,766.7 L905.7,767.7 L907.3,768.6 L908.9,769.6 L910.5,770.6 L912.1,771.6 L913.7,772.6 L915.3,773.6 M924.3,779.7 L925.9,780.8 L927.5,781.9 L929.1,783.1 L930.7,784.2 L932.3,785.4 L933.9,786.6 L935.5,787.7 L937.0,788.9 L938.6,790.1 L940.2,791.3 L941.8,792.5 M950.9,799.6 L952.4,800.8 L954.0,802.1 L955.6,803.3 L957.2,804.6 L958.8,805.9 L960.4,807.2 L962.0,808.4 L963.6,809.7 L965.2,811.0 L966.8,812.3 L968.4,813.6 M977.4,820.9 L979.0,822.2 L980.6,823.5 L982.2,824.8 L983.7,826.1 L985.3,827.4 L986.9,828.7 L988.5,830.0 L990.1,831.2 L991.7,832.5 L993.3,833.8 L994.9,835.1 M1003.9,842.2 L1005.5,843.5 L1007.1,844.7 L1008.7,846.0 L1010.3,847.2 L1011.9,848.4 L1013.5,849.6 L1015.0,850.9 L1016.6,852.1 L1018.2,853.3 L1019.8,854.5 L1021.4,855.7 M1030.4,862.3 L1032.0,863.5 L1033.6,864.6 L1035.2,865.7 L1036.8,866.9 L1038.4,868.0 L1040.0,869.1 L1041.6,870.2 L1043.2,871.3 L1044.8,872.4 L1046.3,873.4 L1047.9,874.5 M1057.0,880.4 L1058.6,881.4 L1060.2,882.4 L1061.7,883.4 L1063.3,884.4 L1064.9,885.4 L1066.5,886.3 L1068.1,887.3 L1069.7,888.3 L1071.3,889.2 L1072.9,890.1 L1074.5,891.1 M1083.5,896.2 L1085.1,897.0 L1086.7,897.9 L1088.3,898.7 L1089.9,899.6 L1091.5,900.4 L1093.0,901.2 L1094.6,902.0 L1096.2,902.9 L1097.8,903.6 L1099.4,904.4 L1101.0,905.2 M1110.0,909.5 L1111.6,910.2 L1113.2,911.0 L1114.8,911.7 L1116.4,912.4 L1118.0,913.1 L1119.6,913.8 L1121.2,914.4 L1122.8,915.1 L1124.3,915.8 L1125.9,916.4 L1127.5,917.1 M1136.6,920.6 L1138.2,921.3 L1139.7,921.8 L1141.3,922.4 L1142.9,923.0 L1144.5,923.6 L1146.1,924.2 L1147.7,924.7 L1149.3,925.3 L1150.9,925.8 L1152.5,926.4 L1154.1,926.9 M1163.1,929.9 L1164.7,930.4 L1166.3,930.9 L1167.9,931.4 L1169.5,931.8 L1171.0,932.3 L1172.6,932.8 L1174.2,933.3 L1175.8,933.7 L1177.4,934.2 L1179.0,934.6 L1180.6,935.1 M1189.6,937.5 L1191.2,937.9 L1192.8,938.3 L1194.4,938.7 L1196.0,939.1 L1197.6,939.5 L1199.2,939.9 L1200.8,940.3 L1202.3,940.7 L1203.9,941.1 L1205.5,941.5 L1207.1,941.8 M1216.2,943.9 L1217.7,944.2 L1219.3,944.6 L1220.9,944.9 L1222.5,945.3 L1224.1,945.6 L1225.7,945.9 L1227.3,946.3 L1228.9,946.6 L1230.5,946.9 L1232.1,947.2 L1233.7,947.5 M1242.7,949.3 L1244.3,949.6 L1245.9,949.8 L1247.5,950.1 L1249.0,950.4 L1250.6,950.7 L1252.2,951.0 L1253.8,951.3 L1255.4,951.5 L1257.0,951.8 L1258.6,952.1 L1260.2,952.4 M1269.2,953.8 L1270.8,954.1 L1272.4,954.3 L1274.0,954.6 L1275.6,954.8 L1277.2,955.1 L1278.8,955.3 L1280.3,955.5 L1281.9,955.8 L1283.5,956.0 L1285.1,956.3 L1286.7,956.5 M1295.7,957.7 L1297.3,958.0 L1298.9,958.2 L1300.5,958.4 L1302.1,958.6 L1303.7,958.8 L1305.3,959.0 L1306.9,959.2 L1308.5,959.4 L1310.1,959.6 L1311.6,959.8 L1313.2,960.0"/>
</g>
<path d="M566.0,894.6 L567.6,894.6 L569.3,894.7 L571.0,894.7 L572.6,894.7 L574.2,894.7 L575.9,894.7 M582.4,894.7 L584.0,894.7 L585.5,894.7 L587.0,894.7 L588.6,894.7 L590.1,894.7 L591.7,894.7 L593.2,894.8 L594.7,894.8 L596.3,894.8 L597.8,894.8 L599.4,894.8 L600.9,894.8 L602.4,894.8 M609.0,894.8 L610.5,894.9 L612.0,894.9 L613.6,894.9 L615.1,894.9 L616.7,894.9 L618.2,894.9 L619.7,894.9 L621.3,894.9 L622.8,894.9 L624.3,895.0 L625.9,895.0 L627.4,895.0 L629.0,895.0 M635.5,895.0 L637.0,895.1 L638.6,895.1 L640.1,895.1 L641.6,895.1 L643.2,895.1 L644.7,895.1 L646.3,895.1 L647.8,895.2 L649.3,895.2 L650.9,895.2 L652.4,895.2 L654.0,895.2 L655.5,895.2 M662.0,895.3 L663.6,895.3 L665.1,895.3 L666.6,895.4 L668.2,895.4 L669.7,895.4 L671.3,895.4 L672.8,895.4 L674.3,895.5 L675.9,895.5 L677.4,895.5 L678.9,895.5 L680.5,895.6 L682.0,895.6 M688.5,895.7 L690.1,895.7 L691.6,895.7 L693.2,895.8 L694.7,895.8 L696.2,895.8 L697.8,895.8 L699.3,895.9 L700.9,895.9 L702.4,895.9 L703.9,895.9 L705.5,896.0 L707.0,896.0 L708.5,896.0 M715.1,896.2 L716.6,896.2 L718.2,896.2 L719.7,896.3 L721.2,896.3 L722.8,896.3 L724.3,896.4 L725.8,896.4 L727.4,896.4 L728.9,896.5 L730.5,896.5 L732.0,896.6 L733.5,896.6 L735.1,896.6 M741.6,896.8 L743.1,896.8 L744.7,896.9 L746.2,896.9 L747.8,897.0 L749.3,897.0 L750.8,897.1 L752.4,897.1 L753.9,897.2 L755.5,897.2 L757.0,897.3 L758.5,897.3 L760.1,897.4 L761.6,897.4 M768.1,897.6 L769.7,897.7 L771.2,897.7 L772.8,897.8 L774.3,897.8 L775.8,897.9 L777.4,898.0 L778.9,898.0 L780.4,898.1 L782.0,898.1 L783.5,898.2 L785.1,898.3 L786.6,898.3 L788.1,898.4 M794.7,898.7 L796.2,898.7 L797.7,898.8 L799.3,898.9 L800.8,898.9 L802.4,899.0 L803.9,899.1 L805.4,899.2 L807.0,899.2 L808.5,899.3 L810.1,899.4 L811.6,899.5 L813.1,899.5 L814.7,899.6 M821.2,900.0 L822.7,900.0 L824.3,900.1 L825.8,900.2 L827.4,900.3 L828.9,900.4 L830.4,900.5 L832.0,900.6 L833.5,900.7 L835.0,900.7 L836.6,900.8 L838.1,900.9 L839.7,901.0 L841.2,901.1 M847.7,901.5 L849.3,901.6 L850.8,901.7 L852.3,901.8 L853.9,901.9 L855.4,902.0 L857.0,902.2 L858.5,902.3 L860.0,902.4 L861.6,902.5 L863.1,902.6 L864.7,902.7 L866.2,902.8 L867.7,902.9 M874.3,903.4 L875.8,903.5 L877.3,903.7 L878.9,903.8 L880.4,903.9 L882.0,904.0 L883.5,904.2 L885.0,904.3 L886.6,904.4 L888.1,904.5 L889.6,904.7 L891.2,904.8 L892.7,904.9 L894.3,905.1 M900.8,905.6 L902.3,905.8 L903.9,905.9 L905.4,906.1 L906.9,906.2 L908.5,906.4 L910.0,906.5 L911.6,906.7 L913.1,906.8 L914.6,906.9 L916.2,907.1 L917.7,907.3 L919.3,907.4 L920.8,907.6 M927.3,908.2 L928.9,908.4 L930.4,908.5 L931.9,908.7 L933.5,908.9 L935.0,909.0 L936.6,909.2 L938.1,909.4 L939.6,909.5 L941.2,909.7 L942.7,909.9 L944.2,910.1 L945.8,910.2 L947.3,910.4 M953.9,911.2 L955.4,911.3 L956.9,911.5 L958.5,911.7 L960.0,911.9 L961.5,912.1 L963.1,912.3 L964.6,912.4 L966.2,912.6 L967.7,912.8 L969.2,913.0 L970.8,913.2 L972.3,913.4 L973.9,913.6 M980.4,914.4 L981.9,914.6 L983.5,914.8 L985.0,915.0 L986.5,915.2 L988.1,915.4 L989.6,915.6 L991.1,915.9 L992.7,916.1 L994.2,916.3 L995.8,916.5 L997.3,916.7 L998.8,916.9 L1000.4,917.1 M1006.9,918.0 L1008.4,918.2 L1010.0,918.5 L1011.5,918.7 L1013.1,918.9 L1014.6,919.1 L1016.1,919.3 L1017.7,919.6 L1019.2,919.8 L1020.8,920.0 L1022.3,920.2 L1023.8,920.5 L1025.4,920.7 L1026.9,920.9 M1033.4,921.9 L1035.0,922.1 L1036.5,922.4 L1038.1,922.6 L1039.6,922.8 L1041.1,923.1 L1042.7,923.3 L1044.2,923.5 L1045.7,923.8 L1047.3,924.0 L1048.8,924.3 L1050.4,924.5 L1051.9,924.7 L1053.4,925.0 M1060.0,926.0 L1061.5,926.3 L1063.0,926.5 L1064.6,926.7 L1066.1,927.0 L1067.7,927.2 L1069.2,927.5 L1070.7,927.7 L1072.3,928.0 L1073.8,928.2 L1075.4,928.5 L1076.9,928.7 L1078.4,929.0 L1080.0,929.2 M1086.5,930.3 L1088.0,930.5 L1089.6,930.8 L1091.1,931.1 L1092.7,931.3 L1094.2,931.6 L1095.7,931.8 L1097.3,932.1 L1098.8,932.3 L1100.3,932.6 L1101.9,932.8 L1103.4,933.1 L1105.0,933.3 L1106.5,933.6 M1113.0,934.7 L1114.6,934.9 L1116.1,935.2 L1117.6,935.4 L1119.2,935.7 L1120.7,936.0 L1122.3,936.2 L1123.8,936.5 L1125.3,936.7 L1126.9,937.0 L1128.4,937.2 L1130.0,937.5 L1131.5,937.7 L1133.0,938.0 M1139.6,939.1 L1141.1,939.3 L1142.6,939.6 L1144.2,939.8 L1145.7,940.1 L1147.3,940.3 L1148.8,940.6 L1150.3,940.9 L1151.9,941.1 L1153.4,941.4 L1154.9,941.6 L1156.5,941.9 L1158.0,942.1 L1159.6,942.4 M1166.1,943.4 L1167.6,943.7 L1169.2,943.9 L1170.7,944.2 L1172.2,944.4 L1173.8,944.7 L1175.3,944.9 L1176.9,945.2 L1178.4,945.4 L1179.9,945.6 L1181.5,945.9 L1183.0,946.1 L1184.6,946.4 L1186.1,946.6 M1192.6,947.6 L1194.2,947.9 L1195.7,948.1 L1197.2,948.4 L1198.8,948.6 L1200.3,948.8 L1201.9,949.1 L1203.4,949.3 L1204.9,949.5 L1206.5,949.8 L1208.0,950.0 L1209.5,950.2 L1211.1,950.5 L1212.6,950.7 M1219.2,951.7 L1220.7,951.9 L1222.2,952.1 L1223.8,952.3 L1225.3,952.6 L1226.8,952.8 L1228.4,953.0 L1229.9,953.2 L1231.5,953.5 L1233.0,953.7 L1234.5,953.9 L1236.1,954.1 L1237.6,954.3 L1239.2,954.5 M1245.7,955.4 L1247.2,955.7 L1248.8,955.9 L1250.3,956.1 L1251.8,956.3 L1253.4,956.5 L1254.9,956.7 L1256.4,956.9 L1258.0,957.1 L1259.5,957.3 L1261.1,957.5 L1262.6,957.7 L1264.1,957.9 L1265.7,958.1 M1272.2,958.9 L1273.7,959.1 L1275.3,959.3 L1276.8,959.5 L1278.4,959.7 L1279.9,959.9 L1281.4,960.0 L1283.0,960.2 L1284.5,960.4 L1286.1,960.6 L1287.6,960.8 L1289.1,961.0 L1290.7,961.1 L1292.2,961.3 M1298.7,962.1 L1300.3,962.2 L1301.8,962.4 L1303.4,962.6 L1304.9,962.7 L1306.4,962.9 L1308.0,963.1 L1309.5,963.2 L1311.0,963.4 L1312.6,963.6 L1314.1,963.7 L1315.7,963.9 L1317.2,964.0 L1318.7,964.2 M1325.3,964.8 L1326.8,965.0 L1328.3,965.1 L1329.9,965.3 L1331.4,965.4 L1333.0,965.6 L1334.5,965.7 L1336.0,965.9 L1337.6,966.0 L1339.1,966.2 L1340.7,966.3 L1342.2,966.4 L1343.7,966.6 L1345.3,966.7 M1351.8,967.3 L1353.3,967.4 L1354.9,967.5 L1356.4,967.7 L1358.0,967.8 L1359.5,967.9 L1361.0,968.0 L1362.6,968.2 L1364.1,968.3 L1365.6,968.4 L1367.2,968.5 L1368.7,968.7 L1370.3,968.8 L1371.8,968.9 M1378.3,969.4 L1379.9,969.5 L1381.4,969.6 L1382.9,969.7 L1384.5,969.8 L1386.0,969.9 L1387.6,970.0 L1389.1,970.1 L1390.6,970.2 L1392.2,970.3 L1393.7,970.4 L1395.3,970.5 L1396.8,970.6 L1398.3,970.7 M1404.9,971.1 L1406.4,971.2 L1407.9,971.3 L1409.5,971.4 L1411.0,971.5 L1412.6,971.6 L1414.1,971.7 L1415.6,971.8 L1417.2,971.8 L1418.7,971.9 L1420.2,972.0 L1421.8,972.1 L1423.3,972.2 L1424.9,972.3 M1431.4,972.6 L1431.7,972.6 L1432.0,972.6" fill="none" stroke="#14244a" stroke-width="3"/>
<path d="M400.0,894.4 L401.5,894.4 L403.0,894.4 L404.6,894.4 L406.1,894.4 L407.6,894.4 L409.1,894.4 L410.6,894.4 L412.2,894.4 L413.7,894.4 L415.2,894.4 L416.7,894.4 M423.3,894.4 L424.8,894.4 L426.3,894.4 L427.9,894.4 L429.4,894.4 L430.9,894.4 L432.5,894.4 L434.0,894.4 L435.6,894.4 L437.1,894.4 L438.6,894.4 L440.2,894.4 L441.7,894.4 L443.3,894.4 M449.8,894.4 L451.3,894.4 L452.9,894.4 L454.4,894.5 L455.9,894.5 L457.5,894.5 L459.0,894.5 L460.5,894.5 L462.1,894.5 L463.6,894.5 L465.2,894.5 L466.7,894.5 L468.2,894.5 L469.8,894.5 M476.3,894.5 L477.8,894.5 L479.4,894.5 L480.9,894.5 L482.5,894.5 L484.0,894.5 L485.5,894.5 L487.1,894.5 L488.6,894.5 L490.2,894.5 L491.7,894.5 L493.2,894.5 L494.8,894.5 L496.3,894.5 M502.8,894.5 L504.4,894.5 L505.9,894.5 L507.5,894.5 L509.0,894.5 L510.5,894.5 L512.1,894.5 L513.6,894.5 L515.1,894.5 L516.7,894.5 L518.2,894.5 L519.8,894.5 L521.3,894.5 L522.8,894.5 M529.4,894.5 L530.9,894.5 L532.4,894.5 L534.0,894.6 L535.5,894.6 L537.1,894.6 L538.6,894.6 L540.1,894.6 L541.7,894.6 L543.2,894.6 L544.8,894.6 L546.3,894.6 L547.8,894.6 L549.4,894.6 M555.9,894.6 L557.6,894.6 L559.3,894.6 L561.0,894.6 L562.6,894.6 L564.3,894.6 L566.0,894.6 M1432.0,972.6 L1433.6,972.7 L1435.2,972.8 L1436.8,972.9 L1438.5,972.9 L1440.1,973.0 L1441.7,973.1 L1443.3,973.2 L1444.9,973.2 L1446.5,973.3 L1448.2,973.4 L1449.8,973.4 L1451.4,973.5 M1457.9,973.8 L1459.5,973.8 L1461.0,973.9 L1462.5,974.0 L1464.1,974.0 L1465.6,974.1 L1467.2,974.1 L1468.7,974.2 L1470.2,974.2 L1471.8,974.3 L1473.3,974.4 L1474.8,974.4 L1476.4,974.5 L1477.9,974.5 M1484.5,974.7 L1486.0,974.8 L1487.5,974.8 L1489.1,974.9 L1490.6,974.9 L1492.1,975.0 L1493.7,975.0 L1495.2,975.1 L1496.8,975.1 L1498.3,975.1 L1499.8,975.2 L1501.4,975.2 L1502.9,975.3 L1504.5,975.3 M1511.0,975.5 L1512.5,975.5 L1514.1,975.5 L1515.6,975.6 L1517.1,975.6 L1518.7,975.7 L1520.2,975.7 L1521.7,975.7 L1523.3,975.8 L1524.8,975.8 L1526.4,975.8 L1527.9,975.9 L1529.4,975.9 L1531.0,975.9 M1537.5,976.0 L1539.0,976.1 L1540.6,976.1 L1542.1,976.1 L1543.7,976.2 L1545.2,976.2 L1546.7,976.2 L1548.3,976.2 L1549.8,976.3 L1551.4,976.3 L1552.9,976.3 L1554.4,976.3 L1556.0,976.4 L1557.5,976.4 M1564.0,976.5 L1565.6,976.5 L1567.1,976.5 L1568.7,976.5 L1570.2,976.6 L1571.7,976.6 L1573.3,976.6 L1574.8,976.6 L1576.3,976.6 L1577.9,976.7 L1579.4,976.7 L1581.0,976.7 L1582.5,976.7 L1584.0,976.7 M1590.6,976.8 L1592.1,976.8 L1593.6,976.8 L1595.2,976.9 L1596.7,976.9 L1598.3,976.9 L1599.8,976.9 L1601.3,976.9 L1602.9,976.9 L1604.4,976.9 L1606.0,977.0 L1607.5,977.0 L1609.0,977.0 L1610.6,977.0 M1617.1,977.0 L1618.6,977.1 L1620.2,977.1 L1621.7,977.1 L1623.3,977.1 L1624.8,977.1 L1626.3,977.1 L1627.9,977.1 L1629.4,977.1 L1630.9,977.1 L1632.5,977.2 L1634.0,977.2 L1635.6,977.2 L1637.1,977.2 M1643.6,977.2 L1645.2,977.2 L1646.7,977.2 L1648.2,977.2 L1649.8,977.3 L1651.3,977.3 L1652.9,977.3 L1654.4,977.3 L1655.9,977.3 L1657.5,977.3 L1659.0,977.3 L1660.6,977.3 L1662.1,977.3 L1663.6,977.3 M1670.2,977.3 L1671.7,977.3 L1673.2,977.4 L1674.7,977.4 L1676.3,977.4 L1677.8,977.4 L1679.3,977.4 L1680.8,977.4 L1682.4,977.4 L1683.9,977.4 L1685.4,977.4 L1686.9,977.4 L1688.5,977.4 L1690.0,977.4" fill="none" stroke="#23773a" stroke-width="3.5"/>
<g fill="none" stroke="#3c3c3c" stroke-width="2.2"><circle cx="402.4" cy="890.9" r="5.4"/><circle cx="416.0" cy="884.1" r="5.4"/><circle cx="429.1" cy="887.2" r="5.4"/><circle cx="448.2" cy="881.5" r="5.4"/><circle cx="455.6" cy="882.4" r="5.4"/><circle cx="475.8" cy="878.2" r="5.4"/><circle cx="488.9" cy="876.1" r="5.4"/><circle cx="495.4" cy="876.8" r="5.4"/><circle cx="508.7" cy="874.7" r="5.4"/><circle cx="527.9" cy="867.3" r="5.4"/><circle cx="535.8" cy="864.9" r="5.4"/><circle cx="548.5" cy="863.2" r="5.4"/><circle cx="567.4" cy="858.0" r="5.4"/><circle cx="579.7" cy="847.1" r="5.4"/><circle cx="588.3" cy="843.8" r="5.4"/><circle cx="596.7" cy="837.8" r="5.4"/><circle cx="608.6" cy="837.5" r="5.4"/><circle cx="630.8" cy="821.8" r="5.4"/><circle cx="639.2" cy="815.1" r="5.4"/><circle cx="649.6" cy="798.1" r="5.4"/><circle cx="672.7" cy="797.9" r="5.4"/><circle cx="681.1" cy="771.3" r="5.4"/><circle cx="692.4" cy="753.4" r="5.4"/><circle cx="707.7" cy="738.6" r="5.4"/><circle cx="723.3" cy="722.1" r="5.4"/><circle cx="734.2" cy="703.5" r="5.4"/><circle cx="742.7" cy="687.1" r="5.4"/><circle cx="764.7" cy="664.8" r="5.4"/><circle cx="774.0" cy="643.4" r="5.4"/><circle cx="781.6" cy="636.6" r="5.4"/><circle cx="800.5" cy="600.1" r="5.4"/><circle cx="816.6" cy="574.4" r="5.4"/><circle cx="827.1" cy="558.4" r="5.4"/><circle cx="836.0" cy="543.3" r="5.4"/><circle cx="847.7" cy="527.7" r="5.4"/><circle cx="863.6" cy="491.0" r="5.4"/><circle cx="882.9" cy="468.5" r="5.4"/><circle cx="900.6" cy="423.1" r="5.4"/><circle cx="916.1" cy="394.5" r="5.4"/><circle cx="923.1" cy="394.1" r="5.4"/><circle cx="933.2" cy="370.4" r="5.4"/><circle cx="941.9" cy="358.0" r="5.4"/><circle cx="964.1" cy="313.7" r="5.4"/><circle cx="981.8" cy="280.6" r="5.4"/><circle cx="986.3" cy="279.0" r="5.4"/><circle cx="990.9" cy="278.5" r="5.4"/><circle cx="1018.3" cy="266.8" r="5.4"/><circle cx="1031.9" cy="227.7" r="5.4"/><circle cx="1048.2" cy="212.8" r="5.4"/><circle cx="1052.6" cy="215.2" r="5.4"/><circle cx="1067.6" cy="202.5" r="5.4"/><circle cx="1085.6" cy="175.2" r="5.4"/><circle cx="1092.7" cy="176.4" r="5.4"/><circle cx="1112.0" cy="148.5" r="5.4"/><circle cx="1125.0" cy="134.5" r="5.4"/><circle cx="1132.2" cy="131.6" r="5.4"/><circle cx="1138.9" cy="130.4" r="5.4"/><circle cx="1163.8" cy="98.2" r="5.4"/><circle cx="1178.6" cy="149.5" r="5.4"/><circle cx="1190.9" cy="103.1" r="5.4"/><circle cx="1198.5" cy="121.1" r="5.4"/><circle cx="1215.6" cy="121.4" r="5.4"/><circle cx="1225.6" cy="150.3" r="5.4"/><circle cx="1238.3" cy="187.5" r="5.4"/><circle cx="1257.5" cy="232.3" r="5.4"/><circle cx="1264.9" cy="260.3" r="5.4"/><circle cx="1270.6" cy="267.4" r="5.4"/><circle cx="1282.2" cy="307.6" r="5.4"/><circle cx="1297.9" cy="366.5" r="5.4"/><circle cx="1309.2" cy="410.9" r="5.4"/><circle cx="1333.9" cy="533.1" r="5.4"/><circle cx="1346.5" cy="582.3" r="5.4"/><circle cx="1363.5" cy="631.7" r="5.4"/><circle cx="1377.4" cy="686.7" r="5.4"/><circle cx="1384.3" cy="702.4" r="5.4"/><circle cx="1393.6" cy="722.7" r="5.4"/><circle cx="1410.8" cy="779.0" r="5.4"/><circle cx="1432.6" cy="836.2" r="5.4"/><circle cx="1443.9" cy="857.4" r="5.4"/><circle cx="1458.5" cy="880.8" r="5.4"/><circle cx="1473.5" cy="900.7" r="5.4"/><circle cx="1482.8" cy="902.4" r="5.4"/><circle cx="1499.6" cy="927.0" r="5.4"/><circle cx="1503.7" cy="927.8" r="5.4"/><circle cx="1522.4" cy="937.8" r="5.4"/><circle cx="1530.8" cy="947.4" r="5.4"/><circle cx="1549.3" cy="949.8" r="5.4"/><circle cx="1556.7" cy="954.2" r="5.4"/><circle cx="1575.2" cy="957.0" r="5.4"/><circle cx="1587.6" cy="959.8" r="5.4"/><circle cx="1596.5" cy="963.8" r="5.4"/><circle cx="1614.7" cy="964.0" r="5.4"/><circle cx="1623.1" cy="970.5" r="5.4"/><circle cx="1641.5" cy="966.7" r="5.4"/><circle cx="1649.6" cy="968.1" r="5.4"/><circle cx="1663.3" cy="974.2" r="5.4"/><circle cx="1680.8" cy="961.7" r="5.4"/><circle cx="436.5" cy="882.6" r="5.4"/><circle cx="462.9" cy="879.9" r="5.4"/><circle cx="662.6" cy="785.8" r="5.4"/><circle cx="713.9" cy="736.4" r="5.4"/><circle cx="791.1" cy="623.7" r="5.4"/><circle cx="808.8" cy="589.9" r="5.4"/><circle cx="952.8" cy="340.0" r="5.4"/><circle cx="1245.2" cy="197.8" r="5.4"/><circle cx="1326.5" cy="483.8" r="5.4"/><circle cx="1402.8" cy="761.4" r="5.4"/></g>
<path d="M385.0,888.6 L387.0,888.6 L389.0,888.5 L391.0,888.4 L393.0,888.3 L395.0,888.2 L397.0,888.1 L399.0,888.0 L401.0,887.9 L403.0,887.8 L405.0,887.7 L407.0,887.6 L409.0,887.5 L411.0,887.4 L413.0,887.3 L415.0,887.1 L417.0,887.0 L419.0,886.9 L421.0,886.8 L423.0,886.6 L425.0,886.5 L427.0,886.3 L429.0,886.2 L431.0,886.0 L433.0,885.9 L435.0,885.7 L437.0,885.6 L439.0,885.4 L441.0,885.2 L443.0,885.0 L445.0,884.8 L447.0,884.7 L449.0,884.5 L451.0,884.3 L453.0,884.1 L455.0,883.8 L457.0,883.6 L459.0,883.4 L461.0,883.2 L463.0,882.9 L465.0,882.7 L467.0,882.4 L469.0,882.2 L471.0,881.9 L473.0,881.6 L475.0,881.3 L477.0,881.0 L479.0,880.7 L481.0,880.4 L483.0,880.1 L485.0,879.8 L487.0,879.5 L489.0,879.1 L491.0,878.8 L493.0,878.4 L495.0,878.0 L497.0,877.6 L499.0,877.3 L501.0,876.9 L503.0,876.4 L505.0,876.0 L507.0,875.6 L509.0,875.1 L511.0,874.7 L513.0,874.2 L515.0,873.7 L517.0,873.3 L519.0,872.8 L521.0,872.2 L523.0,871.7 L525.0,871.2 L527.0,870.6 L529.0,870.1 L531.0,869.5 L533.0,868.9 L535.0,868.3 L537.0,867.6 L539.0,867.0 L541.0,866.4 L543.0,865.7 L545.0,865.0 L547.0,864.3 L549.0,863.6 L551.0,862.9 L553.0,862.1 L555.0,861.3 L557.0,860.6 L559.0,859.8 L561.0,859.0 L563.0,858.1 L565.0,857.3 L567.0,856.4 L569.0,855.5 L571.0,854.6 L573.0,853.7 L575.0,852.8 L577.0,851.8 L579.0,850.8 L581.0,849.8 L583.0,848.8 L585.0,847.8 L587.0,846.7 L589.0,845.6 L591.0,844.5 L593.0,843.4 L595.0,842.2 L597.0,841.1 L599.0,839.9 L601.0,838.7 L603.0,837.5 L605.0,836.2 L607.0,834.9 L609.0,833.6 L611.0,832.3 L613.0,831.0 L615.0,829.6 L617.0,828.2 L619.0,826.8 L621.0,825.4 L623.0,823.9 L625.0,822.4 L627.0,820.9 L629.0,819.4 L631.0,817.8 L633.0,816.3 L635.0,814.7 L637.0,813.0 L639.0,811.4 L641.0,809.7 L643.0,808.0 L645.0,806.3 L647.0,804.5 L649.0,802.7 L651.0,800.9 L653.0,799.1 L655.0,797.3 L657.0,795.4 L659.0,793.5 L661.0,791.6 L663.0,789.6 L665.0,787.6 L667.0,785.6 L669.0,783.6 L671.0,781.5 L673.0,779.5 L675.0,777.4 L677.0,775.2 L679.0,773.1 L681.0,770.9 L683.0,768.7 L685.0,766.5 L687.0,764.2 L689.0,761.9 L691.0,759.6 L693.0,757.3 L695.0,754.9 L697.0,752.6 L699.0,750.2 L701.0,747.7 L703.0,745.3 L705.0,742.8 L707.0,740.3 L709.0,737.8 L711.0,735.3 L713.0,732.7 L715.0,730.1 L717.0,727.5 L719.0,724.9 L721.0,722.2 L723.0,719.6 L725.0,716.9 L727.0,714.1 L729.0,711.4 L731.0,708.7 L733.0,705.9 L735.0,703.1 L737.0,700.3 L739.0,697.4 L741.0,694.6 L743.0,691.7 L745.0,688.8 L747.0,685.9 L749.0,683.0 L751.0,680.0 L753.0,677.1 L755.0,674.1 L757.0,671.1 L759.0,668.1 L761.0,665.1 L763.0,662.0 L765.0,659.0 L767.0,655.9 L769.0,652.8 L771.0,649.7 L773.0,646.6 L775.0,643.5 L777.0,640.4 L779.0,637.2 L781.0,634.1 L783.0,630.9 L785.0,627.7 L787.0,624.5 L789.0,621.3 L791.0,618.1 L793.0,614.9 L795.0,611.7 L797.0,608.5 L799.0,605.2 L801.0,602.0 L803.0,598.7 L805.0,595.5 L807.0,592.2 L809.0,589.0 L811.0,585.7 L813.0,582.4 L815.0,579.2 L817.0,575.9 L819.0,572.6 L821.0,569.3 L823.0,566.0 L825.0,562.7 L827.0,559.5 L829.0,556.2 L831.0,552.9 L833.0,549.6 L835.0,546.3 L837.0,543.0 L839.0,539.7 L841.0,536.3 L843.0,532.9 L845.0,529.5 L847.0,526.1 L849.0,522.7 L851.0,519.2 L853.0,515.8 L855.0,512.3 L857.0,508.8 L859.0,505.3 L861.0,501.7 L863.0,498.2 L865.0,494.6 L867.0,491.1 L869.0,487.5 L871.0,483.9 L873.0,480.3 L875.0,476.6 L877.0,473.0 L879.0,469.3 L881.0,465.7 L883.0,462.0 L885.0,458.4 L887.0,454.7 L889.0,451.0 L891.0,447.3 L893.0,443.6 L895.0,439.9 L897.0,436.2 L899.0,432.5 L901.0,428.8 L903.0,425.1 L905.0,421.3 L907.0,417.6 L909.0,413.9 L911.0,410.2 L913.0,406.5 L915.0,402.8 L917.0,399.1 L919.0,395.4 L921.0,391.7 L923.0,388.0 L925.0,384.3 L927.0,380.6 L929.0,376.9 L931.0,373.3 L933.0,369.6 L935.0,365.9 L937.0,362.3 L939.0,358.7 L941.0,355.0 L943.0,351.4 L945.0,347.8 L947.0,344.2 L949.0,340.7 L951.0,337.1 L953.0,333.5 L955.0,330.0 L957.0,326.4 L959.0,322.9 L961.0,319.4 L963.0,315.9 L965.0,312.4 L967.0,308.9 L969.0,305.5 L971.0,302.2 L973.0,299.0 L975.0,295.8 L977.0,292.8 L979.0,289.8 L981.0,286.9 L983.0,284.1 L985.0,281.3 L987.0,278.6 L989.0,276.0 L991.0,273.5 L993.0,271.0 L995.0,268.6 L997.0,266.3 L999.0,264.0 L1001.0,261.8 L1003.0,259.6 L1005.0,257.5 L1007.0,255.4 L1009.0,253.3 L1011.0,251.3 L1013.0,249.3 L1015.0,247.4 L1017.0,245.5 L1019.0,243.6 L1021.0,241.7 L1023.0,239.8 L1025.0,238.0 L1027.0,236.2 L1029.0,234.3 L1031.0,232.5 L1033.0,230.7 L1035.0,228.9 L1037.0,227.1 L1039.0,225.3 L1041.0,223.5 L1043.0,221.7 L1045.0,219.8 L1047.0,218.0 L1049.0,216.1 L1051.0,214.3 L1053.0,212.4 L1055.0,210.5 L1057.0,208.6 L1059.0,206.7 L1061.0,204.7 L1063.0,202.8 L1065.0,200.8 L1067.0,198.8 L1069.0,196.8 L1071.0,194.8 L1073.0,192.8 L1075.0,190.7 L1077.0,188.6 L1079.0,186.6 L1081.0,184.5 L1083.0,182.4 L1085.0,180.2 L1087.0,178.1 L1089.0,176.0 L1091.0,173.8 L1093.0,171.7 L1095.0,169.6 L1097.0,167.4 L1099.0,165.3 L1101.0,163.1 L1103.0,161.0 L1105.0,158.8 L1107.0,156.7 L1109.0,154.6 L1111.0,152.5 L1113.0,150.5 L1115.0,148.4 L1117.0,146.4 L1119.0,144.4 L1121.0,142.4 L1123.0,140.5 L1125.0,138.6 L1127.0,136.7 L1129.0,134.9 L1131.0,133.1 L1133.0,131.4 L1135.0,129.7 L1137.0,128.1 L1139.0,126.6 L1141.0,125.1 L1143.0,123.6 L1145.0,122.3 L1147.0,121.0 L1149.0,119.8 L1151.0,118.6 L1153.0,117.6 L1155.0,116.6 L1157.0,115.7 L1159.0,114.9 L1161.0,114.2 L1163.0,113.6 L1165.0,113.0 L1167.0,112.6 L1169.0,112.3 L1171.0,112.1 L1173.0,112.0 L1175.0,112.0 L1177.0,112.1 L1179.0,112.4 L1181.0,112.7 L1183.0,113.2 L1185.0,113.8 L1187.0,114.5 L1189.0,115.3 L1191.0,116.3 L1193.0,117.4 L1195.0,118.6 L1197.0,120.0 L1199.0,121.4 L1201.0,123.1 L1203.0,124.8 L1205.0,126.8 L1207.0,128.9 L1209.0,131.2 L1211.0,133.6 L1213.0,136.2 L1215.0,139.0 L1217.0,141.9 L1219.0,145.1 L1221.0,148.3 L1223.0,151.8 L1225.0,155.4 L1227.0,159.2 L1229.0,163.1 L1231.0,167.2 L1233.0,171.5 L1235.0,175.9 L1237.0,180.5 L1239.0,185.2 L1241.0,190.1 L1243.0,195.1 L1245.0,200.3 L1247.0,205.6 L1249.0,211.0 L1251.0,216.6 L1253.0,222.3 L1255.0,228.2 L1257.0,234.2 L1259.0,240.3 L1261.0,246.5 L1263.0,252.9 L1265.0,259.3 L1267.0,265.9 L1269.0,272.6 L1271.0,279.4 L1273.0,286.3 L1275.0,293.2 L1277.0,300.3 L1279.0,307.5 L1281.0,314.7 L1283.0,322.0 L1285.0,329.4 L1287.0,336.9 L1289.0,344.4 L1291.0,352.0 L1293.0,359.7 L1295.0,367.4 L1297.0,375.1 L1299.0,382.9 L1301.0,390.8 L1303.0,398.6 L1305.0,406.5 L1307.0,414.5 L1309.0,422.4 L1311.0,430.4 L1313.0,438.4 L1315.0,446.4 L1317.0,454.4 L1319.0,462.4 L1321.0,470.4 L1323.0,478.4 L1325.0,486.4 L1327.0,494.4 L1329.0,502.3 L1331.0,510.3 L1333.0,518.2 L1335.0,526.1 L1337.0,533.9 L1339.0,541.8 L1341.0,549.6 L1343.0,557.3 L1345.0,565.0 L1347.0,572.7 L1349.0,580.3 L1351.0,587.8 L1353.0,595.3 L1355.0,602.8 L1357.0,610.1 L1359.0,617.5 L1361.0,624.7 L1363.0,631.9 L1365.0,639.0 L1367.0,646.1 L1369.0,653.0 L1371.0,659.9 L1373.0,666.7 L1375.0,673.5 L1377.0,680.1 L1379.0,686.7 L1381.0,693.2 L1383.0,699.6 L1385.0,705.9 L1387.0,712.2 L1389.0,718.3 L1391.0,724.4 L1393.0,730.3 L1395.0,736.2 L1397.0,742.0 L1399.0,747.7 L1401.0,753.3 L1403.0,758.8 L1405.0,764.2 L1407.0,769.6 L1409.0,774.8 L1411.0,779.9 L1413.0,785.0 L1415.0,789.9 L1417.0,794.8 L1419.0,799.6 L1421.0,804.2 L1423.0,808.8 L1425.0,813.3 L1427.0,817.7 L1429.0,822.0 L1431.0,826.2 L1433.0,830.4 L1435.0,834.4 L1437.0,838.3 L1439.0,842.2 L1441.0,846.0 L1443.0,849.7 L1445.0,853.3 L1447.0,856.8 L1449.0,860.3 L1451.0,863.6 L1453.0,866.9 L1455.0,870.1 L1457.0,873.2 L1459.0,876.2 L1461.0,879.2 L1463.0,882.1 L1465.0,884.9 L1467.0,887.7 L1469.0,890.3 L1471.0,892.9 L1473.0,895.5 L1475.0,897.9 L1477.0,900.3 L1479.0,902.6 L1481.0,904.9 L1483.0,907.1 L1485.0,909.2 L1487.0,911.3 L1489.0,913.3 L1491.0,915.3 L1493.0,917.2 L1495.0,919.0 L1497.0,920.8 L1499.0,922.6 L1501.0,924.3 L1503.0,925.9 L1505.0,927.5 L1507.0,929.0 L1509.0,930.5 L1511.0,932.0 L1513.0,933.4 L1515.0,934.7 L1517.0,936.0 L1519.0,937.3 L1521.0,938.5 L1523.0,939.7 L1525.0,940.9 L1527.0,942.0 L1529.0,943.1 L1531.0,944.1 L1533.0,945.1 L1535.0,946.1 L1537.0,947.1 L1539.0,948.0 L1541.0,948.9 L1543.0,949.7 L1545.0,950.6 L1547.0,951.3 L1549.0,952.1 L1551.0,952.9 L1553.0,953.6 L1555.0,954.3 L1557.0,955.0 L1559.0,955.6 L1561.0,956.2 L1563.0,956.8 L1565.0,957.4 L1567.0,958.0 L1569.0,958.5 L1571.0,959.1 L1573.0,959.6 L1575.0,960.1 L1577.0,960.5 L1579.0,961.0 L1581.0,961.5 L1583.0,961.9 L1585.0,962.3 L1587.0,962.7 L1589.0,963.1 L1591.0,963.5 L1593.0,963.8 L1595.0,964.2 L1597.0,964.5 L1599.0,964.8 L1601.0,965.1 L1603.0,965.4 L1605.0,965.7 L1607.0,966.0 L1609.0,966.3 L1611.0,966.6 L1613.0,966.8 L1615.0,967.1 L1617.0,967.3 L1619.0,967.5 L1621.0,967.8 L1623.0,968.0 L1625.0,968.2 L1627.0,968.4 L1629.0,968.6 L1631.0,968.8 L1633.0,969.0 L1635.0,969.2 L1637.0,969.3 L1639.0,969.5 L1641.0,969.7 L1643.0,969.8 L1645.0,970.0 L1647.0,970.1 L1649.0,970.3 L1651.0,970.4 L1653.0,970.6 L1655.0,970.7 L1657.0,970.8 L1659.0,971.0 L1661.0,971.1 L1663.0,971.2 L1665.0,971.3 L1667.0,971.4 L1669.0,971.5 L1671.0,971.7 L1673.0,971.8 L1675.0,971.9 L1677.0,972.0 L1679.0,972.1" fill="none" stroke="#cc2a2c" stroke-width="6" stroke-linejoin="round"/>
<g fill="#c04a6a" fill-opacity="0.5" stroke="#4a0818" stroke-width="2.2"><circle cx="177.0" cy="900.8" r="5.5"/><circle cx="190.3" cy="901.9" r="5.5"/><circle cx="203.5" cy="899.8" r="5.5"/><circle cx="216.8" cy="892.2" r="5.5"/><circle cx="230.1" cy="900.7" r="5.5"/><circle cx="243.3" cy="907.1" r="5.5"/><circle cx="256.6" cy="899.3" r="5.5"/><circle cx="269.9" cy="903.3" r="5.5"/><circle cx="283.1" cy="901.0" r="5.5"/><circle cx="296.4" cy="893.7" r="5.5"/><circle cx="309.7" cy="898.5" r="5.5"/><circle cx="322.9" cy="906.1" r="5.5"/><circle cx="336.2" cy="899.5" r="5.5"/><circle cx="349.5" cy="888.7" r="5.5"/><circle cx="362.7" cy="896.5" r="5.5"/><circle cx="376.0" cy="900.1" r="5.5"/><circle cx="389.3" cy="892.9" r="5.5"/><circle cx="1689.4" cy="969.2" r="5.5"/><circle cx="1702.7" cy="978.5" r="5.5"/><circle cx="1715.9" cy="983.4" r="5.5"/><circle cx="1729.2" cy="977.0" r="5.5"/><circle cx="1742.5" cy="976.0" r="5.5"/><circle cx="1755.7" cy="978.2" r="5.5"/><circle cx="1769.0" cy="978.6" r="5.5"/></g>
<path d="M178.6,900.8 L191.6,902.0 L204.6,899.6 L214.0,893.0 L223.6,890.1 L236.6,911.5 L249.6,903.0 L262.7,896.1 L275.7,909.1 L288.7,894.9 L304.2,892.5 L316.0,905.5 L329.0,906.7 L342.0,893.7 L356.3,884.2 L368.1,906.7 L382.3,894.9 L395.0,891.3" fill="none" stroke="#a0173f" stroke-width="7" stroke-linejoin="round"/>
<path d="M1678.5,970.3 L1690.3,969.1 L1699.0,976.0 L1708.1,982.1 L1722.3,984.5 L1735.4,970.3 L1747.2,979.8 L1757.0,978.0 L1769.0,978.6" fill="none" stroke="#a0173f" stroke-width="7" stroke-linejoin="round"/>
<!-- frame -->
<line x1="179.5" y1="44" x2="179.5" y2="1040" stroke="#d0d0d0" stroke-width="2"/>
<line x1="176" y1="40" x2="176" y2="1044" stroke="#727272" stroke-width="3.6"/>
<line x1="178" y1="45" x2="1766" y2="45" stroke="#e2e2e2" stroke-width="1.6"/>
<line x1="175" y1="42.1" x2="1771" y2="42.1" stroke="#0a0a0a" stroke-width="3.6"/>
<line x1="1768.8" y1="40" x2="1768.8" y2="1044" stroke="#444" stroke-width="4.5"/>
<line x1="175" y1="1041.6" x2="1772" y2="1041.6" stroke="#555" stroke-width="3.8"/>
<line x1="175" y1="1044.6" x2="1772" y2="1044.6" stroke="#bbb" stroke-width="2.2"/>
<g stroke="#222" stroke-width="4">
<line x1="575" y1="1040" x2="575" y2="1030"/><line x1="973" y1="1040" x2="973" y2="1030"/><line x1="1371" y1="1040" x2="1371" y2="1030"/>
<line x1="376.5" y1="1040" x2="376.5" y2="1035"/><line x1="774.5" y1="1040" x2="774.5" y2="1035"/><line x1="1172.5" y1="1040" x2="1172.5" y2="1035"/><line x1="1570.5" y1="1040" x2="1570.5" y2="1035"/>
<line x1="575" y1="44" x2="575" y2="56"/><line x1="973" y1="44" x2="973" y2="56"/><line x1="1371" y1="44" x2="1371" y2="56"/>
<line x1="376.5" y1="44" x2="376.5" y2="50"/><line x1="774.5" y1="44" x2="774.5" y2="50"/><line x1="1172.5" y1="44" x2="1172.5" y2="50"/><line x1="1570.5" y1="44" x2="1570.5" y2="50"/>
</g>
<!-- legend -->
<rect x="189" y="82" width="84" height="82" fill="#99d9ea" stroke="#a9c7d0" stroke-width="2"/>
<rect x="189" y="197" width="80" height="78" fill="#00a2e8" stroke="#4a8cb2" stroke-width="3"/>
<rect x="189" y="405.5" width="80" height="84" fill="#3f48cc" stroke="#4a4f9a" stroke-width="3"/>
<g fill="#000" font-family="'Liberation Sans', sans-serif" font-weight="bold" font-size="62">
<text transform="translate(298 145.6) scale(1.07 1.3)">–</text>
<text x="292" y="248.5">–</text>
<text transform="translate(295.3 456.6) scale(1.07 1)">–</text>
</g>
<g font-family="'Liberation Serif', serif" font-size="62" fill="#000">
<text x="349.5" y="144">iron oxide</text>
<text x="339.5" y="247">hydroxyl groups and</text>
<text x="341.5" y="318" textLength="452" lengthAdjust="spacing">oxygen-containing</text>
<text x="341.5" y="388.5" textLength="483" lengthAdjust="spacing">carbon compounds</text>
<text x="343" y="453.5">adsorbed water</text>
<text x="342.5" y="524">molecules, etc.</text>
</g>
<g font-family="'Liberation Sans', sans-serif" font-size="82" fill="#000">
<text transform="translate(123 1147) scale(0.95 1)">538</text>
<text transform="translate(522.5 1147) scale(0.95 1)">535</text>
<text transform="translate(919 1147) scale(0.95 1)">532</text>
<text transform="translate(1316.5 1147) scale(0.95 1)">529</text>
<text transform="translate(1713.5 1147) scale(0.95 1)">526</text>
</g>
<text transform="translate(1593 157.5) scale(0.97 1)" font-family="'Liberation Sans', sans-serif" font-size="65" fill="#000">O1s</text>
<text x="623" y="1299.5" font-family="'Liberation Serif', serif" font-size="93" fill="#000">Binding Energy / eV</text>
<text transform="translate(87 906) rotate(-90)" font-family="'Liberation Serif', serif" font-size="95" fill="#000">Intensity / kCounts</text>
</svg>
</body></html>
